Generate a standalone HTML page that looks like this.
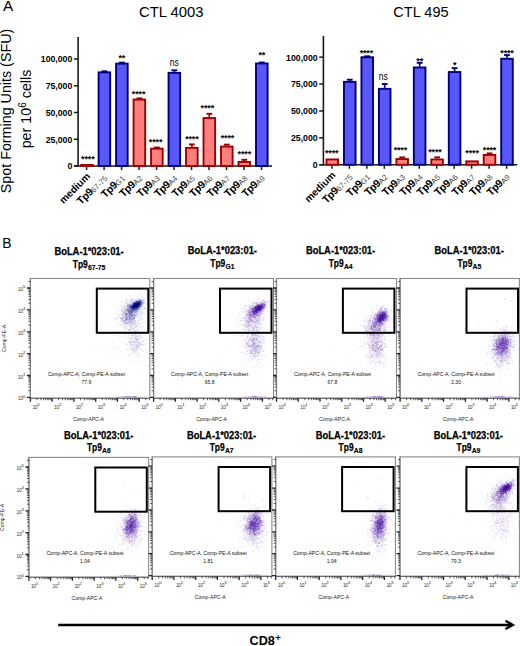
<!DOCTYPE html>
<html><head><meta charset="utf-8"><style>
html,body{margin:0;padding:0;background:#fff;overflow:hidden;}
svg{display:block;font-family:"Liberation Sans", sans-serif;}
</style></head><body>
<svg width="520" height="646" viewBox="0 0 520 646">
<rect width="520" height="646" fill="#fff"/>
<text x="3.0" y="10.8" font-size="15.3" fill="#000">A</text>
<text x="171.3" y="17.2" font-size="14.8" text-anchor="middle">CTL 4003</text>
<text x="421" y="16.6" font-size="14.6" text-anchor="middle">CTL 495</text>
<text transform="translate(11.4,111) rotate(-90)" font-size="14.3" text-anchor="middle">Spot Forming Units (SFU)</text>
<text transform="translate(30.7,109) rotate(-90)" font-size="14.3" text-anchor="middle">per 10<tspan font-size="10" dy="-5.2">6</tspan><tspan dy="5.2"> cells</tspan></text>
<line x1="78.1" y1="37" x2="78.1" y2="166.75" stroke="#1a1a1a" stroke-width="1.6"/>
<line x1="74.1" y1="166" x2="272" y2="166" stroke="#1a1a1a" stroke-width="1.6"/>
<line x1="73.89999999999999" y1="166.00" x2="78.1" y2="166.00" stroke="#1a1a1a" stroke-width="1.5"/>
<text x="72.3" y="169.40" font-size="9.6" font-weight="bold" text-anchor="end" textLength="4.85" lengthAdjust="spacingAndGlyphs">0</text>
<line x1="73.89999999999999" y1="139.25" x2="78.1" y2="139.25" stroke="#1a1a1a" stroke-width="1.5"/>
<text x="72.3" y="142.65" font-size="9.6" font-weight="bold" text-anchor="end" textLength="26.66" lengthAdjust="spacingAndGlyphs">25,000</text>
<line x1="73.89999999999999" y1="112.50" x2="78.1" y2="112.50" stroke="#1a1a1a" stroke-width="1.5"/>
<text x="72.3" y="115.90" font-size="9.6" font-weight="bold" text-anchor="end" textLength="26.66" lengthAdjust="spacingAndGlyphs">50,000</text>
<line x1="73.89999999999999" y1="85.75" x2="78.1" y2="85.75" stroke="#1a1a1a" stroke-width="1.5"/>
<text x="72.3" y="89.15" font-size="9.6" font-weight="bold" text-anchor="end" textLength="26.66" lengthAdjust="spacingAndGlyphs">75,000</text>
<line x1="73.89999999999999" y1="59.00" x2="78.1" y2="59.00" stroke="#1a1a1a" stroke-width="1.5"/>
<text x="72.3" y="62.40" font-size="9.6" font-weight="bold" text-anchor="end" textLength="31.50" lengthAdjust="spacingAndGlyphs">100,000</text>
<line x1="86.60" y1="166" x2="86.60" y2="170" stroke="#1a1a1a" stroke-width="1.5"/>
<text transform="translate(90.80,177.00) rotate(-45)" font-size="10.1" font-weight="bold" text-anchor="end">medium</text>
<line x1="104.09" y1="166" x2="104.09" y2="170" stroke="#1a1a1a" stroke-width="1.5"/>
<text transform="translate(107.69,178.60) rotate(-45)" font-size="10.6" font-weight="bold" text-anchor="end" letter-spacing="-0.4">Tp9<tspan font-weight="normal" font-size="7.8" fill="#4a4a4a" dy="0.6" letter-spacing="0">67-75</tspan></text>
<line x1="121.58" y1="166" x2="121.58" y2="170" stroke="#1a1a1a" stroke-width="1.5"/>
<text transform="translate(125.18,178.60) rotate(-45)" font-size="10.6" font-weight="bold" text-anchor="end" letter-spacing="-0.4">Tp9<tspan font-weight="normal" font-size="7.8" fill="#4a4a4a" dy="0.6" letter-spacing="0">G1</tspan></text>
<line x1="139.07" y1="166" x2="139.07" y2="170" stroke="#1a1a1a" stroke-width="1.5"/>
<text transform="translate(142.67,178.60) rotate(-45)" font-size="10.6" font-weight="bold" text-anchor="end" letter-spacing="-0.4">Tp9<tspan font-weight="normal" font-size="7.8" fill="#4a4a4a" dy="0.6" letter-spacing="0">A2</tspan></text>
<line x1="156.56" y1="166" x2="156.56" y2="170" stroke="#1a1a1a" stroke-width="1.5"/>
<text transform="translate(160.16,178.60) rotate(-45)" font-size="10.6" font-weight="bold" text-anchor="end" letter-spacing="-0.4">Tp9<tspan font-weight="normal" font-size="7.8" fill="#4a4a4a" dy="0.6" letter-spacing="0">A3</tspan></text>
<line x1="174.05" y1="166" x2="174.05" y2="170" stroke="#1a1a1a" stroke-width="1.5"/>
<text transform="translate(177.65,178.60) rotate(-45)" font-size="10.6" font-weight="bold" text-anchor="end" letter-spacing="-0.4">Tp9<tspan font-weight="normal" font-size="7.8" fill="#4a4a4a" dy="0.6" letter-spacing="0">A4</tspan></text>
<line x1="191.54" y1="166" x2="191.54" y2="170" stroke="#1a1a1a" stroke-width="1.5"/>
<text transform="translate(195.14,178.60) rotate(-45)" font-size="10.6" font-weight="bold" text-anchor="end" letter-spacing="-0.4">Tp9<tspan font-weight="normal" font-size="7.8" fill="#4a4a4a" dy="0.6" letter-spacing="0">A5</tspan></text>
<line x1="209.03" y1="166" x2="209.03" y2="170" stroke="#1a1a1a" stroke-width="1.5"/>
<text transform="translate(212.63,178.60) rotate(-45)" font-size="10.6" font-weight="bold" text-anchor="end" letter-spacing="-0.4">Tp9<tspan font-weight="normal" font-size="7.8" fill="#4a4a4a" dy="0.6" letter-spacing="0">A6</tspan></text>
<line x1="226.52" y1="166" x2="226.52" y2="170" stroke="#1a1a1a" stroke-width="1.5"/>
<text transform="translate(230.12,178.60) rotate(-45)" font-size="10.6" font-weight="bold" text-anchor="end" letter-spacing="-0.4">Tp9<tspan font-weight="normal" font-size="7.8" fill="#4a4a4a" dy="0.6" letter-spacing="0">A7</tspan></text>
<line x1="244.01" y1="166" x2="244.01" y2="170" stroke="#1a1a1a" stroke-width="1.5"/>
<text transform="translate(247.61,178.60) rotate(-45)" font-size="10.6" font-weight="bold" text-anchor="end" letter-spacing="-0.4">Tp9<tspan font-weight="normal" font-size="7.8" fill="#4a4a4a" dy="0.6" letter-spacing="0">A8</tspan></text>
<line x1="261.50" y1="166" x2="261.50" y2="170" stroke="#1a1a1a" stroke-width="1.5"/>
<text transform="translate(265.10,178.60) rotate(-45)" font-size="10.6" font-weight="bold" text-anchor="end" letter-spacing="-0.4">Tp9<tspan font-weight="normal" font-size="7.8" fill="#4a4a4a" dy="0.6" letter-spacing="0">A9</tspan></text>
<rect x="81.10" y="164.95" width="11.60" height="1.05" fill="#ff7f7f" stroke="#9c0000" stroke-width="1.9"/>
<text x="87.80" y="161.50" font-size="9" font-weight="bold" text-anchor="middle" letter-spacing="-0.15">****</text>
<line x1="104.39" y1="71.40" x2="104.39" y2="71.00" stroke="#000078" stroke-width="1.7"/>
<line x1="101.49" y1="71.30" x2="107.29" y2="71.30" stroke="#000078" stroke-width="1.9"/>
<rect x="98.59" y="72.35" width="11.60" height="93.65" fill="#5757fa" stroke="#000078" stroke-width="1.9"/>
<line x1="121.88" y1="62.70" x2="121.88" y2="62.30" stroke="#000078" stroke-width="1.7"/>
<line x1="118.98" y1="62.60" x2="124.78" y2="62.60" stroke="#000078" stroke-width="1.9"/>
<rect x="116.08" y="63.65" width="11.60" height="102.35" fill="#5757fa" stroke="#000078" stroke-width="1.9"/>
<text x="121.88" y="60.80" font-size="9" font-weight="bold" text-anchor="middle" letter-spacing="-0.15">**</text>
<line x1="139.37" y1="98.60" x2="139.37" y2="98.10" stroke="#9c0000" stroke-width="1.7"/>
<line x1="136.47" y1="98.40" x2="142.27" y2="98.40" stroke="#9c0000" stroke-width="1.9"/>
<rect x="133.57" y="99.55" width="11.60" height="66.45" fill="#ff7f7f" stroke="#9c0000" stroke-width="1.9"/>
<text x="138.57" y="96.50" font-size="9" font-weight="bold" text-anchor="middle" letter-spacing="-0.15">****</text>
<line x1="156.86" y1="147.70" x2="156.86" y2="147.20" stroke="#9c0000" stroke-width="1.7"/>
<line x1="153.96" y1="147.50" x2="159.76" y2="147.50" stroke="#9c0000" stroke-width="1.9"/>
<rect x="151.06" y="148.65" width="11.60" height="17.35" fill="#ff7f7f" stroke="#9c0000" stroke-width="1.9"/>
<text x="155.56" y="145.10" font-size="9" font-weight="bold" text-anchor="middle" letter-spacing="-0.15">****</text>
<line x1="174.35" y1="71.90" x2="174.35" y2="70.00" stroke="#000078" stroke-width="1.7"/>
<line x1="171.45" y1="70.30" x2="177.25" y2="70.30" stroke="#000078" stroke-width="1.9"/>
<rect x="168.55" y="72.85" width="11.60" height="93.15" fill="#5757fa" stroke="#000078" stroke-width="1.9"/>
<text x="169.85" y="66.20" font-size="10.4" textLength="9" lengthAdjust="spacingAndGlyphs">ns</text>
<line x1="191.84" y1="146.90" x2="191.84" y2="144.10" stroke="#9c0000" stroke-width="1.7"/>
<line x1="188.94" y1="144.40" x2="194.74" y2="144.40" stroke="#9c0000" stroke-width="1.9"/>
<rect x="186.04" y="147.85" width="11.60" height="18.15" fill="#ff7f7f" stroke="#9c0000" stroke-width="1.9"/>
<text x="191.84" y="141.75" font-size="9" font-weight="bold" text-anchor="middle" letter-spacing="-0.15">****</text>
<line x1="209.33" y1="117.10" x2="209.33" y2="113.50" stroke="#9c0000" stroke-width="1.7"/>
<line x1="206.43" y1="113.80" x2="212.23" y2="113.80" stroke="#9c0000" stroke-width="1.9"/>
<rect x="203.53" y="118.05" width="11.60" height="47.95" fill="#ff7f7f" stroke="#9c0000" stroke-width="1.9"/>
<text x="207.33" y="111.40" font-size="9" font-weight="bold" text-anchor="middle" letter-spacing="-0.15">****</text>
<line x1="226.82" y1="145.60" x2="226.82" y2="144.30" stroke="#9c0000" stroke-width="1.7"/>
<line x1="223.92" y1="144.60" x2="229.72" y2="144.60" stroke="#9c0000" stroke-width="1.9"/>
<rect x="221.02" y="146.55" width="11.60" height="19.45" fill="#ff7f7f" stroke="#9c0000" stroke-width="1.9"/>
<text x="227.42" y="141.00" font-size="9" font-weight="bold" text-anchor="middle" letter-spacing="-0.15">****</text>
<line x1="244.31" y1="161.00" x2="244.31" y2="159.50" stroke="#9c0000" stroke-width="1.7"/>
<line x1="241.41" y1="159.80" x2="247.21" y2="159.80" stroke="#9c0000" stroke-width="1.9"/>
<rect x="238.51" y="161.95" width="11.60" height="4.05" fill="#ff7f7f" stroke="#9c0000" stroke-width="1.9"/>
<text x="244.31" y="156.50" font-size="9" font-weight="bold" text-anchor="middle" letter-spacing="-0.15">****</text>
<line x1="261.80" y1="62.50" x2="261.80" y2="62.20" stroke="#000078" stroke-width="1.7"/>
<line x1="258.90" y1="62.50" x2="264.70" y2="62.50" stroke="#000078" stroke-width="1.9"/>
<rect x="256.00" y="63.45" width="11.60" height="102.55" fill="#5757fa" stroke="#000078" stroke-width="1.9"/>
<text x="261.80" y="57.50" font-size="9" font-weight="bold" text-anchor="middle" letter-spacing="-0.15">**</text>
<line x1="323.4" y1="35.9" x2="323.4" y2="165.5" stroke="#1a1a1a" stroke-width="1.6"/>
<line x1="319.4" y1="164.75" x2="517.3" y2="164.75" stroke="#1a1a1a" stroke-width="1.6"/>
<line x1="319.2" y1="164.75" x2="323.4" y2="164.75" stroke="#1a1a1a" stroke-width="1.5"/>
<text x="317.59999999999997" y="168.15" font-size="9.6" font-weight="bold" text-anchor="end" textLength="4.85" lengthAdjust="spacingAndGlyphs">0</text>
<line x1="319.2" y1="137.85" x2="323.4" y2="137.85" stroke="#1a1a1a" stroke-width="1.5"/>
<text x="317.59999999999997" y="141.25" font-size="9.6" font-weight="bold" text-anchor="end" textLength="26.66" lengthAdjust="spacingAndGlyphs">25,000</text>
<line x1="319.2" y1="110.95" x2="323.4" y2="110.95" stroke="#1a1a1a" stroke-width="1.5"/>
<text x="317.59999999999997" y="114.35" font-size="9.6" font-weight="bold" text-anchor="end" textLength="26.66" lengthAdjust="spacingAndGlyphs">50,000</text>
<line x1="319.2" y1="84.05" x2="323.4" y2="84.05" stroke="#1a1a1a" stroke-width="1.5"/>
<text x="317.59999999999997" y="87.45" font-size="9.6" font-weight="bold" text-anchor="end" textLength="26.66" lengthAdjust="spacingAndGlyphs">75,000</text>
<line x1="319.2" y1="57.15" x2="323.4" y2="57.15" stroke="#1a1a1a" stroke-width="1.5"/>
<text x="317.59999999999997" y="60.55" font-size="9.6" font-weight="bold" text-anchor="end" textLength="31.50" lengthAdjust="spacingAndGlyphs">100,000</text>
<line x1="331.90" y1="164.75" x2="331.90" y2="168.75" stroke="#1a1a1a" stroke-width="1.5"/>
<text transform="translate(336.10,175.75) rotate(-45)" font-size="10.1" font-weight="bold" text-anchor="end">medium</text>
<line x1="349.37" y1="164.75" x2="349.37" y2="168.75" stroke="#1a1a1a" stroke-width="1.5"/>
<text transform="translate(352.97,177.35) rotate(-45)" font-size="10.6" font-weight="bold" text-anchor="end" letter-spacing="-0.4">Tp9<tspan font-weight="normal" font-size="7.8" fill="#4a4a4a" dy="0.6" letter-spacing="0">67-75</tspan></text>
<line x1="366.84" y1="164.75" x2="366.84" y2="168.75" stroke="#1a1a1a" stroke-width="1.5"/>
<text transform="translate(370.44,177.35) rotate(-45)" font-size="10.6" font-weight="bold" text-anchor="end" letter-spacing="-0.4">Tp9<tspan font-weight="normal" font-size="7.8" fill="#4a4a4a" dy="0.6" letter-spacing="0">G1</tspan></text>
<line x1="384.31" y1="164.75" x2="384.31" y2="168.75" stroke="#1a1a1a" stroke-width="1.5"/>
<text transform="translate(387.91,177.35) rotate(-45)" font-size="10.6" font-weight="bold" text-anchor="end" letter-spacing="-0.4">Tp9<tspan font-weight="normal" font-size="7.8" fill="#4a4a4a" dy="0.6" letter-spacing="0">A2</tspan></text>
<line x1="401.78" y1="164.75" x2="401.78" y2="168.75" stroke="#1a1a1a" stroke-width="1.5"/>
<text transform="translate(405.38,177.35) rotate(-45)" font-size="10.6" font-weight="bold" text-anchor="end" letter-spacing="-0.4">Tp9<tspan font-weight="normal" font-size="7.8" fill="#4a4a4a" dy="0.6" letter-spacing="0">A3</tspan></text>
<line x1="419.25" y1="164.75" x2="419.25" y2="168.75" stroke="#1a1a1a" stroke-width="1.5"/>
<text transform="translate(422.85,177.35) rotate(-45)" font-size="10.6" font-weight="bold" text-anchor="end" letter-spacing="-0.4">Tp9<tspan font-weight="normal" font-size="7.8" fill="#4a4a4a" dy="0.6" letter-spacing="0">A4</tspan></text>
<line x1="436.72" y1="164.75" x2="436.72" y2="168.75" stroke="#1a1a1a" stroke-width="1.5"/>
<text transform="translate(440.32,177.35) rotate(-45)" font-size="10.6" font-weight="bold" text-anchor="end" letter-spacing="-0.4">Tp9<tspan font-weight="normal" font-size="7.8" fill="#4a4a4a" dy="0.6" letter-spacing="0">A5</tspan></text>
<line x1="454.19" y1="164.75" x2="454.19" y2="168.75" stroke="#1a1a1a" stroke-width="1.5"/>
<text transform="translate(457.79,177.35) rotate(-45)" font-size="10.6" font-weight="bold" text-anchor="end" letter-spacing="-0.4">Tp9<tspan font-weight="normal" font-size="7.8" fill="#4a4a4a" dy="0.6" letter-spacing="0">A6</tspan></text>
<line x1="471.66" y1="164.75" x2="471.66" y2="168.75" stroke="#1a1a1a" stroke-width="1.5"/>
<text transform="translate(475.26,177.35) rotate(-45)" font-size="10.6" font-weight="bold" text-anchor="end" letter-spacing="-0.4">Tp9<tspan font-weight="normal" font-size="7.8" fill="#4a4a4a" dy="0.6" letter-spacing="0">A7</tspan></text>
<line x1="489.13" y1="164.75" x2="489.13" y2="168.75" stroke="#1a1a1a" stroke-width="1.5"/>
<text transform="translate(492.73,177.35) rotate(-45)" font-size="10.6" font-weight="bold" text-anchor="end" letter-spacing="-0.4">Tp9<tspan font-weight="normal" font-size="7.8" fill="#4a4a4a" dy="0.6" letter-spacing="0">A8</tspan></text>
<line x1="506.60" y1="164.75" x2="506.60" y2="168.75" stroke="#1a1a1a" stroke-width="1.5"/>
<text transform="translate(510.20,177.35) rotate(-45)" font-size="10.6" font-weight="bold" text-anchor="end" letter-spacing="-0.4">Tp9<tspan font-weight="normal" font-size="7.8" fill="#4a4a4a" dy="0.6" letter-spacing="0">A9</tspan></text>
<rect x="326.50" y="159.45" width="11.60" height="5.30" fill="#ff7f7f" stroke="#9c0000" stroke-width="1.9"/>
<text x="331.70" y="155.75" font-size="9" font-weight="bold" text-anchor="middle" letter-spacing="-0.15">****</text>
<line x1="349.77" y1="80.90" x2="349.77" y2="79.40" stroke="#000078" stroke-width="1.7"/>
<line x1="346.87" y1="79.70" x2="352.67" y2="79.70" stroke="#000078" stroke-width="1.9"/>
<rect x="343.97" y="81.85" width="11.60" height="82.90" fill="#5757fa" stroke="#000078" stroke-width="1.9"/>
<line x1="367.24" y1="56.30" x2="367.24" y2="56.00" stroke="#000078" stroke-width="1.7"/>
<line x1="364.34" y1="56.30" x2="370.14" y2="56.30" stroke="#000078" stroke-width="1.9"/>
<rect x="361.44" y="57.25" width="11.60" height="107.50" fill="#5757fa" stroke="#000078" stroke-width="1.9"/>
<text x="366.34" y="56.40" font-size="9" font-weight="bold" text-anchor="middle" letter-spacing="-0.15">****</text>
<line x1="384.71" y1="87.90" x2="384.71" y2="83.75" stroke="#000078" stroke-width="1.7"/>
<line x1="381.81" y1="84.05" x2="387.61" y2="84.05" stroke="#000078" stroke-width="1.9"/>
<rect x="378.91" y="88.85" width="11.60" height="75.90" fill="#5757fa" stroke="#000078" stroke-width="1.9"/>
<text x="378.81" y="80.00" font-size="10.4" textLength="9" lengthAdjust="spacingAndGlyphs">ns</text>
<line x1="402.18" y1="158.10" x2="402.18" y2="157.10" stroke="#9c0000" stroke-width="1.7"/>
<line x1="399.28" y1="157.40" x2="405.08" y2="157.40" stroke="#9c0000" stroke-width="1.9"/>
<rect x="396.38" y="159.05" width="11.60" height="5.70" fill="#ff7f7f" stroke="#9c0000" stroke-width="1.9"/>
<text x="400.38" y="153.00" font-size="9" font-weight="bold" text-anchor="middle" letter-spacing="-0.15">****</text>
<line x1="419.65" y1="66.50" x2="419.65" y2="62.50" stroke="#000078" stroke-width="1.7"/>
<line x1="416.75" y1="62.80" x2="422.55" y2="62.80" stroke="#000078" stroke-width="1.9"/>
<rect x="413.85" y="67.45" width="11.60" height="97.30" fill="#5757fa" stroke="#000078" stroke-width="1.9"/>
<text x="419.65" y="63.50" font-size="9" font-weight="bold" text-anchor="middle" letter-spacing="-0.15">**</text>
<line x1="437.12" y1="158.50" x2="437.12" y2="157.00" stroke="#9c0000" stroke-width="1.7"/>
<line x1="434.22" y1="157.30" x2="440.02" y2="157.30" stroke="#9c0000" stroke-width="1.9"/>
<rect x="431.32" y="159.45" width="11.60" height="5.30" fill="#ff7f7f" stroke="#9c0000" stroke-width="1.9"/>
<text x="434.92" y="154.90" font-size="9" font-weight="bold" text-anchor="middle" letter-spacing="-0.15">****</text>
<line x1="454.59" y1="71.10" x2="454.59" y2="67.80" stroke="#000078" stroke-width="1.7"/>
<line x1="451.69" y1="68.10" x2="457.49" y2="68.10" stroke="#000078" stroke-width="1.9"/>
<rect x="448.79" y="72.05" width="11.60" height="92.70" fill="#5757fa" stroke="#000078" stroke-width="1.9"/>
<text x="454.59" y="68.00" font-size="9" font-weight="bold" text-anchor="middle" letter-spacing="-0.15">*</text>
<rect x="466.26" y="161.35" width="11.60" height="3.40" fill="#ff7f7f" stroke="#9c0000" stroke-width="1.9"/>
<text x="472.06" y="156.10" font-size="9" font-weight="bold" text-anchor="middle" letter-spacing="-0.15">****</text>
<line x1="489.53" y1="154.00" x2="489.53" y2="153.10" stroke="#9c0000" stroke-width="1.7"/>
<line x1="486.63" y1="153.40" x2="492.43" y2="153.40" stroke="#9c0000" stroke-width="1.9"/>
<rect x="483.73" y="154.95" width="11.60" height="9.80" fill="#ff7f7f" stroke="#9c0000" stroke-width="1.9"/>
<text x="489.53" y="153.00" font-size="9" font-weight="bold" text-anchor="middle" letter-spacing="-0.15">****</text>
<line x1="507.00" y1="57.80" x2="507.00" y2="54.80" stroke="#000078" stroke-width="1.7"/>
<line x1="504.10" y1="55.10" x2="509.90" y2="55.10" stroke="#000078" stroke-width="1.9"/>
<rect x="501.20" y="58.75" width="11.60" height="106.00" fill="#5757fa" stroke="#000078" stroke-width="1.9"/>
<text x="507.00" y="56.10" font-size="9" font-weight="bold" text-anchor="middle" letter-spacing="-0.15">****</text>
<text x="2.3" y="247.8" font-size="14" fill="#000">B</text>
<text x="54.4" y="255.0" font-size="10.2" font-weight="bold" stroke="#000" stroke-width="0.25" textLength="69.3" lengthAdjust="spacingAndGlyphs">BoLA-1*023:01-</text>
<text x="72.8" y="267.6" font-size="10.2" font-weight="bold" stroke="#000" stroke-width="0.25" textLength="15" lengthAdjust="spacingAndGlyphs">Tp9</text>
<text x="88.0" y="269.9" font-size="6.8" font-weight="bold" stroke="#000" stroke-width="0.15">67-75</text>
<rect x="30.4" y="278.5" width="119.4" height="119.69999999999999" fill="#fff" stroke="#8a8a8a" stroke-width="1.1"/>
<g transform="translate(30.4,278.6) scale(0.1)" stroke="#14168a" stroke-width="7.0" stroke-linecap="round" fill="none"><path d="M991 200h3m-202 4h3m-53 20h3m240 3h3m98 11h3m-265 29h3m244 25h3m-207 26h3m2 1h3m-191 50h3m275 5h3m-207 8h3m153 18h3m-53 1h3m45 15h3m-46 13h3m41 3h3m249 1h3m-264 6h3m-42 6h3m23 6h3m22 6h3m-245 6h3m-30 4h3m363 10h3m35 5h3m-94 4h3m-164 2h3m217 17h3m-262 5h3m338 9h3m-108 6h3m-305 7h3m409 7h3m-167 9h3m64 5h3m37 10h3m44 0h3m-87 3h3m-176 2h3m50 13h3m234 22h3m59 9h3m-370 22h3m146 3h3m33 3h3m-71 8h3m168 14h3m-276 20h3m31 1h3m-57 5h3m-73 1h3m44 3h3m333 6h3m-304 11h3m-194 7h3m263 12h3m-178 3h3m129 20h3m-68 5h3m187 7h3m129 29h3m-176 8h3m-157 19h3m267 16h3m-294 20h3m327 47h3m-163 1h3m18 3h3" stroke-opacity="0.15"/><path d="M958 213h3m-48 8h3m15 12h3m36 18h3m62 9h3m-94 1h3m27 0h3m-72 5h3m140 5h3m-136 2h3m60 1h3m-77 4h3m59 2h3m50 1h3m-157 4h3m160 3h3m-103 2h3m58 0h3m36 1h3m-93 3h3m115 3h3m-37 7h3m-115 1h3m47 2h3m-33 3h3m33 0h3m-33 3h3m33 1h3m63 0h3m-52 2h3m34 0h3m-123 2h3m5 0h3m32 2h3m47 1h3m-14 2h3m-99 2h3m40 1h3m30 0h3m40 1h3m-81 1h3m46 0h3m21 0h3m16 0h3m-66 1h3m11 1h3m9 0h3m-81 1h3m51 0h3m61 0h3m-97 2h3m-2 0h3m86 0h3m-23 1h3m14 1h3m-1 0h3m-38 1h3m61 0h3m-135 1h3m118 4h3m-106 2h3m28 0h3m8 0h3m-21 1h3m182 1h3m-138 1h3m-93 1h3m79 0h3m-73 1h3m17 0h3m20 0h3m23 1h3m7 0h3m37 0h3m-55 1h3m79 0h3m-148 1h3m16 0h3m50 0h3m-53 2h3m3 0h3m-112 1h3m34 1h3m13 0h3m81 1h3m-110 1h3m23 1h3m1 0h3m0 1h3m-48 1h3m164 0h3m-4 1h3m18 0h3m19 1h3m-90 1h3m-34 1h3m39 1h3m-44 1h3m28 0h3m59 0h3m-67 3h3m7 0h3m-82 1h3m103 0h3m-25 1h3m-77 1h3m-19 1h3m47 0h3m26 0h3m13 0h3m8 0h3m-69 1h3m33 0h3m15 0h3m30 1h3m-145 1h3m37 3h3m30 0h3m70 1h3m-23 1h3m-86 1h3m83 0h3m-83 1h3m31 1h3m80 0h3m-210 1h3m19 0h3m-9 1h3m83 0h3m-1 0h3m19 0h3m45 0h3m-124 1h3m67 0h3m45 0h3m-112 1h3m12 0h3m83 0h3m-109 1h3m63 0h3m43 1h3m-2 0h3m-80 1h3m-25 1h3m99 0h3m-88 1h3m12 0h3m65 0h3m-95 1h3m-93 1h3m86 0h3m-42 1h3m37 0h3m-41 1h3m96 0h3m-31 1h3m10 1h3m26 0h3m9 0h3m1 0h3m-137 1h3m55 0h3m11 0h3m58 1h3m7 0h3m-87 1h3m23 0h3m4 0h3m-137 1h3m84 0h3m12 0h3m26 0h3m16 0h3m-2 0h3m-152 1h3m123 0h3m131 0h3m-123 1h3m-85 1h3m39 0h3m22 0h3m2 0h3m123 0h3m-116 1h3m2 0h3m-22 1h3m89 0h3m-114 1h3m-47 2h3m0 0h3m35 0h3m-126 1h3m100 0h3m-47 1h3m63 1h3m-20 1h3m0 0h3m96 0h3m-96 1h3m-59 1h3m76 0h3m89 0h3m-82 1h3m74 0h3m-137 1h3m-1 0h3m82 0h3m19 0h3m-42 2h3m-90 1h3m14 0h3m41 0h3m39 0h3m-97 1h3m30 0h3m30 0h3m-48 1h3m74 0h3m-85 1h3m57 0h3m-79 1h3m0 0h3m106 0h3m-138 3h3m93 0h3m-26 2h3m16 1h3m7 0h3m26 0h3m31 0h3m-87 1h3m0 0h3m-64 1h3m57 0h3m15 0h3m-101 1h3m46 0h3m81 0h3m20 0h3m-136 1h3m60 0h3m-13 1h3m21 0h3m14 2h3m-111 1h3m61 0h3m53 0h3m-98 1h3m17 1h3m-1 0h3m42 1h3m-139 1h3m74 0h3m17 0h3m2 0h3m52 0h3m40 0h3m-83 1h3m46 0h3m-110 1h3m50 0h3m9 0h3m10 0h3m18 0h3m66 0h3m-158 1h3m133 0h3m-126 1h3m28 1h3m37 0h3m-55 1h3m53 2h3m-91 1h3m37 0h3m-81 1h3m37 0h3m120 1h3m5 1h3m-160 1h3m64 0h3m-39 1h3m94 0h3m-163 1h3m83 0h3m98 0h3m-63 1h3m-6 1h3m0 1h3m7 0h3m-22 2h3m-37 1h3m-30 2h3m133 0h3m-110 1h3m-24 1h3m50 0h3m35 3h3m-142 1h3m82 0h3m53 0h3m14 0h3m-105 1h3m53 0h3m-97 1h3m-87 1h3m161 0h3m41 0h3m67 0h3m-69 1h3m35 1h3m-190 1h3m144 0h3m-63 1h3m-1 0h3m-39 2h3m30 0h3m11 1h3m-74 1h3m68 1h3m41 0h3m62 3h3m-83 2h3m-99 1h3m65 0h3m66 0h3m25 0h3m-62 1h3m-103 1h3m88 0h3m37 1h3m-91 1h3m35 0h3m-105 1h3m66 0h3m-37 3h3m54 0h3m-3 2h3m2 1h3m114 3h3m-149 1h3m10 0h3m-20 1h3m-38 1h3m20 0h3m-2 0h3m54 0h3m-45 2h3m-16 1h3m78 1h3m-29 1h3m26 0h3m-114 1h3m120 0h3m-93 1h3m52 1h3m-39 5h3m-25 2h3m132 0h3m-60 1h3m-67 1h3m46 0h3m-121 1h3m53 0h3m56 0h3m-8 1h3m-17 2h3m28 0h3m36 0h3m-112 2h3m37 1h3m36 1h3m-27 1h3m24 0h3m-143 2h3m93 1h3m16 0h3m88 3h3m-107 1h3m15 0h3m-68 1h3m-76 1h3m159 2h3m-63 2h3m-10 1h3m40 0h3m-1 0h3m-24 1h3m17 0h3m-29 2h3m47 1h3m-46 2h3m19 3h3m28 0h3m-172 1h3m89 0h3m-32 1h3m57 0h3m15 1h3m40 1h3m-219 3h3m140 0h3m-5 1h3m-72 2h3m176 0h3m-59 1h3m23 0h3m-84 2h3m64 0h3m-93 1h3m24 1h3m2 0h3m-55 1h3m13 0h3m22 0h3m43 0h3m-24 1h3m8 0h3m10 3h3m4 0h3m-150 2h3m122 0h3m25 3h3m15 0h3m-52 1h3m40 0h3m-111 1h3m23 2h3m37 0h3m-32 1h3m81 0h3m-36 1h3m-98 1h3m68 0h3m-28 2h3m8 0h3m-31 2h3m36 0h3m-88 1h3m82 0h3m-48 2h3m87 0h3m-27 1h3m-9 3h3m-96 1h3m20 1h3m7 0h3m85 0h3m-90 1h3m48 0h3m6 0h3m1 1h3m71 1h3m-143 1h3m30 0h3m-1 0h3m25 0h3m70 0h3m-101 2h3m22 0h3m6 0h3m-30 1h3m15 0h3m4 0h3m28 0h3m-126 3h3m76 0h3m-7 2h3m-48 1h3m33 0h3m70 0h3m-59 1h3m0 0h3m-51 4h3m8 2h3m25 1h3m9 1h3m44 0h3m-134 2h3m102 0h3m11 0h3m-95 1h3m32 0h3m70 0h3m-121 1h3m23 0h3m15 1h3m77 0h3m-97 2h3m-48 1h3m28 0h3m2 0h3m-32 1h3m57 0h3m-64 1h3m76 0h3m-39 1h3m37 0h3m-59 1h3m63 1h3m20 0h3m-109 1h3m34 0h3m-46 1h3m-1 0h3m65 0h3m-30 1h3m15 0h3m-18 1h3m40 1h3m50 0h3m-159 1h3m21 0h3m50 0h3m-77 1h3m101 0h3m14 0h3m-35 3h3m32 0h3m-29 1h3m-1 1h3m-78 1h3m64 0h3m-127 1h3m80 0h3m5 0h3m-26 3h3m7 2h3m27 0h3m-102 1h3m46 0h3m97 0h3m-152 1h3m37 0h3m141 0h3m-58 2h3m-3 0h3m-40 1h3m32 0h3m11 0h3m18 0h3m-123 1h3m33 0h3m7 0h3m68 0h3m-98 1h3m-33 1h3m59 0h3m20 0h3m-110 1h3m26 0h3m67 1h3m14 1h3m-75 1h3m30 0h3m17 0h3m1 0h3m37 0h3m-85 1h3m21 0h3m22 0h3m-19 2h3m-10 3h3m11 0h3m-75 1h3m5 2h3m51 2h3m-26 1h3m32 0h3m-33 1h3m-64 1h3m36 1h3m16 0h3m16 0h3m-20 2h3m-38 1h3m56 2h3m-17 2h3m10 0h3m0 1h3m-7 1h3m-58 2h3m-35 1h3m41 0h3m54 1h3m-119 1h3m66 0h3m-13 1h3m9 0h3m25 0h3m-14 1h3m98 0h3m-150 1h3m81 0h3m-1 0h3m-130 4h3m83 0h3m-54 1h3m24 0h3m73 0h3m-42 3h3m-52 1h3m78 0h3m-110 1h3m43 0h3m-26 2h3m32 0h3m-50 2h3m14 0h3m41 0h3m-11 2h3m46 1h3m-66 1h3m-82 1h3m89 0h3m21 0h3m-51 2h3m73 1h3m-162 1h3m33 0h3m54 0h3m89 1h3m-111 1h3m6 0h3m0 5h3m20 1h3m63 0h3m-116 6h3m31 1h3m34 3h3m-49 1h3m28 2h3m-52 3h3m11 4h3m-51 1h3m83 3h3m-7 2h3m9 5h3m-91 3h3m142 0h3m-47 5h3m-61 3h3m70 3h3m-34 6h3m7 2h3m-28 2h3m-43 14h3m-9 22h3m-22 5h3m76 0h3m25 0h3" stroke-opacity="0.16"/><path d="M1112 120h3m-66 26h3m30 13h3m22 7h3m-119 1h3m115 21h3m-42 5h3m-52 5h3m53 3h3m8 0h3m-41 1h3m17 0h3m23 1h3m-206 1h3m103 1h3m15 0h3m118 2h3m-105 3h3m-74 1h3m98 1h3m-100 1h3m37 0h3m-3 0h3m0 0h3m19 0h3m92 1h3m-54 1h3m-37 1h3m78 1h3m-103 2h3m15 0h3m-47 2h3m14 1h3m40 0h3m-45 1h3m-20 1h3m10 0h3m-29 1h3m13 3h3m91 1h3m-145 1h3m3 0h3m177 0h3m-129 3h3m-108 1h3m113 0h3m40 0h3m36 3h3m-151 1h3m109 0h3m-50 1h3m-21 1h3m42 0h3m-1 0h3m9 0h3m-82 1h3m-17 2h3m106 0h3m49 0h3m3 0h3m-83 1h3m-40 1h3m51 1h3m-59 1h3m7 0h3m-37 1h3m22 0h3m3 0h3m7 0h3m45 0h3m2 0h3m33 0h3m-183 1h3m84 0h3m-2 0h3m8 0h3m52 0h3m-76 1h3m-75 1h3m132 0h3m-130 1h3m-32 1h3m39 0h3m52 0h3m-40 1h3m28 0h3m11 0h3m25 0h3m22 0h3m-111 1h3m8 0h3m8 0h3m11 0h3m0 1h3m73 1h3m-103 2h3m19 0h3m8 0h3m-43 1h3m74 0h3m-56 1h3m-2 0h3m29 0h3m25 0h3m-112 2h3m8 0h3m16 0h3m52 1h3m-79 1h3m36 0h3m1 0h3m22 0h3m-77 1h3m35 0h3m59 0h3m-111 1h3m12 0h3m39 0h3m-35 1h3m17 0h3m0 0h3m28 0h3m4 0h3m18 0h3m13 0h3m-37 1h3m7 0h3m-120 1h3m22 0h3m29 0h3m41 0h3m21 0h3m-154 1h3m51 0h3m27 0h3m22 0h3m-43 1h3m33 0h3m11 0h3m12 0h3m19 0h3m10 0h3m-120 1h3m53 0h3m21 0h3m-86 1h3m91 0h3m-128 1h3m66 0h3m97 0h3m-139 1h3m3 0h3m11 0h3m6 0h3m-1 0h3m29 0h3m-26 1h3m5 0h3m6 0h3m55 0h3m-158 1h3m43 0h3m22 0h3m0 0h3m18 0h3m93 0h3m-84 1h3m9 0h3m46 0h3m-138 1h3m16 0h3m3 0h3m17 0h3m23 0h3m18 0h3m-62 1h3m-100 1h3m135 0h3m-105 1h3m20 0h3m90 0h3m40 0h3m19 0h3m-173 1h3m33 0h3m24 0h3m17 0h3m10 0h3m23 0h3m4 0h3m-135 1h3m38 0h3m9 0h3m-3 0h3m43 0h3m16 0h3m73 0h3m-48 1h3m-124 1h3m25 0h3m6 0h3m35 0h3m-88 1h3m16 0h3m-2 0h3m13 0h3m42 1h3m74 0h3m-95 1h3m10 0h3m14 0h3m29 0h3m-138 1h3m27 0h3m4 0h3m32 0h3m57 0h3m-130 1h3m65 0h3m-151 1h3m101 0h3m97 0h3m18 0h3m-171 1h3m88 0h3m103 0h3m-121 1h3m9 0h3m28 0h3m20 0h3m50 0h3m-123 1h3m57 0h3m-51 1h3m4 0h3m28 0h3m-124 1h3m46 0h3m60 0h3m-133 1h3m118 0h3m-95 1h3m28 0h3m-25 1h3m108 0h3m74 0h3m-78 1h3m64 0h3m-198 1h3m24 0h3m29 0h3m2 0h3m55 0h3m17 0h3m-81 1h3m108 0h3m-162 1h3m51 0h3m51 0h3m-102 1h3m2 0h3m52 0h3m17 0h3m15 0h3m-78 1h3m79 0h3m38 0h3m15 0h3m-183 1h3m79 0h3m23 0h3m39 0h3m-103 1h3m8 0h3m39 0h3m-3 0h3m-125 1h3m19 0h3m21 0h3m38 0h3m-1 0h3m18 0h3m49 0h3m-160 1h3m8 0h3m3 0h3m2 0h3m14 0h3m3 0h3m22 0h3m11 0h3m51 0h3m-175 1h3m66 0h3m5 0h3m34 0h3m12 0h3m-119 1h3m22 0h3m10 0h3m4 0h3m10 0h3m56 0h3m4 0h3m-67 1h3m26 0h3m5 0h3m-24 1h3m3 0h3m-1 0h3m53 0h3m-70 1h3m35 0h3m0 0h3m-26 1h3m5 1h3m20 0h3m-99 1h3m33 0h3m-3 0h3m9 0h3m16 0h3m16 0h3m-32 1h3m21 0h3m3 0h3m0 0h3m14 0h3m1 0h3m4 0h3m38 0h3m-186 1h3m38 0h3m20 0h3m-2 0h3m41 0h3m-84 1h3m1 0h3m6 0h3m82 0h3m-133 1h3m115 0h3m-73 1h3m31 0h3m-3 0h3m62 0h3m26 0h3m-142 1h3m13 0h3m26 0h3m7 0h3m70 0h3m-86 1h3m31 0h3m-129 1h3m61 0h3m-1 0h3m21 0h3m49 0h3m13 0h3m-127 1h3m31 0h3m16 0h3m10 0h3m36 0h3m42 0h3m-121 1h3m8 0h3m4 0h3m6 0h3m16 0h3m-86 1h3m7 0h3m120 0h3m-66 1h3m38 0h3m12 0h3m-91 1h3m51 0h3m2 0h3m-46 1h3m-1 0h3m10 0h3m49 0h3m0 0h3m16 0h3m26 0h3m-128 1h3m17 0h3m-2 0h3m-69 1h3m-5 1h3m54 0h3m15 0h3m22 0h3m2 0h3m-98 1h3m38 1h3m11 0h3m29 0h3m17 0h3m-133 1h3m6 0h3m37 0h3m10 0h3m1 0h3m56 0h3m-65 1h3m5 0h3m11 0h3m8 0h3m41 0h3m23 0h3m16 0h3m-173 1h3m16 0h3m78 0h3m-109 1h3m75 0h3m4 0h3m-44 1h3m8 0h3m13 0h3m1 0h3m10 0h3m24 0h3m-32 1h3m55 0h3m-125 1h3m3 0h3m14 0h3m15 0h3m8 0h3m109 0h3m-176 1h3m35 0h3m79 0h3m-89 1h3m65 0h3m54 0h3m-170 1h3m8 0h3m23 0h3m33 0h3m5 0h3m-60 1h3m35 0h3m95 0h3m-130 1h3m22 0h3m-2 0h3m9 0h3m2 0h3m104 0h3m-185 1h3m25 0h3m66 0h3m-86 1h3m27 0h3m42 0h3m44 1h3m-116 1h3m6 0h3m9 0h3m1 0h3m34 0h3m-3 0h3m12 0h3m14 0h3m-139 1h3m71 0h3m54 0h3m50 0h3m29 0h3m-171 1h3m6 0h3m-66 1h3m28 0h3m1 0h3m0 0h3m37 0h3m-64 1h3m16 0h3m6 0h3m26 0h3m0 0h3m17 0h3m-69 1h3m36 0h3m10 0h3m18 0h3m-72 1h3m17 0h3m9 0h3m16 0h3m21 0h3m71 0h3m14 0h3m-168 1h3m55 0h3m42 0h3m-110 1h3m33 0h3m18 0h3m55 1h3m-115 1h3m49 0h3m-81 1h3m27 0h3m-2 0h3m54 0h3m4 0h3m11 0h3m11 0h3m-121 1h3m25 0h3m50 0h3m6 0h3m10 0h3m8 0h3m-92 1h3m31 0h3m25 1h3m20 0h3m6 0h3m-112 1h3m29 0h3m66 0h3m1 0h3m-56 1h3m17 0h3m9 0h3m13 0h3m17 0h3m-115 1h3m41 0h3m10 0h3m-10 1h3m8 0h3m2 0h3m-1 1h3m73 0h3m-140 1h3m20 0h3m5 0h3m-3 1h3m4 0h3m10 0h3m90 0h3m-226 1h3m95 0h3m55 0h3m55 0h3m-172 1h3m21 0h3m28 0h3m4 0h3m6 0h3m14 0h3m22 0h3m-18 1h3m-65 1h3m18 0h3m48 0h3m-72 1h3m2 0h3m2 0h3m4 0h3m-67 1h3m165 0h3m-167 2h3m42 1h3m34 0h3m11 0h3m-65 1h3m40 0h3m7 0h3m5 0h3m80 0h3m-170 1h3m61 0h3m-59 1h3m6 0h3m10 1h3m17 0h3m4 0h3m23 0h3m48 0h3m-29 1h3m-136 1h3m59 0h3m85 0h3m-42 1h3m23 0h3m-3 0h3m35 0h3m-113 1h3m32 0h3m16 0h3m-32 1h3m-42 1h3m39 0h3m-96 1h3m87 0h3m-80 1h3m66 0h3m3 1h3m0 0h3m-2 0h3m31 0h3m-132 1h3m85 1h3m18 0h3m84 0h3m13 0h3m-165 1h3m10 1h3m60 0h3m31 0h3m-152 1h3m31 0h3m-1 0h3m66 0h3m-197 1h3m136 0h3m2 0h3m49 0h3m-21 1h3m19 0h3m-25 1h3m-102 1h3m19 0h3m46 0h3m2 0h3m37 0h3m0 0h3m-70 1h3m13 0h3m44 0h3m-75 1h3m37 0h3m38 0h3m3 0h3m-79 1h3m-37 2h3m31 0h3m13 1h3m35 0h3m84 1h3m-175 1h3m105 0h3m-99 1h3m13 0h3m60 0h3m2 0h3m67 0h3m-145 1h3m-46 1h3m73 0h3m13 1h3m-21 1h3m-49 2h3m106 0h3m-20 1h3m-18 1h3m-49 2h3m11 1h3m-53 1h3m67 0h3m-40 3h3m37 0h3m-88 1h3m119 0h3m-72 4h3m-35 1h3m19 0h3m15 0h3m-33 1h3m22 4h3m48 0h3m26 0h3m-111 2h3m125 0h3m-68 1h3m4 0h3m90 2h3m-164 1h3m23 2h3m-41 1h3m-1 1h3m20 0h3m76 1h3m-78 3h3m36 3h3m22 3h3m20 0h3m-64 11h3m-57 3h3m11 25h3m-11 23h3" stroke-opacity="0.19"/><path d="M939 1179h3m42 0h3m41 0h3m-177 1h3m60 0h3m48 0h3m4 0h3m33 0h3m16 0h3m8 0h3m0 0h3m7 0h3m-181 1h3m54 0h3m23 0h3m0 0h3m-3 0h3m-2 0h3m34 0h3m39 0h3m3 0h3m7 0h3m39 0h3m6 0h3m-207 1h3m9 0h3m13 0h3m12 0h3m21 0h3m5 0h3m12 0h3m1 0h3m-1 0h3m-2 0h3m18 0h3m12 0h3m-2 0h3m15 0h3m11 0h3m62 0h3m-260 1h3m49 0h3m16 0h3m17 0h3m14 0h3m31 0h3m4 0h3m0 0h3m6 0h3m0 0h3m27 0h3m-201 1h3m9 0h3m11 0h3m78 0h3m60 0h3m-96 1h3m24 0h3m15 0h3" stroke-opacity="0.22"/><path d="M1149 199h3m-45 4h3m-23 6h3m-1 0h3m10 4h3m12 1h3m7 0h3m-28 1h3m-20 2h3m21 0h3m-60 1h3m38 0h3m0 0h3m37 0h3m-38 1h3m2 0h3m-53 2h3m18 0h3m3 0h3m14 0h3m18 1h3m-64 1h3m3 0h3m34 0h3m-30 1h3m22 0h3m-46 1h3m22 0h3m9 0h3m0 0h3m1 0h3m-11 1h3m-31 1h3m8 0h3m-1 0h3m3 0h3m-27 1h3m15 0h3m34 0h3m-64 1h3m2 0h3m17 0h3m23 0h3m-55 1h3m2 0h3m8 0h3m11 0h3m2 0h3m-39 1h3m23 0h3m10 0h3m15 0h3m-74 1h3m27 0h3m4 0h3m8 0h3m1 0h3m1 0h3m6 0h3m-2 0h3m-1 0h3m-40 1h3m17 0h3m13 0h3m-31 1h3m3 0h3m12 0h3m9 0h3m-70 1h3m-2 0h3m0 0h3m4 0h3m34 0h3m35 0h3m-70 1h3m19 0h3m2 0h3m4 0h3m3 0h3m-77 1h3m36 0h3m3 0h3m30 0h3m-56 1h3m21 0h3m-2 0h3m-1 0h3m-1 0h3m7 0h3m0 0h3m3 0h3m-67 1h3m9 0h3m39 0h3m4 0h3m-59 1h3m17 0h3m-1 0h3m11 0h3m-2 0h3m6 0h3m11 0h3m17 0h3m2 0h3m-108 1h3m49 0h3m-2 0h3m-54 1h3m7 0h3m5 0h3m9 0h3m0 0h3m10 0h3m-2 0h3m6 0h3m2 0h3m22 0h3m23 0h3m-93 1h3m2 0h3m11 0h3m2 0h3m5 0h3m10 0h3m-2 0h3m-2 0h3m14 0h3m-77 1h3m20 0h3m5 0h3m4 0h3m8 0h3m3 0h3m4 0h3m-59 1h3m4 0h3m7 0h3m14 0h3m4 0h3m-3 0h3m1 0h3m20 0h3m-104 1h3m33 0h3m4 0h3m-2 0h3m11 0h3m7 0h3m11 0h3m5 0h3m9 0h3m2 0h3m-58 1h3m15 0h3m7 0h3m2 0h3m18 0h3m4 0h3m-93 1h3m9 0h3m5 0h3m2 0h3m3 0h3m2 0h3m0 0h3m9 0h3m-42 1h3m8 0h3m0 0h3m-2 0h3m1 0h3m-2 0h3m7 0h3m7 0h3m0 0h3m7 0h3m-63 1h3m8 0h3m1 0h3m17 0h3m2 0h3m-2 0h3m2 0h3m0 0h3m9 0h3m-62 1h3m3 0h3m5 0h3m5 0h3m3 0h3m0 0h3m0 0h3m-3 0h3m-1 0h3m-2 0h3m34 0h3m-78 1h3m9 0h3m4 0h3m-2 0h3m-1 0h3m3 0h3m5 0h3m12 0h3m5 0h3m-74 1h3m7 0h3m-2 0h3m13 0h3m-3 0h3m0 0h3m3 0h3m7 0h3m1 0h3m2 0h3m3 0h3m4 0h3m-3 0h3m14 0h3m-85 1h3m14 0h3m-1 0h3m-2 0h3m-3 0h3m0 0h3m6 0h3m1 0h3m0 0h3m-1 0h3m1 0h3m-1 0h3m0 0h3m6 0h3m0 0h3m-3 0h3m9 0h3m-86 1h3m13 0h3m-3 0h3m4 0h3m-3 0h3m7 0h3m-1 0h3m5 0h3m-2 0h3m2 0h3m0 0h3m39 0h3m-93 1h3m6 0h3m6 0h3m-2 0h3m0 0h3m-1 0h3m0 0h3m8 0h3m-3 0h3m7 0h3m1 0h3m5 0h3m-1 0h3m-2 0h3m7 0h3m-3 0h3m6 0h3m-84 1h3m4 0h3m5 0h3m2 0h3m2 0h3m4 0h3m0 0h3m4 0h3m2 0h3m-2 0h3m1 0h3m0 0h3m4 0h3m2 0h3m30 0h3m-138 1h3m52 0h3m-1 0h3m1 0h3m-1 0h3m2 0h3m-3 0h3m-2 0h3m-1 0h3m-1 0h3m-1 0h3m-2 0h3m-1 0h3m1 0h3m0 0h3m3 0h3m18 0h3m-75 1h3m9 0h3m-1 0h3m-2 0h3m-2 0h3m16 0h3m-2 0h3m-2 0h3m2 0h3m-3 0h3m-1 0h3m1 0h3m0 0h3m6 0h3m13 0h3m-80 1h3m18 0h3m6 0h3m-2 0h3m6 0h3m-2 0h3m-2 0h3m-25 1h3m1 0h3m1 0h3m-2 0h3m-1 0h3m9 0h3m1 0h3m25 0h3m-103 1h3m19 0h3m8 0h3m1 0h3m-3 0h3m9 0h3m-2 0h3m6 0h3m-3 0h3m2 0h3m8 0h3m-3 0h3m-1 0h3m-1 0h3m6 0h3m20 0h3m-81 1h3m-1 0h3m-1 0h3m-1 0h3m-2 0h3m1 0h3m-2 0h3m-1 0h3m4 0h3m2 0h3m0 0h3m5 0h3m-2 0h3m1 0h3m3 0h3m4 0h3m1 0h3m-74 1h3m-2 0h3m10 0h3m3 0h3m2 0h3m0 0h3m4 0h3m2 0h3m17 0h3m1 0h3m14 0h3m-117 1h3m37 0h3m0 0h3m0 0h3m15 0h3m-1 0h3m-2 0h3m-1 0h3m18 0h3m19 0h3m-70 1h3m-3 0h3m9 0h3m9 0h3m1 0h3m-2 0h3m-3 0h3m0 0h3m1 0h3m6 0h3m-1 0h3m-2 0h3m2 0h3m8 0h3m3 0h3m2 0h3m-81 1h3m-1 0h3m-3 0h3m0 0h3m5 0h3m2 0h3m-1 0h3m-1 0h3m-2 0h3m-1 0h3m-2 0h3m-1 0h3m-2 0h3m-2 0h3m-2 0h3m2 0h3m7 0h3m2 0h3m-64 1h3m-1 0h3m-1 0h3m-3 0h3m27 0h3m4 0h3m-1 0h3m-58 1h3m4 0h3m1 0h3m27 0h3m-2 0h3m2 0h3m-2 0h3m0 0h3m6 0h3m10 0h3m15 0h3m2 0h3m-121 1h3m17 0h3m6 0h3m1 0h3m-1 0h3m13 0h3m7 0h3m-3 0h3m1 0h3m2 0h3m-3 0h3m0 0h3m4 0h3m12 0h3m10 0h3m-2 0h3m-113 1h3m41 0h3m-2 0h3m7 0h3m-2 0h3m0 0h3m7 0h3m-2 0h3m-3 0h3m5 0h3m7 0h3m-2 0h3m-3 0h3m-86 1h3m26 0h3m3 0h3m14 0h3m-2 0h3m5 0h3m-1 0h3m6 0h3m6 0h3m-1 0h3m-3 0h3m6 0h3m-1 0h3m6 0h3m-77 1h3m11 0h3m1 0h3m2 0h3m0 0h3m1 0h3m4 0h3m-1 0h3m3 0h3m3 0h3m2 0h3m-74 1h3m21 0h3m-2 0h3m6 0h3m-2 0h3m0 0h3m-1 0h3m-2 0h3m-3 0h3m0 0h3m-3 0h3m0 0h3m-3 0h3m-2 0h3m0 0h3m0 0h3m-65 1h3m-1 0h3m10 0h3m1 0h3m0 0h3m7 0h3m10 0h3m-1 0h3m15 0h3m-2 0h3m0 0h3m-2 0h3m-2 0h3m-1 0h3m6 0h3m-98 1h3m29 0h3m6 0h3m1 0h3m9 0h3m0 0h3m-1 0h3m2 0h3m4 0h3m0 0h3m-3 0h3m1 0h3m4 0h3m-2 0h3m11 0h3m15 0h3m-110 1h3m7 0h3m-2 0h3m20 0h3m11 0h3m-2 0h3m10 0h3m3 0h3m1 0h3m1 0h3m-1 0h3m7 0h3m-99 1h3m16 0h3m4 0h3m7 0h3m1 0h3m-1 0h3m-1 0h3m0 0h3m3 0h3m-3 0h3m0 0h3m0 0h3m1 0h3m-2 0h3m-1 0h3m-2 0h3m-1 0h3m-1 0h3m2 0h3m4 0h3m1 0h3m-68 1h3m-1 0h3m0 0h3m-1 0h3m-2 0h3m0 0h3m-2 0h3m0 0h3m-2 0h3m11 0h3m6 0h3m-3 0h3m2 0h3m1 0h3m-3 0h3m-2 0h3m4 0h3m-71 1h3m17 0h3m2 0h3m0 0h3m3 0h3m10 0h3m12 0h3m7 0h3m11 0h3m3 0h3m-69 1h3m3 0h3m3 0h3m-2 0h3m4 0h3m-1 0h3m-1 0h3m-1 0h3m6 0h3m-1 0h3m-3 0h3m2 0h3m-64 1h3m14 0h3m-3 0h3m4 0h3m-2 0h3m1 0h3m2 0h3m-2 0h3m1 0h3m-3 0h3m10 0h3m0 0h3m-3 0h3m-3 0h3m0 0h3m2 0h3m7 0h3m-60 1h3m2 0h3m0 0h3m0 0h3m-2 0h3m6 0h3m-2 0h3m2 0h3m10 0h3m-1 0h3m-56 1h3m1 0h3m-2 0h3m-2 0h3m-2 0h3m17 0h3m0 0h3m2 0h3m5 0h3m6 0h3m10 0h3m-84 1h3m35 0h3m-2 0h3m17 0h3m32 0h3m-1 0h3m-98 1h3m7 0h3m-1 0h3m1 0h3m-1 0h3m1 0h3m4 0h3m-1 0h3m1 0h3m0 0h3m10 0h3m1 0h3m10 0h3m-1 0h3m4 0h3m12 0h3m-79 1h3m-2 0h3m4 0h3m-1 0h3m-2 0h3m24 0h3m1 0h3m8 0h3m-89 1h3m15 0h3m1 0h3m17 0h3m-2 0h3m3 0h3m0 0h3m3 0h3m2 0h3m-3 0h3m0 0h3m-1 0h3m2 0h3m0 0h3m-61 1h3m3 0h3m2 0h3m13 0h3m-3 0h3m5 0h3m5 0h3m2 0h3m-1 0h3m5 0h3m8 0h3m-89 1h3m28 0h3m18 0h3m20 0h3m5 0h3m0 0h3m14 0h3m1 0h3m-90 1h3m6 0h3m9 0h3m0 0h3m9 0h3m-1 0h3m1 0h3m-2 0h3m18 0h3m-1 0h3m-70 1h3m12 0h3m1 0h3m4 0h3m18 0h3m-63 1h3m1 0h3m4 0h3m24 0h3m2 0h3m2 0h3m12 0h3m7 0h3m-91 1h3m43 0h3m0 0h3m17 0h3m18 0h3m-1 0h3m-3 0h3m-62 1h3m3 0h3m28 0h3m8 0h3m9 0h3m-45 1h3m8 0h3m3 0h3m3 0h3m-35 1h3m-3 0h3m-1 0h3m8 0h3m3 0h3m12 0h3m-51 1h3m4 0h3m11 0h3m34 0h3m4 0h3m19 0h3m-71 1h3m15 0h3m5 0h3m-43 1h3m-1 0h3m7 0h3m1 0h3m-2 0h3m20 0h3m13 0h3m-52 1h3m-20 1h3m15 0h3m5 0h3m-2 0h3m-2 0h3m-1 0h3m-3 0h3m5 0h3m22 0h3m20 0h3m-105 1h3m34 0h3m17 0h3m-2 0h3m-2 0h3m-65 1h3m18 0h3m10 0h3m9 0h3m-63 1h3m1 0h3m25 0h3m22 0h3m33 0h3m-2 0h3m10 0h3m-104 1h3m6 0h3m12 0h3m24 0h3m-1 0h3m6 0h3m3 0h3m4 0h3m5 0h3m1 0h3m14 0h3m-72 1h3m1 0h3m4 0h3m32 0h3m6 0h3m21 1h3m-90 1h3m31 0h3m-4 1h3m-15 1h3m48 0h3m-35 1h3m-2 0h3m-54 1h3m7 0h3m53 0h3m-24 1h3m22 0h3m-47 1h3m30 0h3m0 1h3m-73 1h3m32 0h3m19 0h3m-12 4h3m-33 1h3m-10 1h3m37 0h3m-15 1h3m22 0h3m1 1h3m-44 1h3m1 0h3m47 0h3m-50 1h3m0 3h3m-5 1h3m-35 2h3m0 0h3m31 0h3m-44 2h3m27 6h3m-19 3h3" stroke-opacity="0.25"/></g>
<line x1="30.4" y1="278.0" x2="30.4" y2="398.8" stroke="#858585" stroke-width="1.2"/>
<line x1="29.9" y1="398.2" x2="149.8" y2="398.2" stroke="#6a6a6a" stroke-width="1.1"/>
<path d="M26.9 397.4H30.4M26.9 375.5H30.4M26.9 353.6H30.4M26.9 331.8H30.4M26.9 309.9H30.4M26.9 288.0H30.4M30.4 398.2V401.7M52.1 398.2V401.7M73.9 398.2V401.7M95.7 398.2V401.7M117.4 398.2V401.7M139.2 398.2V401.7" stroke="#222" stroke-width="1.3" fill="none"/>
<path d="M28.4 390.8H30.4M28.4 387.0H30.4M28.4 384.2H30.4M28.4 382.1H30.4M28.4 380.4H30.4M28.4 378.9H30.4M28.4 377.6H30.4M28.4 376.5H30.4M28.4 368.9H30.4M28.4 365.1H30.4M28.4 362.4H30.4M28.4 360.2H30.4M28.4 358.5H30.4M28.4 357.0H30.4M28.4 355.8H30.4M28.4 354.7H30.4M28.4 347.1H30.4M28.4 343.2H30.4M28.4 340.5H30.4M28.4 338.4H30.4M28.4 336.6H30.4M28.4 335.2H30.4M28.4 333.9H30.4M28.4 332.8H30.4M28.4 325.2H30.4M28.4 321.3H30.4M28.4 318.6H30.4M28.4 316.5H30.4M28.4 314.8H30.4M28.4 313.3H30.4M28.4 312.0H30.4M28.4 310.9H30.4M28.4 303.3H30.4M28.4 299.5H30.4M28.4 296.7H30.4M28.4 294.6H30.4M28.4 292.9H30.4M28.4 291.4H30.4M28.4 290.1H30.4M28.4 289.0H30.4M28.4 281.4H30.4M36.9 398.2V400.2M40.8 398.2V400.2M43.5 398.2V400.2M45.6 398.2V400.2M47.3 398.2V400.2M48.8 398.2V400.2M50.0 398.2V400.2M51.2 398.2V400.2M58.7 398.2V400.2M62.5 398.2V400.2M65.2 398.2V400.2M67.4 398.2V400.2M69.1 398.2V400.2M70.5 398.2V400.2M71.8 398.2V400.2M72.9 398.2V400.2M80.4 398.2V400.2M84.3 398.2V400.2M87.0 398.2V400.2M89.1 398.2V400.2M90.8 398.2V400.2M92.3 398.2V400.2M93.5 398.2V400.2M94.7 398.2V400.2M102.2 398.2V400.2M106.0 398.2V400.2M108.7 398.2V400.2M110.9 398.2V400.2M112.6 398.2V400.2M114.0 398.2V400.2M115.3 398.2V400.2M116.4 398.2V400.2M123.9 398.2V400.2M127.8 398.2V400.2M130.5 398.2V400.2M132.6 398.2V400.2M134.3 398.2V400.2M135.8 398.2V400.2M137.0 398.2V400.2M138.2 398.2V400.2M145.7 398.2V400.2M149.5 398.2V400.2" stroke="#3a3a3a" stroke-width="0.85" fill="none"/>
<text x="18.0" y="400.4" font-size="4.8" fill="#333" letter-spacing="-0.2">10<tspan font-size="4.2" dy="-2.9" fill="#222">0</tspan></text>
<text x="32.4" y="409.1" font-size="4.8" fill="#333" letter-spacing="-0.2">10<tspan font-size="4.2" dy="-2.9" fill="#222">0</tspan></text>
<text x="18.0" y="378.5" font-size="4.8" fill="#333" letter-spacing="-0.2">10<tspan font-size="4.2" dy="-2.9" fill="#222">1</tspan></text>
<text x="54.1" y="409.1" font-size="4.8" fill="#333" letter-spacing="-0.2">10<tspan font-size="4.2" dy="-2.9" fill="#222">1</tspan></text>
<text x="18.0" y="356.6" font-size="4.8" fill="#333" letter-spacing="-0.2">10<tspan font-size="4.2" dy="-2.9" fill="#222">2</tspan></text>
<text x="75.9" y="409.1" font-size="4.8" fill="#333" letter-spacing="-0.2">10<tspan font-size="4.2" dy="-2.9" fill="#222">2</tspan></text>
<text x="18.0" y="334.8" font-size="4.8" fill="#333" letter-spacing="-0.2">10<tspan font-size="4.2" dy="-2.9" fill="#222">3</tspan></text>
<text x="97.7" y="409.1" font-size="4.8" fill="#333" letter-spacing="-0.2">10<tspan font-size="4.2" dy="-2.9" fill="#222">3</tspan></text>
<text x="18.0" y="312.9" font-size="4.8" fill="#333" letter-spacing="-0.2">10<tspan font-size="4.2" dy="-2.9" fill="#222">4</tspan></text>
<text x="119.4" y="409.1" font-size="4.8" fill="#333" letter-spacing="-0.2">10<tspan font-size="4.2" dy="-2.9" fill="#222">4</tspan></text>
<text x="18.0" y="291.0" font-size="4.8" fill="#333" letter-spacing="-0.2">10<tspan font-size="4.2" dy="-2.9" fill="#222">5</tspan></text>
<text x="141.2" y="409.1" font-size="4.8" fill="#333" letter-spacing="-0.2">10<tspan font-size="4.2" dy="-2.9" fill="#222">5</tspan></text>
<text x="88.4" y="420.7" font-size="5.1" fill="#222" text-anchor="middle">Comp-APC-A</text>
<text transform="translate(5.9,338.5) rotate(-90)" font-size="5.1" fill="#222" text-anchor="middle">Comp-PE-A</text>
<text x="86.4" y="376.1" font-size="5.1" fill="#111" text-anchor="middle">Comp-APC-A, Comp-PE-A subset</text>
<text x="86.4" y="384.1" font-size="5.1" fill="#111" text-anchor="middle">77.9</text>
<rect x="96.8" y="288.6" width="51.5" height="44.2" fill="none" stroke="#000" stroke-width="2"/>
<text x="187.7" y="254.4" font-size="10.2" font-weight="bold" stroke="#000" stroke-width="0.25" textLength="69.3" lengthAdjust="spacingAndGlyphs">BoLA-1*023:01-</text>
<text x="210.3" y="267.0" font-size="10.2" font-weight="bold" stroke="#000" stroke-width="0.25" textLength="15" lengthAdjust="spacingAndGlyphs">Tp9</text>
<text x="225.5" y="269.3" font-size="6.8" font-weight="bold" stroke="#000" stroke-width="0.15">G1</text>
<rect x="153.6" y="278.5" width="119.9" height="119.69999999999999" fill="#fff" stroke="#8a8a8a" stroke-width="1.1"/>
<g transform="translate(153.6,278.6) scale(0.1)" stroke="#5216aa" stroke-width="7.0" stroke-linecap="round" fill="none"><path d="M1060 134h3m-192 134h3m-1 34h3m77 32h3m-175 9h3m214 7h3m33 14h3m-192 32h3m276 9h3m-293 7h3m94 9h3m-106 10h3m237 14h3m-54 1h3m-152 5h3m-60 14h3m92 1h3m146 2h3m52 0h3m-186 4h3m-23 2h3m92 15h3m-120 8h3m112 3h3m-91 6h3m35 0h3m-206 5h3m190 1h3m115 9h3m-214 14h3m65 12h3m-70 18h3m-63 1h3m191 9h3m132 2h3m-220 1h3m194 0h3m-176 28h3m76 4h3m65 20h3m-172 1h3m169 1h3m-234 12h3m53 19h3m159 4h3m-116 7h3m0 0h3m-22 4h3m-22 8h3m27 30h3m27 8h3m-209 5h3m105 11h3m-193 22h3m328 15h3m-60 56h3m-91 12h3m18 69h3m74 104h3m91 6h3m-144 112h3" stroke-opacity="0.15"/><path d="M914 225h3m77 26h3m-80 15h3m77 3h3m-28 2h3m-60 2h3m-10 13h3m35 3h3m64 1h3m-56 2h3m86 1h3m-152 2h3m81 3h3m44 1h3m-158 5h3m33 3h3m70 3h3m39 0h3m-70 4h3m28 4h3m6 8h3m-86 1h3m-48 2h3m107 0h3m15 0h3m21 3h3m-38 2h3m-38 2h3m46 1h3m21 2h3m-129 3h3m88 7h3m-12 1h3m23 1h3m-155 1h3m79 0h3m-35 1h3m41 0h3m-25 1h3m25 1h3m54 0h3m46 0h3m-6 2h3m-118 1h3m5 0h3m27 0h3m11 0h3m-35 2h3m148 1h3m-103 1h3m-46 1h3m-50 1h3m29 0h3m70 0h3m-2 0h3m-93 1h3m90 0h3m8 0h3m-79 1h3m-3 1h3m23 2h3m1 0h3m29 1h3m-73 1h3m25 0h3m-64 2h3m29 0h3m1 0h3m-16 1h3m23 0h3m-35 1h3m59 2h3m-25 6h3m10 1h3m61 1h3m-52 2h3m88 0h3m-101 1h3m7 1h3m-101 2h3m32 1h3m-38 1h3m29 0h3m44 0h3m3 0h3m-60 1h3m3 0h3m6 0h3m47 1h3m-48 2h3m-86 2h3m86 0h3m-15 1h3m-71 1h3m-1 0h3m29 0h3m40 0h3m48 0h3m18 0h3m-53 1h3m-32 3h3m-23 1h3m149 0h3m-157 1h3m25 0h3m-9 1h3m-88 1h3m72 2h3m18 0h3m34 0h3m-95 1h3m56 0h3m61 0h3m-97 2h3m14 3h3m128 0h3m-214 1h3m35 0h3m-51 1h3m-2 0h3m85 0h3m0 0h3m9 0h3m-58 1h3m90 0h3m70 0h3m-177 2h3m32 0h3m80 0h3m-91 1h3m-22 1h3m49 0h3m5 2h3m-18 1h3m-25 1h3m36 0h3m-50 1h3m0 0h3m1 1h3m7 0h3m-25 1h3m12 0h3m28 0h3m55 0h3m-2 0h3m-106 2h3m26 0h3m-40 1h3m22 0h3m57 1h3m12 0h3m-126 1h3m69 0h3m62 0h3m-43 1h3m-147 2h3m91 0h3m48 0h3m-66 1h3m79 0h3m9 0h3m-103 1h3m8 2h3m15 0h3m81 1h3m-215 1h3m174 0h3m32 0h3m-129 1h3m63 1h3m80 0h3m-160 1h3m9 0h3m45 0h3m-48 1h3m135 0h3m-10 1h3m-152 1h3m22 1h3m11 1h3m-10 1h3m7 0h3m33 1h3m40 0h3m7 0h3m10 0h3m-143 1h3m60 0h3m-33 1h3m63 0h3m-38 1h3m78 0h3m-160 1h3m-24 1h3m63 0h3m-2 0h3m93 2h3m-172 2h3m55 0h3m22 0h3m-13 1h3m-2 0h3m36 0h3m-34 1h3m3 0h3m-1 0h3m-10 2h3m4 0h3m11 0h3m24 0h3m-70 1h3m45 0h3m-77 1h3m40 1h3m62 0h3m-128 2h3m117 1h3m29 0h3m-130 1h3m28 0h3m-34 1h3m16 1h3m68 0h3m4 0h3m53 0h3m-166 2h3m40 0h3m9 0h3m64 0h3m-93 2h3m46 0h3m-57 1h3m39 0h3m0 0h3m39 0h3m-72 1h3m71 0h3m-136 2h3m98 0h3m3 1h3m-91 1h3m58 1h3m29 0h3m-78 1h3m15 0h3m74 0h3m-10 1h3m15 0h3m-101 1h3m93 0h3m-14 2h3m24 0h3m-131 1h3m104 0h3m18 0h3m-148 2h3m73 0h3m-34 1h3m38 1h3m0 1h3m-53 1h3m113 1h3m-92 2h3m97 0h3m-162 2h3m71 0h3m-32 1h3m88 3h3m-160 1h3m2 1h3m12 0h3m18 0h3m79 0h3m5 2h3m-88 1h3m9 1h3m-19 1h3m1 0h3m81 3h3m7 0h3m-38 2h3m-11 1h3m6 3h3m-53 1h3m88 1h3m-128 1h3m41 1h3m-11 3h3m101 1h3m-60 4h3m66 0h3m-145 1h3m29 1h3m11 0h3m29 0h3m-13 1h3m4 4h3m-86 3h3m89 10h3m-59 1h3m15 0h3m-49 1h3m112 0h3m-48 5h3m-19 1h3m-3 2h3m8 0h3m1 1h3m-113 1h3m169 2h3m-122 3h3m27 1h3m112 4h3m-127 6h3m55 31h3" stroke-opacity="0.16"/><path d="M934 382h3m72 5h3m9 42h3m16 2h3m-44 5h3m-8 19h3m33 4h3m58 3h3m-48 2h3m-30 5h3m-89 2h3m83 4h3m8 4h3m-41 10h3m85 0h3m-11 1h3m-74 1h3m76 0h3m19 5h3m-77 2h3m-25 3h3m38 1h3m-56 4h3m9 0h3m14 0h3m-32 2h3m35 0h3m-13 1h3m41 0h3m-98 1h3m-23 1h3m21 6h3m-27 1h3m19 2h3m9 0h3m4 1h3m-71 1h3m117 0h3m-35 2h3m27 0h3m-6 6h3m-17 2h3m-9 1h3m-28 1h3m32 2h3m12 0h3m-46 1h3m-77 1h3m69 1h3m61 0h3m-75 2h3m0 2h3m7 0h3m-3 1h3m-68 1h3m-7 1h3m39 0h3m35 0h3m-13 1h3m107 0h3m-149 1h3m68 0h3m-19 1h3m-6 2h3m5 0h3m-20 1h3m1 1h3m0 0h3m-76 1h3m46 0h3m-3 1h3m16 0h3m-33 1h3m5 0h3m46 0h3m120 1h3m-178 3h3m49 0h3m-27 1h3m16 0h3m-59 1h3m8 0h3m55 0h3m-110 1h3m133 0h3m-91 1h3m57 0h3m-41 1h3m7 0h3m-28 2h3m-15 2h3m32 1h3m2 0h3m2 0h3m56 0h3m-73 1h3m-8 1h3m18 0h3m-155 1h3m51 0h3m100 0h3m6 0h3m-24 2h3m-36 1h3m72 0h3m-92 2h3m-10 1h3m83 0h3m-45 1h3m22 0h3m-101 1h3m106 0h3m4 0h3m-128 1h3m1 1h3m108 1h3m-120 1h3m49 0h3m112 0h3m-75 1h3m-27 1h3m25 1h3m-93 1h3m25 0h3m18 0h3m10 0h3m94 0h3m-94 1h3m61 0h3m-33 2h3m-83 1h3m27 0h3m18 0h3m38 0h3m-103 1h3m40 0h3m16 0h3m11 0h3m5 1h3m-64 1h3m17 0h3m39 0h3m-41 1h3m63 0h3m-31 1h3m30 0h3m-73 1h3m18 0h3m-40 1h3m29 0h3m-51 1h3m26 0h3m-98 1h3m47 0h3m39 0h3m-57 1h3m15 0h3m63 0h3m-49 1h3m16 0h3m41 0h3m-87 1h3m26 0h3m110 0h3m-116 1h3m10 0h3m17 0h3m2 0h3m62 0h3m-81 1h3m4 0h3m1 0h3m72 0h3m-194 1h3m62 0h3m61 0h3m-130 1h3m54 0h3m31 0h3m33 1h3m43 0h3m-153 1h3m7 0h3m46 0h3m27 0h3m-46 2h3m42 0h3m47 0h3m-44 1h3m-66 1h3m3 0h3m-31 1h3m7 0h3m-3 0h3m29 0h3m5 0h3m11 0h3m-45 1h3m17 0h3m2 0h3m-2 0h3m-4 1h3m-53 1h3m84 0h3m-48 1h3m94 0h3m-100 1h3m34 0h3m-57 1h3m0 0h3m58 0h3m-135 1h3m23 1h3m55 0h3m15 0h3m-37 1h3m16 0h3m-1 0h3m110 0h3m-168 1h3m14 0h3m-1 0h3m91 0h3m4 0h3m5 0h3m28 0h3m-99 2h3m49 0h3m-111 2h3m35 0h3m27 0h3m14 0h3m-1 0h3m8 0h3m-67 1h3m28 0h3m-88 1h3m122 0h3m3 0h3m-83 1h3m14 0h3m54 0h3m1 0h3m-10 1h3m39 0h3m-99 1h3m30 0h3m-31 1h3m-86 1h3m21 0h3m5 0h3m66 0h3m56 0h3m-66 1h3m-46 1h3m67 0h3m-115 1h3m70 1h3m-1 0h3m13 0h3m-58 1h3m28 0h3m87 0h3m16 1h3m-124 1h3m6 0h3m51 0h3m-123 1h3m100 0h3m26 0h3m94 0h3m-214 1h3m47 0h3m3 0h3m-86 1h3m27 0h3m47 0h3m14 0h3m13 0h3m17 0h3m29 0h3m-194 1h3m38 0h3m131 0h3m-143 1h3m4 0h3m64 0h3m1 0h3m0 0h3m76 0h3m-163 1h3m61 0h3m6 0h3m-7 1h3m13 0h3m-168 1h3m175 0h3m27 0h3m-104 1h3m50 0h3m-33 1h3m58 0h3m-44 1h3m-32 1h3m6 0h3m38 0h3m-94 1h3m61 0h3m60 1h3m-70 1h3m14 0h3m-2 0h3m46 0h3m-55 1h3m3 0h3m4 0h3m-80 1h3m37 0h3m-50 1h3m2 0h3m4 1h3m8 1h3m6 0h3m26 0h3m47 0h3m-99 1h3m-1 0h3m43 0h3m11 0h3m-76 1h3m43 0h3m-43 1h3m27 0h3m4 0h3m46 0h3m29 0h3m-46 1h3m12 0h3m-51 1h3m2 0h3m75 0h3m10 0h3m-115 1h3m24 0h3m40 0h3m9 0h3m-160 1h3m18 0h3m44 0h3m24 0h3m5 0h3m-1 0h3m26 0h3m-1 0h3m2 0h3m2 0h3m39 1h3m-107 1h3m63 0h3m-48 1h3m16 0h3m5 0h3m12 0h3m17 0h3m-103 1h3m53 0h3m-101 1h3m15 0h3m9 0h3m10 0h3m35 0h3m35 0h3m-2 0h3m-86 1h3m39 0h3m43 0h3m37 0h3m-133 1h3m31 0h3m60 0h3m17 0h3m37 0h3m-159 1h3m57 0h3m1 0h3m-50 1h3m-3 0h3m9 0h3m50 0h3m4 0h3m-92 1h3m65 0h3m-2 0h3m-49 1h3m6 0h3m82 0h3m-75 1h3m2 0h3m2 0h3m22 0h3m-14 1h3m37 0h3m7 0h3m-176 1h3m5 0h3m79 0h3m57 0h3m8 0h3m2 0h3m-143 1h3m46 0h3m33 0h3m-2 0h3m12 1h3m7 0h3m22 0h3m-102 1h3m9 0h3m53 0h3m4 0h3m62 0h3m-136 1h3m27 0h3m8 0h3m23 1h3m12 0h3m-62 1h3m-41 1h3m117 0h3m-149 2h3m93 0h3m50 1h3m-106 1h3m41 0h3m11 0h3m4 0h3m7 0h3m5 0h3m-72 1h3m17 0h3m48 0h3m-84 1h3m8 0h3m2 0h3m18 0h3m-27 2h3m6 0h3m-69 1h3m7 0h3m-23 1h3m77 0h3m23 0h3m13 0h3m23 0h3m-81 1h3m11 0h3m7 0h3m12 1h3m-40 1h3m8 0h3m4 1h3m36 0h3m18 0h3m-1 0h3m-85 1h3m15 1h3m7 0h3m-19 1h3m17 0h3m1 0h3m-28 1h3m90 0h3m-151 1h3m10 0h3m6 0h3m22 0h3m15 0h3m34 0h3m-3 0h3m-84 1h3m129 0h3m-182 1h3m20 1h3m11 1h3m30 0h3m56 0h3m-13 1h3m-20 1h3m4 0h3m12 0h3m-25 1h3m-63 1h3m8 0h3m26 0h3m-25 1h3m32 0h3m29 0h3m-81 2h3m27 0h3m54 0h3m-73 1h3m13 0h3m8 1h3m-4 1h3m16 0h3m19 0h3m0 0h3m-66 1h3m3 0h3m-77 1h3m32 0h3m20 0h3m29 0h3m36 0h3m-126 1h3m40 0h3m29 0h3m80 0h3m-165 1h3m62 0h3m-32 1h3m4 0h3m50 0h3m-17 1h3m63 0h3m10 0h3m-78 1h3m11 0h3m52 0h3m-61 1h3m-151 1h3m149 0h3m-80 1h3m95 0h3m-83 1h3m51 0h3m-29 1h3m9 0h3m-88 1h3m24 0h3m81 0h3m4 1h3m-75 1h3m2 0h3m11 0h3m-110 1h3m139 0h3m-15 1h3m24 0h3m5 0h3m-76 1h3m-3 1h3m-33 1h3m20 0h3m44 0h3m34 0h3m-94 1h3m8 0h3m60 0h3m4 0h3m-9 1h3m-136 1h3m67 0h3m22 0h3m51 0h3m11 0h3m59 0h3m-169 2h3m37 0h3m-25 1h3m0 0h3m23 0h3m2 0h3m-61 1h3m19 0h3m-5 1h3m22 1h3m8 0h3m31 0h3m-145 1h3m171 2h3m-164 3h3m5 0h3m115 0h3m-8 1h3m-44 1h3m11 0h3m-79 1h3m55 0h3m37 0h3m-45 1h3m1 1h3m21 1h3m-42 1h3m54 0h3m-14 1h3m87 1h3m-96 2h3m48 0h3m-72 1h3m-114 1h3m132 0h3m-26 1h3m52 0h3m16 0h3m-68 1h3m-56 1h3m26 0h3m70 0h3m45 1h3m-151 2h3m46 0h3m13 0h3m-47 2h3m13 5h3m-22 2h3m-14 2h3m73 0h3m-44 4h3m-83 1h3m74 2h3m-5 2h3m-27 1h3m25 1h3m25 0h3m-52 3h3m66 4h3m-167 3h3m65 0h3m86 0h3m20 0h3m-131 2h3m39 3h3m37 2h3m-120 10h3m131 2h3m46 0h3m-50 5h3m15 6h3m-16 13h3m-23 2h3m-106 3h3m157 8h3m-70 4h3m17 4h3m-47 10h3m74 7h3m-118 2h3m100 0h3m-41 44h3" stroke-opacity="0.17"/><path d="M1056 208h3m-113 1h3m100 0h3m-43 4h3m19 4h3m57 2h3m-141 2h3m39 6h3m87 0h3m23 3h3m-125 2h3m16 3h3m67 0h3m-54 2h3m-5 1h3m12 0h3m38 0h3m-125 1h3m64 1h3m22 0h3m0 0h3m7 0h3m-20 1h3m26 1h3m6 0h3m-100 1h3m78 1h3m-74 2h3m13 1h3m-30 1h3m41 1h3m-9 1h3m-2 0h3m-23 1h3m19 1h3m12 2h3m0 0h3m22 1h3m7 1h3m-38 3h3m37 0h3m-100 1h3m-90 1h3m47 3h3m173 0h3m-163 2h3m74 1h3m40 0h3m-59 1h3m64 0h3m-151 1h3m93 0h3m104 0h3m-234 1h3m33 0h3m20 0h3m8 0h3m64 0h3m8 1h3m3 0h3m10 0h3m-67 1h3m-28 1h3m54 0h3m-70 1h3m24 0h3m2 0h3m10 1h3m-109 1h3m117 0h3m-84 1h3m41 2h3m3 0h3m2 0h3m-10 1h3m26 0h3m-84 1h3m38 0h3m76 0h3m72 0h3m-241 1h3m59 0h3m45 0h3m47 0h3m-127 1h3m24 0h3m29 0h3m-1 1h3m47 0h3m-1 0h3m-69 1h3m6 0h3m26 0h3m15 0h3m39 0h3m-139 1h3m21 0h3m7 0h3m-34 1h3m11 0h3m27 0h3m14 0h3m37 0h3m36 0h3m-104 1h3m33 0h3m-93 1h3m41 0h3m13 1h3m24 2h3m8 0h3m-83 1h3m22 0h3m24 0h3m13 0h3m22 0h3m12 0h3m-119 1h3m120 0h3m28 0h3m-142 1h3m14 0h3m76 0h3m-59 1h3m20 0h3m24 0h3m-84 1h3m21 0h3m18 0h3m9 0h3m20 0h3m-146 1h3m44 0h3m14 0h3m21 0h3m121 0h3m-160 1h3m2 0h3m12 0h3m50 0h3m24 0h3m0 0h3m-56 1h3m60 0h3m15 0h3m-121 1h3m14 1h3m11 0h3m26 0h3m21 0h3m-188 1h3m78 0h3m23 0h3m10 0h3m33 0h3m1 0h3m-82 1h3m1 0h3m49 0h3m-80 1h3m6 0h3m106 0h3m-79 1h3m20 0h3m66 0h3m-53 1h3m19 0h3m22 0h3m19 0h3m-143 1h3m55 0h3m10 0h3m28 0h3m-71 1h3m48 0h3m19 0h3m16 0h3m-105 1h3m20 1h3m2 0h3m35 0h3m-149 1h3m79 0h3m-54 1h3m12 0h3m24 0h3m36 0h3m0 0h3m36 0h3m-121 1h3m6 0h3m0 0h3m13 0h3m54 1h3m11 0h3m2 0h3m37 0h3m-53 1h3m31 0h3m-137 1h3m56 0h3m29 0h3m25 0h3m3 0h3m-19 1h3m30 1h3m-116 1h3m55 1h3m1 0h3m-97 1h3m5 0h3m50 0h3m-1 0h3m43 0h3m34 0h3m-180 1h3m71 0h3m25 0h3m17 0h3m-99 1h3m20 0h3m23 0h3m43 0h3m16 0h3m-44 1h3m-2 0h3m15 0h3m15 0h3m-99 1h3m15 0h3m3 0h3m14 0h3m16 0h3m12 0h3m15 0h3m15 0h3m32 0h3m-153 1h3m59 0h3m138 0h3m-185 1h3m22 0h3m38 0h3m-2 0h3m61 0h3m-138 1h3m5 0h3m11 0h3m22 0h3m-1 0h3m-95 1h3m68 0h3m0 0h3m53 0h3m28 0h3m-149 1h3m46 0h3m-1 0h3m10 0h3m60 0h3m7 0h3m-151 1h3m62 0h3m6 0h3m4 0h3m87 0h3m-98 1h3m1 0h3m20 0h3m-1 0h3m-40 1h3m11 0h3m8 0h3m56 1h3m-84 1h3m49 0h3m39 0h3m-189 1h3m42 0h3m22 0h3m6 0h3m46 0h3m0 0h3m10 0h3m-117 1h3m30 0h3m-2 0h3m-10 1h3m2 0h3m31 0h3m41 0h3m21 0h3m-100 1h3m55 0h3m7 0h3m0 0h3m16 0h3m1 0h3m-112 1h3m6 0h3m41 0h3m5 0h3m7 0h3m3 0h3m-72 1h3m4 0h3m36 0h3m23 0h3m-47 1h3m1 0h3m57 0h3m-2 0h3m20 0h3m-112 1h3m64 0h3m49 0h3m-117 1h3m58 0h3m0 0h3m68 0h3m-176 1h3m17 0h3m3 0h3m12 0h3m31 0h3m-70 1h3m81 0h3m31 0h3m11 0h3m-83 1h3m15 0h3m80 0h3m-93 1h3m-1 0h3m6 0h3m-1 0h3m45 0h3m32 0h3m-106 1h3m9 0h3m2 0h3m26 0h3m-23 1h3m-91 1h3m82 0h3m31 0h3m27 0h3m1 0h3m-135 1h3m14 0h3m3 0h3m0 0h3m32 0h3m31 0h3m-1 0h3m-120 1h3m68 0h3m0 0h3m1 0h3m10 0h3m6 0h3m-2 0h3m-116 1h3m23 0h3m20 0h3m26 0h3m-31 1h3m-2 0h3m17 0h3m-35 1h3m7 0h3m12 0h3m79 0h3m0 0h3m-114 1h3m13 0h3m5 0h3m34 0h3m-26 1h3m-66 1h3m53 0h3m42 0h3m9 0h3m29 0h3m-129 1h3m56 0h3m33 0h3m-127 1h3m37 0h3m-12 1h3m16 0h3m45 0h3m12 0h3m-1 0h3m6 0h3m-113 1h3m17 0h3m38 0h3m-2 0h3m-54 1h3m14 0h3m-1 0h3m0 0h3m48 0h3m16 0h3m5 0h3m-3 0h3m-197 1h3m88 0h3m22 0h3m50 0h3m27 0h3m7 0h3m-135 1h3m25 1h3m16 0h3m19 0h3m2 0h3m43 0h3m-119 1h3m29 0h3m-53 1h3m34 0h3m-1 0h3m38 0h3m41 0h3m-61 1h3m51 0h3m-120 1h3m39 0h3m3 0h3m32 0h3m-1 0h3m9 0h3m0 0h3m3 0h3m35 0h3m-107 1h3m92 0h3m-131 1h3m41 0h3m26 0h3m18 0h3m28 0h3m1 0h3m-89 1h3m41 0h3m-3 0h3m15 0h3m-104 1h3m15 0h3m28 0h3m19 0h3m-1 0h3m-108 1h3m88 0h3m0 0h3m26 0h3m-49 1h3m4 0h3m25 0h3m14 0h3m-68 1h3m26 0h3m75 0h3m-73 1h3m22 0h3m-77 1h3m12 0h3m12 1h3m-43 1h3m32 0h3m32 0h3m42 0h3m-119 1h3m18 0h3m31 0h3m12 0h3m15 0h3m27 0h3m-83 1h3m1 0h3m11 0h3m44 0h3m12 0h3m-58 1h3m39 0h3m48 0h3m-152 1h3m3 0h3m56 0h3m-124 1h3m10 0h3m47 0h3m3 0h3m23 0h3m-56 1h3m24 0h3m9 0h3m5 0h3m18 0h3m-29 1h3m55 0h3m-54 1h3m42 0h3m12 0h3m45 0h3m-132 2h3m7 0h3m2 1h3m22 1h3m27 0h3m-120 1h3m93 0h3m4 0h3m40 0h3m-113 1h3m53 0h3m42 0h3m18 0h3m-72 1h3m-99 1h3m35 0h3m-4 1h3m59 0h3m-56 1h3m-22 1h3m100 0h3m17 0h3m-157 1h3m16 0h3m99 0h3m-71 1h3m130 0h3m-107 1h3m33 0h3m16 0h3m-50 2h3m52 0h3m-80 1h3m6 0h3m24 0h3m7 0h3m-68 1h3m8 1h3m62 0h3m33 0h3m-32 2h3m22 0h3m22 0h3m-128 1h3m7 0h3m15 1h3m-66 1h3m47 0h3m65 0h3m-203 2h3m15 0h3m66 0h3m72 0h3m-99 1h3m66 0h3m43 0h3m1 0h3m-59 1h3m17 0h3m30 0h3m13 0h3m10 0h3m2 0h3m-79 1h3m-86 1h3m126 0h3m74 0h3m-136 1h3m100 0h3m-132 2h3m17 0h3m15 0h3m-56 1h3m27 0h3m33 0h3m-69 1h3m87 0h3m-73 1h3m25 0h3m71 0h3m-57 2h3m4 0h3m34 0h3m2 0h3m-108 1h3m45 0h3m5 1h3m-80 1h3m-3 1h3m13 0h3m83 0h3m-52 2h3m33 0h3m-17 1h3m-43 2h3m-9 1h3m60 1h3m29 1h3m-24 1h3m-13 1h3m28 0h3m-98 3h3m23 3h3m42 0h3m-77 1h3m46 0h3m-25 11h3m-81 1h3m113 1h3m-10 1h3m-77 1h3m137 1h3m-160 1h3m-60 2h3m129 11h3m-65 2h3m-14 1h3m16 0h3m-92 1h3m146 19h3m-22 22h3m26 0h3m-125 41h3" stroke-opacity="0.19"/><path d="M913 1179h3m104 0h3m-110 1h3m62 0h3m12 0h3m10 0h3m11 0h3m-3 0h3m48 0h3m5 0h3m45 0h3m-192 1h3m14 0h3m29 0h3m1 0h3m9 0h3m6 0h3m4 0h3m86 0h3m-218 1h3m51 0h3m14 0h3m23 0h3m20 0h3m1 0h3m-2 0h3m5 0h3m1 0h3m-2 0h3m14 0h3m3 0h3m9 0h3m20 0h3m22 0h3m1 0h3m-206 1h3m29 0h3m18 0h3m16 0h3m3 0h3m8 0h3m-1 0h3m16 0h3m19 0h3m18 0h3m-139 1h3m23 0h3m21 0h3m8 0h3m14 0h3m0 0h3m22 0h3m0 0h3m28 0h3m2 0h3m-93 1h3" stroke-opacity="0.22"/><path d="M1104 212h3m-19 7h3m44 1h3m-41 2h3m-8 3h3m40 1h3m-78 2h3m55 3h3m-12 3h3m-6 2h3m39 1h3m-74 1h3m25 0h3m39 0h3m-72 2h3m39 1h3m5 0h3m-34 1h3m-86 2h3m95 1h3m-20 1h3m13 1h3m-38 1h3m13 1h3m0 0h3m-36 1h3m28 1h3m14 0h3m-42 1h3m23 0h3m-10 1h3m-52 1h3m50 1h3m16 0h3m-35 1h3m3 0h3m12 0h3m-62 1h3m-2 0h3m16 0h3m5 0h3m-1 0h3m19 0h3m-15 1h3m5 0h3m-64 1h3m39 0h3m13 0h3m32 0h3m-53 1h3m4 0h3m32 0h3m-86 1h3m22 0h3m-1 0h3m22 0h3m16 0h3m1 0h3m2 0h3m-61 1h3m-3 0h3m7 0h3m11 0h3m2 0h3m18 0h3m-2 0h3m2 0h3m-72 1h3m-2 0h3m8 0h3m19 0h3m5 0h3m-49 1h3m39 0h3m20 0h3m-33 1h3m1 0h3m-2 0h3m15 0h3m7 0h3m20 0h3m-139 1h3m64 0h3m2 0h3m7 0h3m22 0h3m-76 1h3m56 0h3m-39 1h3m12 0h3m13 0h3m9 0h3m5 0h3m3 0h3m4 0h3m-1 0h3m-105 1h3m8 0h3m9 0h3m4 0h3m2 0h3m-2 0h3m0 0h3m-2 0h3m26 0h3m6 0h3m-55 1h3m4 0h3m0 0h3m4 1h3m2 0h3m6 0h3m11 0h3m-52 1h3m15 0h3m-2 0h3m17 0h3m7 0h3m-26 1h3m9 0h3m0 0h3m37 0h3m-90 1h3m0 0h3m9 0h3m2 0h3m5 0h3m5 0h3m7 0h3m9 0h3m26 0h3m-103 1h3m18 0h3m5 0h3m5 0h3m-2 0h3m8 0h3m0 0h3m-2 0h3m22 0h3m8 0h3m-73 1h3m23 0h3m0 0h3m-1 0h3m-3 0h3m23 0h3m16 0h3m-77 1h3m-1 0h3m2 0h3m-3 0h3m3 0h3m1 0h3m11 0h3m10 0h3m1 0h3m3 0h3m-74 1h3m6 0h3m12 0h3m20 0h3m0 0h3m24 0h3m8 0h3m-66 1h3m-1 0h3m20 0h3m-2 0h3m-51 1h3m-2 0h3m29 0h3m10 0h3m13 0h3m-61 1h3m-1 0h3m23 0h3m-1 0h3m5 0h3m8 0h3m-3 0h3m9 0h3m-79 1h3m4 0h3m2 0h3m4 0h3m-2 0h3m1 0h3m0 0h3m2 0h3m2 0h3m-2 0h3m7 0h3m3 0h3m2 0h3m-1 0h3m0 0h3m-2 0h3m-1 0h3m0 0h3m11 0h3m14 0h3m-73 1h3m7 0h3m-1 0h3m0 0h3m-3 0h3m-1 0h3m3 0h3m7 0h3m6 0h3m-50 1h3m13 0h3m-1 0h3m2 0h3m4 0h3m8 0h3m2 0h3m-1 0h3m5 0h3m12 0h3m-94 1h3m36 0h3m20 0h3m8 0h3m-2 0h3m0 0h3m-88 1h3m5 0h3m5 0h3m0 0h3m4 0h3m-3 0h3m-1 0h3m-2 0h3m0 0h3m3 0h3m5 0h3m0 0h3m1 0h3m-2 0h3m0 0h3m0 0h3m6 0h3m19 0h3m-95 1h3m4 0h3m11 0h3m8 0h3m-3 0h3m4 0h3m-2 0h3m-1 0h3m20 0h3m0 0h3m3 0h3m0 0h3m7 0h3m24 0h3m-108 1h3m9 0h3m19 0h3m-1 0h3m-2 0h3m-3 0h3m-2 0h3m0 0h3m2 0h3m11 0h3m0 0h3m6 0h3m13 0h3m-98 1h3m9 0h3m9 0h3m1 0h3m7 0h3m-1 0h3m0 0h3m2 0h3m-2 0h3m5 0h3m2 0h3m-1 0h3m1 0h3m20 0h3m4 0h3m-65 1h3m-3 0h3m4 0h3m0 0h3m-1 0h3m-2 0h3m-2 0h3m5 0h3m-2 0h3m-3 0h3m-3 0h3m3 0h3m3 0h3m4 0h3m-72 1h3m-3 0h3m0 0h3m1 0h3m12 0h3m-2 0h3m0 0h3m-2 0h3m-1 0h3m7 0h3m-1 0h3m-1 0h3m1 0h3m4 0h3m10 0h3m1 0h3m6 0h3m-94 1h3m27 0h3m4 0h3m5 0h3m0 0h3m-1 0h3m10 0h3m-1 0h3m4 0h3m-94 1h3m12 0h3m33 0h3m9 0h3m-1 0h3m3 0h3m3 0h3m3 0h3m-3 0h3m7 0h3m2 0h3m7 0h3m-1 0h3m-87 1h3m38 0h3m-82 1h3m25 0h3m4 0h3m1 0h3m8 0h3m14 0h3m-3 0h3m22 0h3m9 0h3m10 0h3m-78 1h3m4 0h3m5 0h3m-1 0h3m10 0h3m-1 0h3m2 0h3m13 0h3m2 0h3m-108 1h3m32 0h3m6 0h3m-1 0h3m2 0h3m6 0h3m6 0h3m-2 0h3m4 0h3m3 0h3m-1 0h3m3 0h3m-1 0h3m-1 0h3m-3 0h3m-80 1h3m15 0h3m6 0h3m16 0h3m4 0h3m-3 0h3m4 0h3m4 0h3m1 0h3m2 0h3m2 0h3m2 0h3m-66 1h3m-1 0h3m2 0h3m5 0h3m16 0h3m6 0h3m-1 0h3m5 0h3m10 0h3m7 0h3m0 0h3m-95 1h3m22 0h3m6 0h3m1 0h3m7 0h3m11 0h3m1 0h3m-3 0h3m-81 1h3m33 0h3m1 0h3m0 0h3m3 0h3m0 0h3m-3 0h3m4 0h3m-2 0h3m-1 0h3m28 0h3m-94 1h3m22 0h3m-1 0h3m12 0h3m2 0h3m-2 0h3m0 0h3m5 0h3m2 0h3m11 0h3m21 0h3m-114 1h3m11 0h3m14 0h3m2 0h3m2 0h3m-3 0h3m6 0h3m-3 0h3m-3 0h3m-1 0h3m0 0h3m4 0h3m21 0h3m-2 0h3m6 0h3m14 0h3m-86 1h3m-2 0h3m11 0h3m-3 0h3m14 0h3m4 0h3m19 0h3m-56 1h3m0 0h3m7 0h3m-1 0h3m3 0h3m-3 0h3m-2 0h3m-1 0h3m1 0h3m-1 0h3m3 0h3m11 0h3m38 0h3m-106 1h3m17 0h3m12 0h3m3 0h3m-3 0h3m1 0h3m9 0h3m-36 1h3m-1 0h3m-1 0h3m6 0h3m3 0h3m1 0h3m0 0h3m-61 1h3m21 0h3m5 0h3m4 0h3m-1 0h3m-3 0h3m0 0h3m-3 0h3m1 0h3m1 0h3m4 0h3m4 0h3m-2 0h3m2 0h3m-100 1h3m39 0h3m8 0h3m1 0h3m-3 0h3m1 0h3m-2 0h3m3 0h3m3 0h3m-2 0h3m0 0h3m2 0h3m6 0h3m17 0h3m-73 1h3m-2 0h3m1 0h3m10 0h3m18 0h3m0 0h3m6 0h3m4 0h3m-2 0h3m6 0h3m-125 1h3m16 0h3m1 0h3m1 0h3m1 0h3m-2 0h3m-1 0h3m-1 0h3m18 0h3m0 0h3m-2 0h3m6 0h3m7 0h3m-2 0h3m3 0h3m-3 0h3m7 0h3m5 0h3m5 0h3m21 0h3m-103 1h3m13 0h3m0 0h3m8 0h3m7 0h3m9 0h3m0 0h3m13 0h3m5 0h3m-76 1h3m6 0h3m-3 0h3m7 0h3m5 0h3m0 0h3m11 0h3m4 0h3m3 0h3m29 0h3m-113 1h3m28 0h3m-1 0h3m6 0h3m5 0h3m23 0h3m4 0h3m-59 1h3m22 0h3m2 0h3m7 0h3m1 0h3m9 0h3m-71 1h3m4 0h3m3 0h3m-2 0h3m7 0h3m-1 0h3m0 0h3m14 0h3m1 0h3m5 0h3m-3 0h3m-2 0h3m0 0h3m6 0h3m-1 0h3m-80 1h3m17 0h3m9 0h3m5 0h3m6 0h3m1 0h3m7 0h3m-36 1h3m16 0h3m6 0h3m-2 0h3m-3 0h3m-78 1h3m7 0h3m1 0h3m-1 0h3m22 0h3m10 0h3m3 0h3m-3 0h3m11 0h3m-87 1h3m54 0h3m12 0h3m39 0h3m-67 1h3m1 0h3m4 0h3m1 0h3m6 0h3m-64 1h3m20 0h3m-1 0h3m3 0h3m16 0h3m3 0h3m7 0h3m-2 0h3m6 0h3m-70 1h3m11 0h3m3 0h3m-3 0h3m12 0h3m25 0h3m11 0h3m2 0h3m-84 1h3m52 0h3m17 0h3m-55 1h3m2 0h3m0 0h3m11 0h3m1 0h3m2 0h3m4 0h3m8 0h3m0 0h3m11 0h3m-65 1h3m-1 0h3m3 0h3m-1 0h3m11 0h3m-51 1h3m17 0h3m1 0h3m-3 0h3m-3 0h3m7 0h3m-3 0h3m0 0h3m0 0h3m-49 1h3m69 0h3m-75 1h3m5 0h3m-2 0h3m11 0h3m10 0h3m13 0h3m2 0h3m-80 1h3m75 0h3m52 0h3m-142 1h3m21 0h3m3 0h3m6 0h3m7 0h3m4 0h3m-15 1h3m5 0h3m3 0h3m-2 0h3m-24 1h3m9 0h3m3 0h3m1 0h3m-3 0h3m-1 0h3m4 0h3m-1 0h3m24 0h3m-54 1h3m-1 0h3m4 0h3m-3 0h3m3 0h3m18 0h3m-92 1h3m36 0h3m2 0h3m-1 0h3m-1 0h3m2 0h3m17 0h3m31 0h3m-95 1h3m27 0h3m-2 0h3m12 0h3m6 0h3m29 0h3m-36 1h3m4 0h3m31 0h3m-84 1h3m30 0h3m-2 0h3m6 0h3m-37 1h3m1 0h3m0 0h3m21 0h3m20 0h3m-67 1h3m4 0h3m41 0h3m-14 1h3m31 0h3m-64 1h3m0 0h3m21 0h3m13 0h3m36 0h3m-130 1h3m38 0h3m26 0h3m-46 1h3m12 0h3m13 1h3m31 0h3m-49 1h3m14 1h3m16 0h3m-14 2h3m-28 1h3m-2 0h3m-18 1h3m11 0h3m31 0h3m-29 1h3m13 0h3m3 1h3m-50 2h3m35 0h3m-69 1h3m23 1h3m7 0h3m15 0h3m-18 1h3m9 0h3m0 0h3m23 0h3m-26 1h3m-3 1h3m-18 3h3m2 0h3m-13 6h3" stroke-opacity="0.25"/></g>
<line x1="153.6" y1="278.0" x2="153.6" y2="398.8" stroke="#858585" stroke-width="1.2"/>
<line x1="153.1" y1="398.2" x2="273.5" y2="398.2" stroke="#6a6a6a" stroke-width="1.1"/>
<path d="M150.1 397.4H153.6M150.1 375.5H153.6M150.1 353.6H153.6M150.1 331.8H153.6M150.1 309.9H153.6M150.1 288.0H153.6M153.6 398.2V401.7M175.3 398.2V401.7M197.1 398.2V401.7M218.8 398.2V401.7M240.6 398.2V401.7M262.4 398.2V401.7" stroke="#222" stroke-width="1.3" fill="none"/>
<path d="M151.6 390.8H153.6M151.6 387.0H153.6M151.6 384.2H153.6M151.6 382.1H153.6M151.6 380.4H153.6M151.6 378.9H153.6M151.6 377.6H153.6M151.6 376.5H153.6M151.6 368.9H153.6M151.6 365.1H153.6M151.6 362.4H153.6M151.6 360.2H153.6M151.6 358.5H153.6M151.6 357.0H153.6M151.6 355.8H153.6M151.6 354.7H153.6M151.6 347.1H153.6M151.6 343.2H153.6M151.6 340.5H153.6M151.6 338.4H153.6M151.6 336.6H153.6M151.6 335.2H153.6M151.6 333.9H153.6M151.6 332.8H153.6M151.6 325.2H153.6M151.6 321.3H153.6M151.6 318.6H153.6M151.6 316.5H153.6M151.6 314.8H153.6M151.6 313.3H153.6M151.6 312.0H153.6M151.6 310.9H153.6M151.6 303.3H153.6M151.6 299.5H153.6M151.6 296.7H153.6M151.6 294.6H153.6M151.6 292.9H153.6M151.6 291.4H153.6M151.6 290.1H153.6M151.6 289.0H153.6M151.6 281.4H153.6M160.1 398.2V400.2M164.0 398.2V400.2M166.7 398.2V400.2M168.8 398.2V400.2M170.5 398.2V400.2M172.0 398.2V400.2M173.2 398.2V400.2M174.4 398.2V400.2M181.9 398.2V400.2M185.7 398.2V400.2M188.4 398.2V400.2M190.6 398.2V400.2M192.3 398.2V400.2M193.7 398.2V400.2M195.0 398.2V400.2M196.1 398.2V400.2M203.6 398.2V400.2M207.5 398.2V400.2M210.2 398.2V400.2M212.3 398.2V400.2M214.0 398.2V400.2M215.5 398.2V400.2M216.7 398.2V400.2M217.9 398.2V400.2M225.4 398.2V400.2M229.2 398.2V400.2M231.9 398.2V400.2M234.1 398.2V400.2M235.8 398.2V400.2M237.2 398.2V400.2M238.5 398.2V400.2M239.6 398.2V400.2M247.1 398.2V400.2M251.0 398.2V400.2M253.7 398.2V400.2M255.8 398.2V400.2M257.5 398.2V400.2M259.0 398.2V400.2M260.2 398.2V400.2M261.4 398.2V400.2M268.9 398.2V400.2M272.7 398.2V400.2" stroke="#3a3a3a" stroke-width="0.85" fill="none"/>
<text x="155.6" y="409.1" font-size="4.8" fill="#333" letter-spacing="-0.2">10<tspan font-size="4.2" dy="-2.9" fill="#222">0</tspan></text>
<text x="177.3" y="409.1" font-size="4.8" fill="#333" letter-spacing="-0.2">10<tspan font-size="4.2" dy="-2.9" fill="#222">1</tspan></text>
<text x="199.1" y="409.1" font-size="4.8" fill="#333" letter-spacing="-0.2">10<tspan font-size="4.2" dy="-2.9" fill="#222">2</tspan></text>
<text x="220.8" y="409.1" font-size="4.8" fill="#333" letter-spacing="-0.2">10<tspan font-size="4.2" dy="-2.9" fill="#222">3</tspan></text>
<text x="242.6" y="409.1" font-size="4.8" fill="#333" letter-spacing="-0.2">10<tspan font-size="4.2" dy="-2.9" fill="#222">4</tspan></text>
<text x="264.4" y="409.1" font-size="4.8" fill="#333" letter-spacing="-0.2">10<tspan font-size="4.2" dy="-2.9" fill="#222">5</tspan></text>
<text x="211.6" y="420.7" font-size="5.1" fill="#222" text-anchor="middle">Comp-APC-A</text>
<text x="209.6" y="376.1" font-size="5.1" fill="#111" text-anchor="middle">Comp-APC-A, Comp-PE-A subset</text>
<text x="209.6" y="384.1" font-size="5.1" fill="#111" text-anchor="middle">65.8</text>
<rect x="220.0" y="288.6" width="51.5" height="44.2" fill="none" stroke="#000" stroke-width="2"/>
<text x="305.9" y="254.4" font-size="10.2" font-weight="bold" stroke="#000" stroke-width="0.25" textLength="69.3" lengthAdjust="spacingAndGlyphs">BoLA-1*023:01-</text>
<text x="328.7" y="267.0" font-size="10.2" font-weight="bold" stroke="#000" stroke-width="0.25" textLength="15" lengthAdjust="spacingAndGlyphs">Tp9</text>
<text x="343.9" y="269.3" font-size="6.8" font-weight="bold" stroke="#000" stroke-width="0.15">A4</text>
<rect x="276.5" y="278.5" width="120.0" height="119.69999999999999" fill="#fff" stroke="#8a8a8a" stroke-width="1.1"/>
<g transform="translate(276.5,278.6) scale(0.1)" stroke="#5216aa" stroke-width="7.0" stroke-linecap="round" fill="none"><path d="M1005 68h3m-138 180h3m-25 63h3m99 68h3m-165 14h3m139 12h3m-35 10h3m44 6h3m-71 1h3m58 41h3m-144 1h3m55 8h3m25 21h3m-26 4h3m87 1h3m173 33h3m-98 2h3m-134 14h3m161 3h3m-155 8h3m20 0h3m35 5h3m-21 9h3m79 11h3m-75 6h3m-3 13h3m166 2h3m-116 2h3m-176 33h3m140 3h3m-114 5h3m202 8h3m-196 1h3m-16 4h3m-29 13h3m5 8h3m-284 2h3m339 8h3m-113 9h3m198 1h3m46 13h3m-13 1h3m-88 3h3m-194 7h3m164 15h3m-217 6h3m148 15h3m0 17h3m205 3h3m-259 5h3m-66 30h3m318 5h3m-139 3h3m82 7h3m-52 7h3m-271 7h3m428 29h3m-72 1h3m-269 21h3m-55 2h3m161 49h3m-180 15h3m168 9h3m103 190h3" stroke-opacity="0.15"/><path d="M1022 310h3m-127 9h3m40 14h3m43 6h3m4 5h3m-8 16h3m-55 13h3m-15 4h3m-18 5h3m51 8h3m-40 7h3m82 3h3m-48 3h3m-65 1h3m-23 6h3m179 2h3m-59 3h3m23 1h3m-124 1h3m4 1h3m-9 5h3m55 0h3m-43 2h3m-71 2h3m138 1h3m-102 5h3m73 0h3m3 1h3m2 1h3m-60 2h3m15 0h3m47 0h3m-89 4h3m63 0h3m-164 2h3m134 0h3m-2 0h3m11 0h3m15 0h3m-44 1h3m76 0h3m21 0h3m-17 3h3m-65 1h3m57 1h3m33 3h3m-130 1h3m39 0h3m-75 1h3m0 0h3m23 1h3m11 2h3m3 0h3m4 1h3m135 0h3m-140 2h3m34 2h3m7 1h3m18 0h3m-72 1h3m0 0h3m27 0h3m-147 1h3m128 0h3m-78 1h3m38 0h3m-41 1h3m-1 0h3m55 0h3m-153 2h3m73 0h3m107 0h3m-68 1h3m-113 1h3m128 3h3m40 0h3m-57 1h3m60 0h3m-146 1h3m106 0h3m12 0h3m-96 1h3m68 0h3m-87 2h3m39 0h3m17 0h3m26 0h3m58 1h3m-184 1h3m78 0h3m12 0h3m0 0h3m57 0h3m-48 1h3m15 0h3m-1 0h3m-3 1h3m8 0h3m-138 1h3m56 0h3m-43 1h3m80 2h3m-41 1h3m83 1h3m-101 1h3m33 0h3m34 0h3m-15 1h3m40 0h3m-39 1h3m-127 1h3m37 0h3m26 0h3m28 0h3m97 2h3m-148 2h3m-50 1h3m12 0h3m24 0h3m0 0h3m63 0h3m10 0h3m13 0h3m4 0h3m-94 1h3m34 0h3m68 0h3m-76 2h3m-58 1h3m73 1h3m3 0h3m-16 1h3m-9 1h3m-43 1h3m19 1h3m55 0h3m-61 1h3m-1 0h3m2 0h3m-77 1h3m41 0h3m85 0h3m47 1h3m-124 1h3m-41 1h3m58 0h3m7 0h3m-3 0h3m97 0h3m-184 1h3m50 0h3m42 0h3m-6 1h3m-14 1h3m-60 1h3m-76 1h3m9 0h3m89 0h3m32 0h3m5 0h3m16 0h3m-1 0h3m-144 1h3m112 0h3m-116 1h3m-1 0h3m86 0h3m7 0h3m-38 2h3m43 0h3m-10 1h3m32 0h3m-20 1h3m5 0h3m42 0h3m-162 1h3m57 0h3m14 0h3m-49 2h3m24 0h3m-19 1h3m20 0h3m15 0h3m-99 1h3m127 0h3m-144 1h3m64 0h3m7 0h3m110 0h3m-94 1h3m-99 2h3m18 0h3m127 0h3m-139 1h3m69 0h3m-82 1h3m41 0h3m-79 2h3m174 0h3m-104 1h3m-44 2h3m225 0h3m-209 1h3m30 0h3m8 0h3m16 0h3m-64 1h3m80 0h3m-69 2h3m6 0h3m9 0h3m83 0h3m-104 1h3m-52 1h3m118 0h3m-65 1h3m-143 1h3m148 0h3m50 0h3m-89 1h3m20 0h3m16 0h3m62 0h3m4 0h3m-98 1h3m71 1h3m-47 3h3m15 0h3m-34 1h3m54 0h3m-81 2h3m40 0h3m2 1h3m9 0h3m-41 1h3m23 0h3m13 0h3m-141 1h3m63 0h3m-97 1h3m171 0h3m21 0h3m40 0h3m-157 1h3m-1 0h3m95 0h3m-89 1h3m17 0h3m-3 0h3m57 0h3m-2 0h3m-127 1h3m14 0h3m8 1h3m117 0h3m-88 2h3m3 0h3m-91 2h3m83 0h3m28 0h3m117 0h3m-115 1h3m0 0h3m-122 1h3m48 0h3m17 0h3m8 0h3m43 0h3m-117 2h3m61 1h3m30 0h3m-83 1h3m84 0h3m-69 1h3m-87 1h3m54 2h3m11 0h3m46 0h3m-16 1h3m7 0h3m-1 1h3m43 0h3m-108 1h3m103 0h3m-163 1h3m73 1h3m19 0h3m71 0h3m20 1h3m-190 1h3m75 0h3m47 1h3m-50 2h3m34 0h3m19 1h3m-98 3h3m32 2h3m-38 2h3m70 1h3m-36 2h3m38 0h3m-94 2h3m82 3h3m-53 1h3m51 3h3m-27 7h3m-16 2h3m-90 2h3m54 6h3m117 0h3m-127 2h3m103 2h3m-90 1h3m91 0h3m-99 1h3m70 4h3m-98 2h3m75 0h3m32 3h3m-76 2h3m36 0h3m11 1h3m-97 5h3m151 7h3m-86 3h3m3 4h3m29 0h3m-76 1h3m42 1h3m-169 17h3m149 13h3m-8 19h3" stroke-opacity="0.16"/><path d="M1036 376h3m-48 55h3m34 2h3m-31 4h3m15 6h3m3 16h3m-1 5h3m-115 31h3m31 4h3m16 6h3m-29 1h3m79 1h3m-3 0h3m-70 3h3m63 3h3m-16 2h3m-16 1h3m49 1h3m-35 1h3m-131 1h3m76 1h3m65 0h3m-59 4h3m8 1h3m-41 5h3m65 0h3m17 2h3m42 3h3m-20 4h3m-94 6h3m71 2h3m-139 2h3m20 0h3m-4 2h3m7 0h3m96 0h3m-56 3h3m-39 3h3m15 0h3m87 1h3m48 2h3m-157 1h3m5 0h3m28 2h3m13 0h3m25 0h3m-68 2h3m35 1h3m55 0h3m-52 1h3m26 1h3m-119 1h3m45 0h3m-41 1h3m15 0h3m92 0h3m-32 1h3m-103 1h3m74 0h3m49 0h3m-68 2h3m-24 3h3m111 2h3m-77 1h3m-15 1h3m-49 1h3m125 0h3m-71 1h3m-12 2h3m15 0h3m1 0h3m9 1h3m-98 1h3m-40 2h3m48 0h3m90 0h3m-40 1h3m-48 1h3m25 1h3m25 0h3m-47 2h3m0 0h3m5 0h3m-29 1h3m29 0h3m-49 2h3m44 0h3m-72 1h3m119 1h3m-111 1h3m40 0h3m19 0h3m-94 3h3m21 0h3m5 0h3m18 0h3m5 0h3m101 0h3m-8 2h3m-38 1h3m35 2h3m-93 1h3m22 1h3m25 0h3m-202 1h3m78 0h3m44 0h3m-11 1h3m44 0h3m6 0h3m-20 1h3m28 0h3m-31 1h3m-23 1h3m-35 1h3m-4 1h3m6 0h3m105 1h3m-103 1h3m74 0h3m-79 1h3m45 1h3m-2 0h3m-80 1h3m79 0h3m3 0h3m-25 1h3m-56 1h3m38 0h3m-60 1h3m165 0h3m-142 1h3m54 0h3m-138 1h3m17 0h3m37 0h3m45 0h3m16 0h3m-20 1h3m-4 1h3m43 0h3m-58 1h3m0 0h3m-97 1h3m83 0h3m17 0h3m27 1h3m-85 1h3m25 0h3m6 0h3m23 0h3m-100 1h3m20 0h3m115 0h3m40 0h3m-157 1h3m21 0h3m7 0h3m56 1h3m-88 1h3m39 0h3m1 0h3m-79 1h3m41 1h3m38 0h3m22 0h3m-63 1h3m7 0h3m50 0h3m16 1h3m-78 1h3m0 0h3m-27 1h3m80 0h3m-177 1h3m199 0h3m-128 1h3m40 0h3m-9 1h3m21 0h3m18 0h3m19 0h3m14 0h3m-95 1h3m14 0h3m5 0h3m79 2h3m-186 1h3m4 0h3m65 0h3m5 0h3m-2 0h3m1 0h3m71 0h3m-125 2h3m0 0h3m13 0h3m47 0h3m-113 1h3m80 0h3m-63 1h3m62 1h3m17 0h3m-43 1h3m-63 1h3m35 0h3m-71 1h3m109 1h3m3 0h3m48 0h3m-138 1h3m19 0h3m62 0h3m35 0h3m6 0h3m-134 1h3m30 0h3m5 1h3m100 0h3m-104 1h3m-3 0h3m12 0h3m97 0h3m-107 1h3m16 0h3m23 0h3m66 0h3m-130 2h3m70 0h3m-81 1h3m11 0h3m20 0h3m-67 1h3m14 0h3m60 0h3m-144 1h3m53 0h3m4 0h3m102 0h3m8 0h3m-98 1h3m12 0h3m5 0h3m13 0h3m-73 1h3m34 0h3m22 0h3m14 0h3m0 0h3m-1 0h3m5 0h3m9 0h3m11 0h3m-2 0h3m-3 0h3m-61 1h3m-41 1h3m15 0h3m83 0h3m-12 1h3m-103 1h3m38 0h3m11 0h3m2 0h3m39 0h3m54 0h3m-169 1h3m66 0h3m41 0h3m-22 1h3m-141 1h3m56 0h3m125 0h3m-145 1h3m45 0h3m47 0h3m16 0h3m32 0h3m-251 1h3m108 0h3m33 0h3m39 0h3m15 0h3m-86 1h3m48 0h3m31 0h3m35 0h3m-112 3h3m119 0h3m-138 1h3m51 0h3m-89 1h3m65 0h3m-39 1h3m5 0h3m6 0h3m-1 0h3m6 0h3m16 0h3m9 0h3m-30 1h3m14 0h3m19 0h3m-2 0h3m3 0h3m55 0h3m-184 1h3m89 0h3m69 0h3m-100 1h3m10 0h3m-43 1h3m69 0h3m-102 1h3m10 0h3m11 0h3m54 0h3m15 0h3m-165 1h3m51 0h3m24 0h3m4 0h3m0 0h3m17 0h3m16 0h3m27 0h3m-101 1h3m90 0h3m-74 1h3m1 0h3m33 0h3m16 1h3m4 0h3m42 0h3m-129 1h3m21 0h3m6 0h3m18 0h3m62 0h3m-99 1h3m23 1h3m21 0h3m6 0h3m16 0h3m27 0h3m-14 2h3m-104 1h3m-1 0h3m36 0h3m5 0h3m5 0h3m27 0h3m-155 1h3m46 0h3m70 0h3m19 0h3m15 0h3m-40 1h3m-56 1h3m48 0h3m33 0h3m40 0h3m-234 1h3m181 0h3m-137 1h3m64 0h3m6 0h3m3 0h3m32 0h3m-96 1h3m9 0h3m17 0h3m42 0h3m18 0h3m-65 2h3m-6 1h3m15 0h3m62 0h3m-125 1h3m39 0h3m38 0h3m16 0h3m-60 1h3m28 0h3m0 0h3m34 0h3m-103 1h3m15 0h3m71 0h3m-1 0h3m12 0h3m-103 1h3m32 0h3m36 0h3m-25 1h3m39 0h3m-101 1h3m17 0h3m69 0h3m-71 1h3m50 0h3m95 0h3m-204 1h3m71 0h3m-21 1h3m42 0h3m22 0h3m-94 1h3m13 0h3m3 0h3m68 0h3m-76 1h3m9 0h3m9 0h3m-87 1h3m80 0h3m-22 1h3m-3 0h3m-54 1h3m27 0h3m16 2h3m-4 1h3m24 0h3m-7 1h3m-70 1h3m47 0h3m-88 1h3m44 0h3m72 0h3m-1 0h3m-24 1h3m-75 1h3m35 0h3m27 0h3m-75 1h3m56 0h3m2 0h3m37 0h3m29 0h3m-109 1h3m64 0h3m-22 2h3m4 0h3m-41 1h3m69 0h3m-26 2h3m-119 2h3m102 0h3m1 0h3m-75 1h3m-22 1h3m39 1h3m19 0h3m43 0h3m-50 1h3m35 0h3m-45 2h3m23 0h3m-91 1h3m85 0h3m-2 0h3m22 0h3m-52 2h3m50 0h3m-50 1h3m26 0h3m46 0h3m-107 1h3m31 0h3m60 0h3m-131 1h3m82 0h3m-37 2h3m-3 0h3m-96 1h3m59 0h3m41 0h3m-51 1h3m79 0h3m3 1h3m-125 2h3m23 0h3m89 0h3m6 0h3m-96 1h3m-12 1h3m63 1h3m76 0h3m-141 1h3m65 0h3m-116 1h3m77 0h3m39 0h3m34 0h3m-93 1h3m-9 1h3m26 0h3m9 0h3m4 1h3m-73 1h3m58 0h3m48 0h3m-131 1h3m126 0h3m-142 1h3m94 0h3m-83 1h3m40 0h3m24 0h3m3 0h3m-123 1h3m94 0h3m-26 1h3m21 0h3m-44 1h3m41 0h3m-47 1h3m-47 1h3m27 0h3m103 0h3m-53 1h3m62 0h3m-113 1h3m78 1h3m-57 2h3m17 0h3m84 0h3m-150 1h3m15 0h3m-14 1h3m104 0h3m-18 1h3m-49 1h3m-47 1h3m58 2h3m-87 1h3m49 0h3m27 0h3m-72 1h3m97 0h3m-131 1h3m6 2h3m93 0h3m9 1h3m-55 1h3m75 1h3m-117 1h3m53 1h3m20 0h3m-71 2h3m26 3h3m106 2h3m1 6h3m0 0h3m-131 1h3m100 1h3m-73 1h3m-98 2h3m81 0h3m35 0h3m-81 3h3m14 6h3m3 0h3m54 1h3m-21 3h3m-104 1h3m123 0h3m-32 1h3m9 1h3m-78 1h3m83 0h3m-22 2h3m30 3h3m-21 3h3m41 0h3m-140 1h3m47 0h3m38 0h3m-93 1h3m145 3h3m-149 1h3m51 0h3m62 1h3m55 0h3m-181 1h3m46 0h3m81 1h3m-8 2h3m-220 9h3m168 0h3m16 0h3m-43 2h3m72 2h3m-176 6h3m89 8h3m76 12h3m-97 10h3m3 9h3m48 6h3m-23 8h3" stroke-opacity="0.17"/><path d="M997 264h3m70 5h3m-66 1h3m-1 7h3m-57 4h3m81 4h3m-8 2h3m20 0h3m-10 3h3m21 3h3m-26 2h3m-18 3h3m-62 2h3m65 2h3m-82 5h3m66 3h3m59 0h3m-67 5h3m57 0h3m-88 1h3m51 2h3m32 1h3m45 5h3m-124 1h3m-2 2h3m16 0h3m15 0h3m-113 1h3m18 3h3m42 1h3m17 0h3m1 0h3m-14 1h3m30 2h3m-39 2h3m17 0h3m-2 3h3m8 0h3m-5 1h3m24 0h3m-78 1h3m33 0h3m-50 2h3m12 0h3m7 0h3m28 0h3m-84 1h3m56 0h3m-14 1h3m-61 1h3m53 0h3m7 0h3m-1 0h3m13 0h3m32 0h3m-91 1h3m87 0h3m-76 2h3m85 0h3m-150 1h3m195 0h3m-79 1h3m-105 1h3m15 1h3m72 1h3m-41 1h3m-15 1h3m-25 1h3m61 1h3m-79 1h3m67 0h3m31 0h3m-162 2h3m33 0h3m25 0h3m30 0h3m46 0h3m18 0h3m-20 1h3m-1 1h3m-73 1h3m53 0h3m-70 1h3m37 0h3m19 0h3m26 0h3m-105 1h3m16 0h3m15 0h3m23 0h3m6 0h3m3 0h3m53 0h3m-103 1h3m12 0h3m0 0h3m-94 1h3m61 0h3m49 0h3m-87 1h3m47 0h3m97 0h3m-190 1h3m80 0h3m98 0h3m-147 1h3m21 0h3m0 0h3m3 0h3m20 0h3m-65 1h3m98 0h3m-31 1h3m-104 1h3m41 0h3m83 0h3m103 0h3m-139 1h3m-74 1h3m27 0h3m48 0h3m-51 1h3m56 0h3m-108 1h3m42 0h3m31 0h3m-78 1h3m46 1h3m0 0h3m27 0h3m8 0h3m-92 1h3m15 0h3m116 0h3m-166 1h3m80 0h3m3 0h3m13 0h3m2 1h3m65 0h3m-120 1h3m30 0h3m112 0h3m-189 1h3m28 0h3m91 0h3m-127 1h3m57 0h3m61 0h3m-124 1h3m42 0h3m71 0h3m39 0h3m-114 1h3m-39 1h3m50 0h3m66 0h3m-150 2h3m5 0h3m51 0h3m54 0h3m-99 1h3m-3 0h3m39 0h3m77 0h3m-166 1h3m94 0h3m21 0h3m-74 1h3m32 0h3m5 0h3m8 0h3m-57 1h3m8 0h3m14 1h3m11 1h3m1 0h3m44 0h3m3 0h3m35 0h3m-141 1h3m8 0h3m40 0h3m-28 1h3m-93 1h3m-8 1h3m27 0h3m8 0h3m17 0h3m11 0h3m26 0h3m0 0h3m5 0h3m59 0h3m-135 1h3m36 0h3m26 0h3m-76 1h3m72 0h3m19 0h3m17 0h3m3 0h3m-134 1h3m53 0h3m12 0h3m6 0h3m29 0h3m-94 1h3m31 0h3m39 0h3m113 0h3m-183 1h3m12 0h3m29 0h3m36 0h3m4 0h3m-98 1h3m18 0h3m3 0h3m11 0h3m59 0h3m-85 1h3m19 0h3m83 0h3m-90 1h3m-42 1h3m7 0h3m44 0h3m2 0h3m41 0h3m-99 1h3m15 0h3m0 0h3m22 0h3m6 0h3m-126 1h3m20 0h3m70 0h3m-172 1h3m76 0h3m29 0h3m13 0h3m22 0h3m14 0h3m-124 1h3m44 0h3m82 0h3m8 0h3m11 0h3m-126 1h3m61 0h3m11 0h3m15 0h3m2 0h3m-113 1h3m100 0h3m27 0h3m-145 1h3m47 0h3m44 0h3m11 0h3m-84 1h3m32 0h3m11 0h3m84 0h3m-77 1h3m16 0h3m-105 1h3m2 0h3m111 0h3m25 0h3m27 0h3m-22 1h3m-137 1h3m43 0h3m12 0h3m56 0h3m-167 1h3m124 0h3m0 0h3m69 0h3m-244 1h3m58 0h3m54 0h3m19 0h3m-2 0h3m1 0h3m5 0h3m19 0h3m-102 1h3m5 0h3m1 1h3m22 0h3m35 0h3m3 0h3m5 0h3m-5 1h3m12 0h3m-134 1h3m56 0h3m7 0h3m3 0h3m1 0h3m10 0h3m16 0h3m7 0h3m42 0h3m34 0h3m-162 1h3m41 0h3m-40 1h3m97 0h3m5 0h3m0 0h3m4 0h3m-205 1h3m110 0h3m43 0h3m-91 1h3m14 0h3m20 0h3m1 0h3m12 0h3m8 0h3m9 0h3m-124 1h3m32 0h3m18 0h3m3 0h3m12 0h3m29 0h3m-46 1h3m23 0h3m-61 1h3m61 0h3m19 0h3m21 0h3m-72 1h3m-103 1h3m69 0h3m7 0h3m34 0h3m18 0h3m-56 1h3m37 0h3m24 0h3m61 0h3m-135 1h3m14 0h3m-71 1h3m10 0h3m78 0h3m12 0h3m1 0h3m-128 1h3m60 0h3m4 0h3m41 0h3m16 0h3m-80 1h3m34 0h3m58 0h3m-28 1h3m32 0h3m-144 1h3m29 0h3m11 0h3m32 0h3m-63 1h3m0 0h3m44 0h3m0 0h3m-57 1h3m7 0h3m19 0h3m59 0h3m-150 1h3m62 0h3m-84 1h3m38 0h3m5 0h3m54 0h3m54 0h3m-78 1h3m3 0h3m5 0h3m3 0h3m27 0h3m19 0h3m-5 1h3m-77 1h3m8 0h3m-40 1h3m101 0h3m-141 1h3m35 0h3m62 0h3m12 0h3m-19 1h3m0 0h3m-45 1h3m29 0h3m26 0h3m21 0h3m-69 1h3m-2 0h3m10 0h3m-48 1h3m62 0h3m2 0h3m15 0h3m-91 1h3m-2 0h3m40 0h3m51 0h3m19 0h3m-108 1h3m12 0h3m4 0h3m46 0h3m-111 1h3m24 0h3m14 0h3m14 0h3m17 0h3m23 0h3m-96 1h3m43 0h3m-31 1h3m-1 0h3m24 0h3m7 0h3m23 0h3m-97 1h3m43 0h3m46 0h3m-94 1h3m6 0h3m51 0h3m10 0h3m1 0h3m-63 1h3m10 0h3m-2 0h3m97 0h3m-139 1h3m95 0h3m29 0h3m-96 1h3m4 0h3m46 0h3m-75 1h3m52 0h3m-2 0h3m13 0h3m-85 1h3m18 0h3m4 0h3m22 0h3m20 0h3m-123 1h3m17 0h3m22 0h3m-74 1h3m77 0h3m53 0h3m16 0h3m-120 1h3m43 0h3m26 0h3m15 0h3m50 0h3m-188 1h3m95 0h3m-2 0h3m-21 1h3m1 0h3m-3 0h3m32 0h3m-52 1h3m11 0h3m-1 1h3m62 0h3m1 0h3m31 0h3m-154 1h3m14 0h3m15 0h3m7 0h3m53 0h3m29 0h3m-128 1h3m8 0h3m12 0h3m102 0h3m-146 1h3m0 0h3m57 0h3m68 0h3m46 0h3m-249 1h3m79 0h3m15 0h3m73 0h3m-166 1h3m111 0h3m40 0h3m-53 1h3m-1 0h3m-41 1h3m0 0h3m17 0h3m6 0h3m27 0h3m19 0h3m-127 1h3m79 0h3m-48 1h3m1 0h3m21 0h3m-2 0h3m37 0h3m57 0h3m-164 1h3m37 0h3m19 0h3m56 0h3m80 0h3m-143 2h3m27 0h3m22 0h3m-87 1h3m35 0h3m39 0h3m-98 1h3m23 0h3m7 0h3m21 1h3m-1 0h3m98 0h3m-76 1h3m-31 1h3m37 0h3m55 0h3m-131 1h3m17 0h3m-30 1h3m22 0h3m36 0h3m-68 1h3m89 0h3m16 0h3m6 0h3m-125 1h3m53 0h3m21 0h3m-143 1h3m29 0h3m29 1h3m60 0h3m3 0h3m-39 2h3m30 0h3m3 0h3m-141 1h3m54 0h3m63 0h3m-85 1h3m-3 0h3m14 0h3m66 0h3m-91 1h3m2 0h3m8 0h3m79 0h3m-138 1h3m168 0h3m-112 1h3m-1 0h3m48 0h3m-7 1h3m-67 1h3m99 0h3m-90 1h3m11 1h3m-1 0h3m10 0h3m29 0h3m62 0h3m-96 1h3m88 0h3m-134 1h3m13 0h3m60 0h3m-118 1h3m70 0h3m-62 1h3m44 0h3m-85 1h3m109 0h3m26 0h3m32 0h3m-159 1h3m173 0h3m-132 1h3m69 0h3m42 0h3m-56 1h3m41 0h3m26 0h3m-143 1h3m7 0h3m38 0h3m24 0h3m26 0h3m-127 2h3m-20 1h3m44 3h3m2 0h3m38 0h3m-19 1h3m1 1h3m-34 1h3m10 1h3m-59 1h3m121 0h3m-146 1h3m71 0h3m56 3h3m-26 1h3m-65 1h3m-76 2h3m35 0h3m25 3h3m48 2h3m-3 1h3m-100 1h3m15 0h3m175 0h3m-187 3h3m8 1h3m-43 3h3m47 0h3m73 0h3m-108 1h3m39 3h3m79 0h3m-86 2h3m7 1h3m5 0h3m-41 2h3m78 0h3m-11 1h3m-77 1h3m10 2h3m25 1h3m26 1h3m-29 1h3m-69 4h3m65 14h3m-48 5h3m-29 8h3m69 3h3m14 4h3m-26 20h3" stroke-opacity="0.19"/><path d="M929 1179h3m43 0h3m67 0h3m2 0h3m-99 1h3m58 0h3m-1 0h3m1 0h3m33 0h3m-188 1h3m25 0h3m0 0h3m26 0h3m18 0h3m18 0h3m7 0h3m1 0h3m2 0h3m5 0h3m26 0h3m0 0h3m1 0h3m28 0h3m45 0h3m-238 1h3m26 0h3m2 0h3m44 0h3m2 0h3m2 0h3m2 0h3m-2 0h3m1 0h3m10 0h3m11 0h3m-1 0h3m3 0h3m2 0h3m4 0h3m0 0h3m19 0h3m9 0h3m-136 1h3m7 0h3m7 0h3m22 0h3m1 0h3m34 0h3m4 0h3m4 0h3m-2 0h3m9 0h3m-116 1h3m101 0h3m10 0h3m-1 0h3m28 0h3m-93 1h3" stroke-opacity="0.22"/><path d="M1073 272h3m-16 6h3m-12 5h3m41 10h3m-48 4h3m27 0h3m-42 2h3m36 3h3m-38 2h3m47 0h3m-3 0h3m42 1h3m-97 1h3m59 1h3m-34 1h3m5 1h3m-13 1h3m-64 1h3m103 1h3m-81 1h3m10 0h3m-23 6h3m9 0h3m37 0h3m-44 2h3m0 0h3m-15 1h3m18 1h3m-30 1h3m39 2h3m9 0h3m5 0h3m-3 0h3m3 0h3m10 0h3m-34 2h3m-2 0h3m58 0h3m-124 1h3m45 0h3m-37 1h3m26 0h3m23 1h3m-34 1h3m-49 1h3m39 0h3m11 0h3m9 0h3m-37 1h3m5 0h3m-1 0h3m23 0h3m5 0h3m-69 1h3m25 0h3m17 0h3m26 0h3m-77 1h3m1 0h3m12 0h3m8 0h3m-2 0h3m22 0h3m14 0h3m-34 1h3m0 0h3m25 0h3m-36 1h3m45 0h3m-89 1h3m3 0h3m32 0h3m-39 1h3m57 0h3m-53 1h3m4 0h3m4 0h3m0 0h3m7 0h3m-25 1h3m2 0h3m17 0h3m0 0h3m8 0h3m-37 1h3m4 0h3m6 0h3m19 0h3m27 0h3m-70 1h3m30 0h3m-1 0h3m-1 0h3m-39 1h3m-3 1h3m-2 0h3m7 0h3m0 0h3m1 0h3m11 0h3m-40 1h3m-1 0h3m14 0h3m-64 1h3m56 0h3m6 0h3m-48 1h3m28 0h3m0 0h3m-1 0h3m3 0h3m0 0h3m-2 0h3m-66 1h3m-1 0h3m13 0h3m37 0h3m16 0h3m-68 1h3m5 0h3m26 0h3m7 0h3m1 0h3m-2 0h3m0 0h3m3 0h3m-69 1h3m27 0h3m10 0h3m5 0h3m1 0h3m38 0h3m-79 1h3m42 0h3m-78 1h3m24 0h3m7 0h3m18 0h3m2 0h3m6 0h3m-2 0h3m-66 1h3m-2 0h3m8 0h3m43 0h3m-3 0h3m14 0h3m-2 0h3m-60 1h3m36 0h3m-98 1h3m14 0h3m5 0h3m40 0h3m-1 0h3m1 0h3m17 0h3m1 0h3m-81 1h3m28 0h3m-1 0h3m1 0h3m2 0h3m2 0h3m-1 0h3m9 0h3m1 0h3m-2 0h3m1 0h3m-2 0h3m-43 1h3m-1 0h3m14 0h3m-1 0h3m-2 0h3m13 0h3m14 0h3m-91 1h3m25 0h3m3 0h3m9 0h3m12 0h3m16 0h3m19 0h3m-80 1h3m-2 0h3m2 0h3m5 0h3m14 0h3m-3 0h3m-3 0h3m-55 1h3m6 0h3m13 0h3m0 0h3m1 0h3m9 0h3m0 0h3m36 0h3m-81 1h3m18 0h3m5 0h3m-2 0h3m-2 0h3m4 0h3m4 0h3m0 0h3m3 0h3m17 0h3m-1 0h3m-89 1h3m23 0h3m-2 0h3m6 0h3m18 0h3m13 0h3m26 0h3m-86 1h3m-2 0h3m4 0h3m0 0h3m9 0h3m17 0h3m3 0h3m-3 0h3m-1 0h3m5 0h3m1 0h3m3 0h3m-53 1h3m1 0h3m3 0h3m-2 0h3m18 0h3m-2 0h3m14 0h3m0 0h3m-103 1h3m3 0h3m40 0h3m4 0h3m-2 0h3m-3 0h3m-2 0h3m-2 0h3m9 0h3m11 0h3m23 0h3m-88 1h3m9 0h3m1 0h3m7 0h3m2 0h3m7 0h3m-1 0h3m7 0h3m0 0h3m5 0h3m27 0h3m-72 1h3m4 0h3m3 0h3m29 0h3m0 0h3m-73 1h3m19 0h3m9 0h3m2 0h3m2 0h3m-1 0h3m-2 0h3m16 0h3m-87 1h3m2 0h3m29 0h3m1 0h3m7 0h3m-2 0h3m0 0h3m31 0h3m-77 1h3m9 0h3m13 0h3m10 0h3m7 0h3m-81 1h3m9 0h3m4 0h3m6 0h3m-2 0h3m15 0h3m4 0h3m2 0h3m-3 0h3m-1 0h3m-2 0h3m-1 0h3m12 0h3m-61 1h3m7 0h3m4 0h3m9 0h3m3 0h3m-1 0h3m2 0h3m10 0h3m32 0h3m2 0h3m-116 1h3m4 0h3m32 0h3m-2 0h3m3 0h3m1 0h3m8 0h3m2 0h3m2 0h3m5 0h3m4 0h3m-2 0h3m-62 1h3m9 0h3m3 0h3m7 0h3m0 0h3m14 0h3m5 0h3m8 0h3m2 0h3m-94 1h3m27 0h3m6 0h3m10 0h3m0 0h3m-1 0h3m1 0h3m1 0h3m-2 0h3m9 0h3m7 0h3m-63 1h3m-1 0h3m1 0h3m1 0h3m1 0h3m-3 0h3m0 0h3m7 0h3m0 0h3m3 0h3m-3 0h3m25 0h3m4 0h3m-108 1h3m-2 0h3m15 0h3m11 0h3m-2 0h3m2 0h3m48 0h3m-74 1h3m7 0h3m15 0h3m7 0h3m7 0h3m2 0h3m-3 0h3m31 0h3m-112 1h3m8 0h3m26 0h3m0 0h3m1 0h3m4 0h3m14 0h3m-1 0h3m-2 0h3m7 0h3m15 0h3m-84 1h3m-2 0h3m15 0h3m27 0h3m6 0h3m5 0h3m-64 1h3m-2 0h3m5 0h3m0 0h3m3 0h3m4 0h3m5 0h3m2 0h3m1 0h3m-2 0h3m11 0h3m0 0h3m-89 1h3m4 0h3m16 0h3m-2 0h3m7 0h3m12 0h3m4 0h3m22 0h3m27 0h3m-107 1h3m3 0h3m8 0h3m-1 0h3m19 0h3m1 0h3m1 0h3m-56 1h3m16 0h3m9 0h3m5 0h3m11 0h3m2 0h3m15 0h3m-3 0h3m6 0h3m8 0h3m-99 1h3m18 0h3m4 0h3m-1 0h3m2 0h3m0 0h3m1 0h3m0 0h3m1 0h3m-62 1h3m22 0h3m-2 0h3m2 0h3m6 0h3m1 0h3m1 0h3m-2 0h3m9 0h3m8 0h3m0 0h3m4 0h3m0 0h3m-2 0h3m-75 1h3m6 0h3m16 0h3m18 0h3m-1 0h3m0 0h3m6 0h3m12 0h3m6 0h3m-68 1h3m1 0h3m12 0h3m-3 0h3m15 0h3m1 0h3m5 0h3m-55 1h3m6 0h3m-1 0h3m8 0h3m9 0h3m1 0h3m21 0h3m2 0h3m10 0h3m-108 1h3m11 0h3m26 0h3m-2 0h3m0 0h3m16 0h3m-47 1h3m8 0h3m0 0h3m10 0h3m1 0h3m-2 0h3m2 0h3m0 0h3m6 0h3m6 0h3m7 0h3m5 0h3m1 0h3m-76 1h3m-3 0h3m-1 0h3m13 0h3m10 0h3m-68 1h3m4 0h3m25 0h3m0 0h3m2 0h3m7 0h3m11 0h3m3 0h3m22 0h3m-113 1h3m14 0h3m11 0h3m3 0h3m-2 0h3m0 0h3m1 0h3m19 0h3m0 0h3m23 0h3m-79 1h3m4 0h3m1 0h3m2 0h3m3 0h3m-3 0h3m-3 0h3m1 0h3m-3 0h3m0 0h3m8 0h3m25 0h3m1 0h3m17 0h3m-121 1h3m23 0h3m15 0h3m-1 0h3m-1 0h3m45 0h3m-67 1h3m8 0h3m2 0h3m11 0h3m23 0h3m-2 0h3m-99 1h3m17 0h3m38 0h3m18 0h3m-2 0h3m4 0h3m-1 0h3m24 0h3m-80 1h3m7 0h3m15 0h3m1 0h3m0 0h3m-3 0h3m-2 0h3m0 0h3m13 0h3m11 0h3m-74 1h3m1 0h3m10 0h3m12 0h3m7 0h3m-1 0h3m5 0h3m4 0h3m-90 1h3m-3 0h3m2 0h3m6 0h3m10 0h3m6 0h3m-2 0h3m-1 0h3m0 0h3m3 0h3m6 0h3m11 0h3m6 0h3m-1 0h3m19 0h3m-110 1h3m34 0h3m2 0h3m0 0h3m19 0h3m7 0h3m2 0h3m0 0h3m-87 1h3m28 0h3m40 0h3m-2 0h3m2 0h3m0 0h3m-2 0h3m-3 0h3m-90 1h3m45 0h3m12 0h3m0 0h3m7 0h3m2 0h3m3 0h3m-72 1h3m6 0h3m13 0h3m7 0h3m-2 0h3m-2 0h3m-2 0h3m8 0h3m2 0h3m0 0h3m78 0h3m-125 1h3m6 0h3m-1 0h3m-1 0h3m3 0h3m3 0h3m13 0h3m5 0h3m3 0h3m11 0h3m10 0h3m-110 1h3m7 0h3m8 0h3m31 0h3m0 0h3m0 0h3m37 0h3m-77 1h3m-2 0h3m31 0h3m18 0h3m-41 1h3m5 0h3m7 0h3m0 0h3m8 0h3m35 0h3m-100 1h3m23 0h3m8 0h3m4 0h3m-1 0h3m-50 1h3m0 0h3m-3 0h3m13 0h3m9 0h3m22 0h3m15 0h3m-1 0h3m0 0h3m-86 1h3m6 0h3m12 0h3m-1 0h3m7 0h3m2 0h3m0 0h3m7 0h3m8 0h3m19 0h3m-69 1h3m-3 0h3m3 0h3m0 0h3m4 0h3m1 0h3m-37 1h3m14 0h3m8 0h3m24 0h3m-3 0h3m3 0h3m24 0h3m-87 1h3m8 0h3m2 0h3m68 0h3m-100 1h3m23 0h3m-2 0h3m54 0h3m46 0h3m-160 1h3m-3 0h3m35 0h3m6 0h3m1 0h3m-2 0h3m9 0h3m11 0h3m32 0h3m-92 1h3m-1 0h3m0 0h3m6 0h3m5 0h3m-2 0h3m8 0h3m5 0h3m0 0h3m12 0h3m1 0h3m5 0h3m-95 1h3m8 0h3m30 0h3m34 0h3m-68 1h3m24 0h3m-2 0h3m18 0h3m-3 0h3m19 0h3m-44 1h3m-35 1h3m6 0h3m7 0h3m2 0h3m7 0h3m3 0h3m-2 0h3m0 0h3m5 0h3m18 0h3m-52 1h3m3 0h3m-2 0h3m25 0h3m5 0h3m-84 1h3m30 0h3m2 0h3m28 0h3m-51 1h3m20 0h3m-1 0h3m35 0h3m-54 1h3m8 0h3m-13 1h3m19 0h3m11 0h3m-24 1h3m-32 1h3m36 0h3m27 1h3m-49 1h3m4 0h3m11 1h3m-60 1h3m0 0h3m26 0h3m12 0h3m25 0h3m-58 1h3m10 0h3m13 0h3m-40 1h3m0 0h3m20 0h3m15 0h3m-56 1h3m35 0h3m-20 1h3m-3 0h3m10 0h3m4 0h3m-72 3h3m56 0h3m43 0h3m-74 1h3m10 0h3m31 0h3m-23 1h3m-25 1h3m24 0h3m10 0h3m21 2h3m11 0h3m-60 2h3m5 0h3m15 0h3m-18 1h3m-10 1h3m-39 1h3m68 0h3m-101 1h3m30 1h3m9 0h3m22 0h3m6 0h3m2 2h3m10 2h3m-75 1h3m1 1h3m31 7h3m-40 2h3m29 2h3m-11 2h3m-44 18h3" stroke-opacity="0.25"/></g>
<line x1="276.5" y1="278.0" x2="276.5" y2="398.8" stroke="#858585" stroke-width="1.2"/>
<line x1="276.0" y1="398.2" x2="396.5" y2="398.2" stroke="#6a6a6a" stroke-width="1.1"/>
<path d="M273.0 397.4H276.5M273.0 375.5H276.5M273.0 353.6H276.5M273.0 331.8H276.5M273.0 309.9H276.5M273.0 288.0H276.5M276.5 398.2V401.7M298.2 398.2V401.7M320.0 398.2V401.7M341.8 398.2V401.7M363.5 398.2V401.7M385.2 398.2V401.7" stroke="#222" stroke-width="1.3" fill="none"/>
<path d="M274.5 390.8H276.5M274.5 387.0H276.5M274.5 384.2H276.5M274.5 382.1H276.5M274.5 380.4H276.5M274.5 378.9H276.5M274.5 377.6H276.5M274.5 376.5H276.5M274.5 368.9H276.5M274.5 365.1H276.5M274.5 362.4H276.5M274.5 360.2H276.5M274.5 358.5H276.5M274.5 357.0H276.5M274.5 355.8H276.5M274.5 354.7H276.5M274.5 347.1H276.5M274.5 343.2H276.5M274.5 340.5H276.5M274.5 338.4H276.5M274.5 336.6H276.5M274.5 335.2H276.5M274.5 333.9H276.5M274.5 332.8H276.5M274.5 325.2H276.5M274.5 321.3H276.5M274.5 318.6H276.5M274.5 316.5H276.5M274.5 314.8H276.5M274.5 313.3H276.5M274.5 312.0H276.5M274.5 310.9H276.5M274.5 303.3H276.5M274.5 299.5H276.5M274.5 296.7H276.5M274.5 294.6H276.5M274.5 292.9H276.5M274.5 291.4H276.5M274.5 290.1H276.5M274.5 289.0H276.5M274.5 281.4H276.5M283.0 398.2V400.2M286.9 398.2V400.2M289.6 398.2V400.2M291.7 398.2V400.2M293.4 398.2V400.2M294.9 398.2V400.2M296.1 398.2V400.2M297.3 398.2V400.2M304.8 398.2V400.2M308.6 398.2V400.2M311.3 398.2V400.2M313.5 398.2V400.2M315.2 398.2V400.2M316.6 398.2V400.2M317.9 398.2V400.2M319.0 398.2V400.2M326.5 398.2V400.2M330.4 398.2V400.2M333.1 398.2V400.2M335.2 398.2V400.2M336.9 398.2V400.2M338.4 398.2V400.2M339.6 398.2V400.2M340.8 398.2V400.2M348.3 398.2V400.2M352.1 398.2V400.2M354.8 398.2V400.2M357.0 398.2V400.2M358.7 398.2V400.2M360.1 398.2V400.2M361.4 398.2V400.2M362.5 398.2V400.2M370.0 398.2V400.2M373.9 398.2V400.2M376.6 398.2V400.2M378.7 398.2V400.2M380.4 398.2V400.2M381.9 398.2V400.2M383.1 398.2V400.2M384.3 398.2V400.2M391.8 398.2V400.2M395.6 398.2V400.2" stroke="#3a3a3a" stroke-width="0.85" fill="none"/>
<text x="278.5" y="409.1" font-size="4.8" fill="#333" letter-spacing="-0.2">10<tspan font-size="4.2" dy="-2.9" fill="#222">0</tspan></text>
<text x="300.2" y="409.1" font-size="4.8" fill="#333" letter-spacing="-0.2">10<tspan font-size="4.2" dy="-2.9" fill="#222">1</tspan></text>
<text x="322.0" y="409.1" font-size="4.8" fill="#333" letter-spacing="-0.2">10<tspan font-size="4.2" dy="-2.9" fill="#222">2</tspan></text>
<text x="343.8" y="409.1" font-size="4.8" fill="#333" letter-spacing="-0.2">10<tspan font-size="4.2" dy="-2.9" fill="#222">3</tspan></text>
<text x="365.5" y="409.1" font-size="4.8" fill="#333" letter-spacing="-0.2">10<tspan font-size="4.2" dy="-2.9" fill="#222">4</tspan></text>
<text x="387.2" y="409.1" font-size="4.8" fill="#333" letter-spacing="-0.2">10<tspan font-size="4.2" dy="-2.9" fill="#222">5</tspan></text>
<text x="334.5" y="420.7" font-size="5.1" fill="#222" text-anchor="middle">Comp-APC-A</text>
<text x="332.5" y="376.1" font-size="5.1" fill="#111" text-anchor="middle">Comp-APC-A, Comp-PE-A subset</text>
<text x="332.5" y="384.1" font-size="5.1" fill="#111" text-anchor="middle">67.8</text>
<rect x="342.9" y="288.6" width="51.5" height="44.2" fill="none" stroke="#000" stroke-width="2"/>
<text x="434.6" y="254.4" font-size="10.2" font-weight="bold" stroke="#000" stroke-width="0.25" textLength="69.3" lengthAdjust="spacingAndGlyphs">BoLA-1*023:01-</text>
<text x="457.4" y="267.0" font-size="10.2" font-weight="bold" stroke="#000" stroke-width="0.25" textLength="15" lengthAdjust="spacingAndGlyphs">Tp9</text>
<text x="472.6" y="269.3" font-size="6.8" font-weight="bold" stroke="#000" stroke-width="0.15">A5</text>
<rect x="400.1" y="278.5" width="119.29999999999995" height="119.69999999999999" fill="#fff" stroke="#8a8a8a" stroke-width="1.1"/>
<g transform="translate(400.1,278.6) scale(0.1)" stroke="#5216aa" stroke-width="7.0" stroke-linecap="round" fill="none"><path d="M962 492h3m87 30h3m-31 9h3m14 6h3m-56 19h3m52 9h3m-53 5h3m-145 39h3m253 1h3m-65 13h3m-66 2h3m-125 6h3m244 4h3m-392 18h3m205 16h3m60 13h3m-26 13h3m91 6h3m-24 3h3m-38 1h3m-31 3h3m59 2h3m7 2h3m-40 1h3m-178 15h3m89 13h3m57 6h3m134 20h3m-171 7h3m116 0h3m-68 1h3m-45 5h3m-130 6h3m195 14h3m-71 15h3m153 17h3m-136 28h3m29 2h3m-155 3h3m108 19h3m-45 6h3m42 1h3m9 14h3m132 26h3m-40 41h3m-102 16h3m-118 3h3m96 1h3m-67 7h3m61 14h3" stroke-opacity="0.14"/><path d="M985 424h3m-20 1h3m100 8h3m-83 35h3m80 2h3m-73 13h3m17 1h3m87 1h3m-63 2h3m-26 12h3m-18 1h3m41 7h3m-32 2h3m-34 2h3m58 5h3m-13 1h3m71 1h3m-84 5h3m-98 3h3m59 3h3m-99 1h3m5 0h3m176 0h3m-52 1h3m-46 3h3m62 0h3m38 1h3m-177 6h3m88 1h3m7 1h3m23 2h3m31 2h3m-249 1h3m93 0h3m130 3h3m-138 1h3m-26 1h3m40 2h3m19 1h3m97 0h3m-57 1h3m-94 2h3m29 0h3m40 0h3m55 3h3m-130 1h3m62 0h3m-26 3h3m106 1h3m-140 2h3m15 0h3m137 0h3m-125 1h3m76 0h3m-54 1h3m9 0h3m-115 1h3m121 0h3m-160 5h3m18 0h3m95 0h3m7 0h3m80 1h3m-138 1h3m-81 1h3m30 1h3m15 1h3m42 0h3m-2 1h3m5 0h3m-75 1h3m62 0h3m108 0h3m16 0h3m-209 1h3m106 1h3m-92 2h3m1 0h3m53 1h3m48 2h3m-26 1h3m-64 1h3m-23 1h3m46 2h3m0 0h3m1 0h3m16 0h3m-63 1h3m-28 1h3m57 2h3m21 1h3m16 0h3m-56 1h3m58 0h3m48 0h3m-86 1h3m99 0h3m-148 1h3m8 0h3m77 0h3m35 0h3m-125 2h3m41 0h3m37 1h3m-110 1h3m54 0h3m59 0h3m-113 1h3m87 0h3m3 0h3m-160 2h3m43 1h3m69 0h3m-83 1h3m73 0h3m-105 1h3m51 0h3m39 0h3m-69 1h3m17 0h3m11 0h3m3 0h3m4 0h3m52 0h3m23 0h3m-110 1h3m57 0h3m34 0h3m8 0h3m-170 1h3m173 0h3m-165 1h3m67 0h3m30 0h3m30 0h3m-69 1h3m61 0h3m12 0h3m-129 2h3m40 0h3m45 0h3m-104 1h3m67 0h3m115 0h3m-108 1h3m-110 1h3m134 0h3m-65 1h3m23 0h3m5 0h3m2 0h3m16 0h3m27 0h3m-66 1h3m8 0h3m25 0h3m8 0h3m-30 1h3m-2 2h3m-142 1h3m121 0h3m43 0h3m13 0h3m-118 2h3m-4 1h3m47 1h3m31 0h3m-19 1h3m-59 1h3m50 0h3m-10 1h3m74 0h3m-110 1h3m1 0h3m35 0h3m-78 1h3m1 0h3m-40 1h3m19 1h3m83 0h3m2 0h3m65 0h3m-154 1h3m65 0h3m51 0h3m22 0h3m-169 1h3m20 1h3m12 0h3m81 0h3m-146 1h3m45 0h3m0 0h3m67 0h3m38 0h3m-142 1h3m12 0h3m103 1h3m18 0h3m-143 1h3m7 0h3m87 0h3m-20 2h3m48 0h3m-113 1h3m2 0h3m101 0h3m29 0h3m-155 1h3m-3 0h3m22 0h3m41 0h3m19 0h3m24 0h3m-111 1h3m61 0h3m11 0h3m-3 0h3m22 0h3m-124 1h3m33 0h3m1 0h3m8 0h3m64 0h3m-107 1h3m38 0h3m2 0h3m25 0h3m-45 1h3m61 0h3m-168 1h3m71 0h3m31 0h3m16 0h3m50 0h3m3 0h3m11 0h3m-135 1h3m11 0h3m33 0h3m34 0h3m35 1h3m-163 1h3m45 0h3m3 0h3m24 0h3m46 0h3m8 0h3m-1 0h3m11 0h3m15 0h3m-111 2h3m20 0h3m22 0h3m12 0h3m-35 1h3m-2 0h3m14 0h3m18 0h3m-147 1h3m36 0h3m7 0h3m36 0h3m13 0h3m2 0h3m-90 1h3m64 0h3m9 0h3m1 0h3m39 0h3m68 0h3m-77 1h3m-177 1h3m69 0h3m20 0h3m11 0h3m17 0h3m40 0h3m-79 1h3m6 0h3m28 0h3m11 0h3m7 0h3m-92 1h3m43 0h3m4 0h3m3 0h3m77 1h3m-99 1h3m36 0h3m-62 1h3m-3 0h3m3 0h3m21 0h3m28 0h3m27 0h3m5 0h3m-168 1h3m45 0h3m9 0h3m7 0h3m27 0h3m-36 1h3m-54 1h3m1 0h3m94 0h3m-136 1h3m56 0h3m29 0h3m10 0h3m58 0h3m-125 1h3m-1 0h3m36 0h3m38 0h3m-93 1h3m7 0h3m13 0h3m53 0h3m5 0h3m59 0h3m-178 1h3m56 0h3m19 0h3m106 0h3m9 0h3m-107 1h3m41 0h3m74 0h3m-179 1h3m-2 0h3m2 0h3m76 0h3m7 0h3m-122 1h3m23 0h3m5 0h3m6 0h3m11 0h3m3 0h3m46 0h3m-69 1h3m-2 0h3m14 0h3m37 0h3m5 0h3m7 0h3m-57 1h3m0 0h3m47 0h3m6 0h3m-44 1h3m19 0h3m48 0h3m44 0h3m-181 1h3m8 0h3m106 0h3m82 0h3m-197 1h3m109 0h3m-163 1h3m66 0h3m0 0h3m46 0h3m13 0h3m-93 1h3m10 0h3m4 0h3m10 0h3m93 0h3m-174 1h3m37 0h3m80 0h3m-67 1h3m7 0h3m51 0h3m-168 1h3m94 0h3m4 0h3m14 0h3m-1 0h3m16 0h3m95 0h3m-169 1h3m36 0h3m-65 1h3m45 0h3m39 0h3m-1 0h3m42 0h3m-76 1h3m38 0h3m33 0h3m31 0h3m-125 1h3m26 0h3m18 0h3m15 0h3m-65 1h3m-22 1h3m11 0h3m54 0h3m-201 1h3m89 0h3m17 0h3m18 0h3m27 0h3m29 0h3m9 0h3m-98 1h3m48 0h3m2 0h3m5 0h3m27 0h3m8 0h3m-124 1h3m87 0h3m-111 1h3m72 0h3m17 0h3m27 0h3m16 0h3m110 0h3m-271 1h3m99 0h3m38 0h3m-146 1h3m78 0h3m41 0h3m-44 1h3m-90 1h3m15 0h3m17 0h3m1 0h3m114 0h3m71 0h3m-236 1h3m28 0h3m2 0h3m69 0h3m22 0h3m7 0h3m7 0h3m-144 1h3m12 0h3m95 0h3m50 0h3m-111 1h3m-2 0h3m-67 1h3m4 0h3m47 0h3m152 0h3m-220 1h3m189 0h3m-159 1h3m32 0h3m26 0h3m10 0h3m-1 0h3m-97 1h3m32 0h3m7 0h3m42 0h3m45 0h3m0 0h3m12 0h3m-153 1h3m36 0h3m38 0h3m16 0h3m36 0h3m-62 1h3m25 0h3m-131 1h3m54 0h3m47 0h3m-106 1h3m29 0h3m32 0h3m41 0h3m50 0h3m-126 1h3m39 0h3m69 0h3m-123 1h3m3 0h3m39 0h3m36 0h3m-55 1h3m46 0h3m7 0h3m-58 1h3m36 0h3m-78 1h3m66 0h3m17 0h3m-179 1h3m61 0h3m76 0h3m-16 1h3m-65 1h3m27 0h3m20 0h3m5 0h3m82 0h3m-116 1h3m30 0h3m-3 0h3m4 0h3m12 0h3m-13 1h3m10 0h3m5 0h3m46 0h3m-92 1h3m14 0h3m-2 0h3m40 0h3m-78 1h3m24 0h3m46 0h3m-19 2h3m39 0h3m-210 1h3m80 0h3m42 0h3m38 0h3m42 0h3m-127 1h3m19 0h3m-56 1h3m59 0h3m28 0h3m1 0h3m-46 1h3m9 0h3m-14 1h3m86 0h3m-114 1h3m63 0h3m-2 0h3m23 0h3m-49 1h3m50 0h3m-104 1h3m7 0h3m60 0h3m-73 1h3m14 0h3m10 0h3m11 0h3m81 0h3m-151 1h3m19 0h3m7 0h3m15 0h3m25 0h3m-104 1h3m16 0h3m5 0h3m90 0h3m-102 2h3m59 0h3m26 0h3m7 0h3m-90 1h3m0 0h3m-2 0h3m89 0h3m11 0h3m-181 1h3m26 0h3m83 0h3m3 0h3m68 0h3m5 0h3m-133 1h3m13 0h3m62 0h3m-3 0h3m34 0h3m0 0h3m-146 1h3m14 0h3m74 0h3m2 0h3m8 0h3m-44 1h3m41 0h3m-80 1h3m13 0h3m2 0h3m5 0h3m13 0h3m47 0h3m2 0h3m-154 1h3m61 0h3m57 0h3m-96 1h3m23 0h3m52 0h3m-83 1h3m19 0h3m21 0h3m62 0h3m-128 1h3m-92 1h3m23 0h3m125 0h3m23 0h3m-82 1h3m-1 0h3m14 0h3m66 0h3m2 0h3m-141 1h3m40 0h3m1 0h3m7 0h3m0 0h3m16 0h3m9 0h3m25 0h3m-37 1h3m-68 1h3m54 1h3m12 0h3m21 0h3m-47 1h3m15 0h3m93 0h3m-161 1h3m36 0h3m68 0h3m-111 1h3m15 0h3m22 0h3m19 1h3m-75 1h3m94 0h3m29 0h3m15 0h3m-86 1h3m-150 1h3m190 0h3m32 0h3m-93 1h3m21 0h3m9 0h3m27 0h3m-156 1h3m108 0h3m-52 1h3m44 0h3m132 0h3m-194 1h3m6 0h3m8 1h3m0 0h3m17 0h3m0 0h3m41 0h3m-37 1h3m-18 1h3m66 0h3m-101 1h3m33 0h3m22 0h3m19 0h3m-92 2h3m7 1h3m40 0h3m57 0h3m-46 1h3m24 0h3m-101 1h3m34 0h3m51 0h3m49 0h3m-188 1h3m93 0h3m-109 1h3m175 0h3m-201 1h3m158 0h3m4 0h3m21 0h3m4 0h3m-29 1h3m18 0h3m-221 1h3m101 0h3m68 0h3m3 0h3m-82 1h3m10 0h3m22 0h3m20 0h3m17 1h3m-47 1h3m-102 1h3m57 0h3m32 0h3m8 0h3m32 1h3m-131 1h3m11 0h3m47 0h3m20 1h3m72 0h3m-174 1h3m178 0h3m26 0h3m-166 1h3m61 0h3m24 0h3m-94 1h3m106 0h3m-88 1h3m3 0h3m30 0h3m31 0h3m-82 1h3m25 0h3m-42 1h3m35 0h3m162 0h3m-135 1h3m63 0h3m-112 1h3m41 0h3m-53 1h3m34 0h3m57 1h3m-174 1h3m122 0h3m34 0h3m-131 1h3m22 1h3m34 0h3m34 0h3m2 0h3m19 0h3m-123 2h3m50 0h3m-78 1h3m78 0h3m22 0h3m-28 1h3m40 3h3m6 0h3m43 0h3m-150 1h3m82 0h3m-94 1h3m41 0h3m-12 1h3m34 0h3m0 0h3m51 0h3m-145 1h3m69 0h3m-15 1h3m8 0h3m20 0h3m-109 1h3m55 0h3m6 0h3m-2 0h3m4 0h3m56 0h3m-1 0h3m-129 1h3m56 1h3m-64 1h3m23 0h3m55 0h3m10 0h3m1 1h3m-57 1h3m121 0h3m-168 1h3m40 0h3m59 0h3m-104 1h3m17 0h3m26 1h3m46 0h3m-132 1h3m72 0h3m111 0h3m-214 1h3m100 0h3m-63 1h3m70 0h3m14 0h3m-49 1h3m33 0h3m-23 1h3m-14 1h3m-1 1h3m40 0h3m-44 1h3m-150 1h3m175 0h3m52 2h3m-164 1h3m94 0h3m-14 2h3m0 0h3m55 0h3m2 0h3m-64 2h3m4 1h3m29 0h3m-190 1h3m124 1h3m-56 1h3m45 0h3m72 0h3m-2 0h3m13 0h3m-197 2h3m65 1h3m104 0h3m7 0h3m17 0h3m-132 1h3m126 0h3m-136 2h3m22 2h3m-24 2h3m-20 1h3m72 1h3m44 0h3m-110 2h3m4 0h3m6 0h3m-14 2h3m51 0h3m-55 1h3m36 0h3m-10 4h3m52 0h3m-87 1h3m32 0h3m20 1h3m-76 3h3m101 0h3m-170 2h3m191 1h3m-94 1h3m-8 1h3m3 2h3m-40 3h3m11 1h3m-25 1h3m31 0h3m42 1h3m-34 1h3m-4 6h3m95 0h3m-96 8h3m62 1h3m15 0h3m-139 8h3m75 7h3m-49 4h3m70 12h3m-154 1h3m144 1h3m-51 2h3m71 13h3m-98 2h3m-42 4h3m91 2h3m-7 5h3" stroke-opacity="0.15"/><path d="M982 448h3m78 31h3m-15 1h3m6 2h3m-29 5h3m-44 14h3m18 7h3m43 3h3m-26 1h3m-1 3h3m-19 4h3m22 4h3m-15 1h3m79 2h3m-19 3h3m-43 1h3m-45 1h3m47 0h3m43 3h3m-65 2h3m-12 1h3m49 0h3m-50 1h3m77 0h3m-128 1h3m29 1h3m24 0h3m-67 2h3m23 0h3m8 0h3m84 0h3m-126 1h3m84 0h3m-95 1h3m53 0h3m-35 1h3m27 0h3m-62 1h3m6 0h3m53 2h3m-10 2h3m12 1h3m18 0h3m-115 1h3m95 0h3m-36 1h3m-17 1h3m-13 1h3m79 0h3m-99 1h3m65 0h3m19 0h3m-25 1h3m57 1h3m-121 1h3m10 0h3m18 0h3m18 0h3m-111 1h3m92 0h3m-10 1h3m20 0h3m8 1h3m-60 1h3m-86 1h3m144 0h3m35 0h3m-109 1h3m36 2h3m-85 1h3m32 1h3m11 0h3m2 0h3m9 0h3m1 0h3m0 0h3m-73 1h3m7 0h3m34 0h3m-29 2h3m-3 0h3m-64 1h3m111 0h3m-1 0h3m13 0h3m-117 1h3m161 0h3m-104 1h3m6 0h3m-3 0h3m68 0h3m35 0h3m-89 1h3m13 0h3m-2 0h3m10 0h3m61 0h3m-202 1h3m120 0h3m88 0h3m-125 1h3m60 0h3m-114 1h3m22 0h3m86 0h3m-66 1h3m-30 1h3m14 0h3m8 0h3m13 0h3m26 0h3m5 0h3m-113 1h3m39 0h3m37 0h3m9 1h3m-99 1h3m7 0h3m56 0h3m1 0h3m-91 1h3m62 0h3m21 0h3m0 0h3m-83 1h3m-2 0h3m30 0h3m23 0h3m32 0h3m-90 1h3m29 0h3m1 0h3m10 0h3m5 0h3m-2 0h3m10 0h3m43 0h3m-150 1h3m92 0h3m65 0h3m-136 2h3m35 0h3m-5 1h3m2 0h3m1 0h3m2 2h3m10 0h3m1 0h3m7 0h3m2 0h3m-87 1h3m29 0h3m2 0h3m-34 1h3m18 0h3m0 0h3m26 0h3m6 0h3m34 0h3m-98 1h3m10 0h3m28 0h3m25 0h3m21 0h3m-122 1h3m33 0h3m41 0h3m-24 1h3m-3 0h3m-1 0h3m20 0h3m18 0h3m-61 1h3m1 0h3m4 0h3m7 0h3m2 0h3m25 0h3m-55 1h3m5 0h3m13 0h3m31 0h3m-74 1h3m5 0h3m14 0h3m3 0h3m19 0h3m-131 1h3m49 0h3m48 0h3m17 0h3m-76 1h3m2 0h3m8 0h3m25 0h3m20 0h3m21 0h3m0 0h3m-63 1h3m24 0h3m56 0h3m-170 1h3m34 0h3m-11 1h3m50 0h3m7 0h3m6 0h3m4 0h3m8 0h3m-82 1h3m30 0h3m3 0h3m2 0h3m15 0h3m28 0h3m-96 1h3m37 0h3m12 0h3m30 0h3m-64 1h3m10 0h3m4 0h3m16 0h3m-3 0h3m62 0h3m-142 1h3m29 0h3m17 0h3m4 0h3m0 0h3m2 0h3m19 0h3m35 0h3m-102 1h3m15 0h3m2 0h3m46 0h3m-1 0h3m7 0h3m24 0h3m-86 1h3m3 0h3m-1 0h3m0 0h3m7 0h3m20 0h3m19 0h3m10 0h3m-112 1h3m-1 0h3m25 0h3m30 0h3m8 0h3m6 0h3m-90 1h3m28 0h3m21 0h3m54 0h3m8 0h3m-184 1h3m37 0h3m59 0h3m1 0h3m4 0h3m38 0h3m-106 1h3m7 0h3m1 0h3m20 0h3m9 0h3m18 0h3m-41 1h3m-2 0h3m30 0h3m3 0h3m-91 1h3m1 0h3m4 0h3m10 0h3m8 0h3m56 0h3m-35 1h3m-3 0h3m18 0h3m1 0h3m17 0h3m63 0h3m-177 1h3m13 0h3m2 0h3m8 0h3m0 0h3m51 0h3m18 0h3m-135 1h3m12 0h3m46 0h3m14 0h3m4 0h3m9 0h3m30 0h3m-3 0h3m3 0h3m-138 1h3m42 0h3m25 0h3m2 0h3m2 0h3m31 0h3m2 0h3m5 0h3m20 0h3m-149 1h3m0 0h3m26 0h3m-2 0h3m26 0h3m9 0h3m14 0h3m8 0h3m10 0h3m-101 1h3m27 0h3m8 0h3m0 0h3m7 0h3m-3 0h3m6 0h3m8 0h3m13 0h3m21 0h3m0 0h3m46 0h3m-147 1h3m5 0h3m3 0h3m5 0h3m57 0h3m4 0h3m2 0h3m-85 1h3m42 0h3m3 0h3m15 0h3m-114 1h3m35 0h3m12 0h3m44 0h3m2 0h3m-119 1h3m49 0h3m31 0h3m42 0h3m9 0h3m-138 1h3m18 0h3m4 0h3m29 0h3m-2 0h3m20 0h3m-3 0h3m0 0h3m0 0h3m5 0h3m5 0h3m65 0h3m-168 1h3m28 0h3m-1 0h3m5 0h3m44 0h3m-107 1h3m4 0h3m32 0h3m19 0h3m31 0h3m8 0h3m-117 1h3m63 0h3m4 0h3m17 0h3m-83 1h3m42 0h3m3 0h3m8 0h3m-3 0h3m26 0h3m5 0h3m9 0h3m1 0h3m12 0h3m13 0h3m17 0h3m-160 1h3m46 0h3m10 0h3m23 0h3m4 0h3m52 0h3m-112 1h3m12 0h3m-3 0h3m17 0h3m4 0h3m-29 1h3m7 0h3m39 0h3m0 0h3m10 0h3m4 0h3m-1 0h3m-135 1h3m22 0h3m-1 0h3m2 0h3m2 0h3m7 0h3m0 0h3m34 0h3m40 0h3m-117 1h3m-1 0h3m-2 0h3m-2 0h3m25 0h3m12 0h3m1 0h3m6 0h3m4 0h3m6 0h3m12 0h3m-116 1h3m23 0h3m7 0h3m45 0h3m8 0h3m12 0h3m-73 1h3m12 0h3m7 0h3m5 0h3m19 0h3m21 0h3m-116 1h3m0 0h3m18 0h3m8 0h3m4 0h3m12 0h3m6 0h3m0 0h3m10 0h3m0 0h3m-129 1h3m49 0h3m-2 0h3m0 0h3m13 0h3m-2 0h3m19 0h3m2 0h3m17 0h3m-133 1h3m70 0h3m9 0h3m16 0h3m20 0h3m4 0h3m1 0h3m-42 1h3m3 0h3m-1 0h3m13 0h3m34 0h3m6 0h3m-144 1h3m66 0h3m16 0h3m24 0h3m12 0h3m-132 1h3m56 0h3m4 0h3m27 0h3m29 0h3m1 0h3m-84 1h3m4 0h3m4 0h3m16 0h3m8 0h3m0 0h3m5 0h3m-90 1h3m4 0h3m11 0h3m7 0h3m-1 0h3m0 0h3m2 0h3m-1 0h3m4 0h3m4 0h3m-2 0h3m2 0h3m-60 1h3m15 0h3m5 0h3m1 0h3m-1 0h3m21 0h3m-1 0h3m12 0h3m11 0h3m62 0h3m-165 1h3m69 0h3m2 0h3m1 0h3m0 0h3m5 0h3m3 0h3m28 0h3m-144 1h3m29 0h3m19 0h3m0 0h3m11 0h3m6 0h3m-3 0h3m-1 0h3m73 0h3m-125 1h3m32 0h3m20 0h3m-2 0h3m19 0h3m4 0h3m15 0h3m-118 1h3m30 0h3m-2 0h3m10 0h3m10 0h3m-61 1h3m-2 0h3m2 0h3m1 0h3m19 0h3m-3 0h3m43 0h3m30 0h3m-98 1h3m9 0h3m0 0h3m28 0h3m5 0h3m2 0h3m4 0h3m36 0h3m64 0h3m-196 1h3m10 0h3m6 0h3m7 0h3m7 0h3m-2 0h3m10 0h3m-43 1h3m14 0h3m22 0h3m23 0h3m-1 0h3m2 0h3m13 0h3m0 0h3m-125 1h3m0 0h3m16 0h3m5 0h3m63 0h3m24 0h3m43 0h3m-180 1h3m4 0h3m40 0h3m-1 0h3m17 0h3m4 0h3m5 0h3m7 0h3m19 0h3m-75 1h3m17 0h3m2 0h3m3 0h3m4 0h3m81 0h3m-195 1h3m138 0h3m-89 1h3m8 0h3m54 0h3m12 0h3m67 0h3m-216 1h3m11 0h3m29 0h3m18 0h3m1 0h3m2 0h3m12 0h3m7 0h3m5 0h3m25 0h3m98 0h3m-210 1h3m22 0h3m15 0h3m1 0h3m1 0h3m30 0h3m0 0h3m-67 1h3m25 0h3m-1 0h3m19 0h3m1 0h3m39 0h3m-120 1h3m142 0h3m-151 1h3m6 0h3m24 0h3m-1 0h3m1 0h3m42 0h3m14 0h3m1 0h3m-132 1h3m16 0h3m26 0h3m24 0h3m0 0h3m10 0h3m5 0h3m57 0h3m-171 1h3m116 0h3m44 0h3m-113 1h3m25 0h3m-2 0h3m19 0h3m0 0h3m27 0h3m26 0h3m-102 1h3m7 0h3m-1 0h3m7 0h3m-3 0h3m5 0h3m24 0h3m3 0h3m-102 1h3m29 0h3m17 0h3m11 0h3m3 0h3m-3 0h3m13 0h3m12 0h3m42 0h3m-181 1h3m119 0h3m2 0h3m-93 1h3m16 0h3m19 0h3m2 0h3m3 0h3m17 0h3m13 0h3m-100 1h3m24 0h3m4 0h3m52 0h3m-86 1h3m5 0h3m18 1h3m32 0h3m-2 0h3m0 0h3m58 0h3m5 0h3m-132 1h3m4 0h3m34 0h3m-52 1h3m10 0h3m39 0h3m13 0h3m42 0h3m-129 1h3m20 0h3m31 0h3m15 0h3m23 0h3m4 0h3m-124 1h3m18 0h3m7 0h3m30 0h3m0 0h3m26 0h3m27 0h3m-108 1h3m8 0h3m54 0h3m11 0h3m1 0h3m18 0h3m45 0h3m-179 1h3m15 0h3m4 0h3m51 0h3m4 0h3m2 0h3m14 0h3m2 0h3m6 0h3m10 0h3m35 0h3m3 0h3m-142 1h3m5 0h3m16 0h3m25 0h3m6 0h3m-2 0h3m45 0h3m-134 1h3m-1 0h3m3 0h3m38 0h3m1 0h3m1 0h3m8 0h3m-33 1h3m2 0h3m-3 0h3m27 0h3m23 0h3m-119 1h3m32 0h3m20 0h3m55 0h3m-140 1h3m43 0h3m3 0h3m83 0h3m2 0h3m-92 1h3m80 0h3m31 0h3m-129 1h3m37 0h3m15 0h3m5 0h3m12 0h3m-109 1h3m48 0h3m1 0h3m-1 0h3m41 0h3m-1 0h3m-2 0h3m-84 1h3m3 0h3m22 0h3m17 0h3m-3 0h3m1 0h3m53 0h3m-136 1h3m9 0h3m38 0h3m8 0h3m23 0h3m5 0h3m7 0h3m55 0h3m4 0h3m-162 1h3m11 0h3m3 0h3m35 0h3m-1 0h3m15 0h3m-29 1h3m3 0h3m-69 1h3m-2 0h3m22 0h3m0 0h3m23 0h3m-55 1h3m26 0h3m-3 0h3m3 0h3m12 0h3m-1 0h3m-1 0h3m15 0h3m-3 0h3m20 0h3m-107 1h3m24 0h3m19 0h3m14 0h3m-1 0h3m3 0h3m16 0h3m16 0h3m-1 0h3m1 0h3m-88 1h3m3 0h3m9 0h3m4 0h3m1 0h3m14 0h3m15 0h3m17 0h3m3 0h3m-60 1h3m4 0h3m4 0h3m15 0h3m-81 1h3m1 0h3m28 0h3m8 0h3m-1 0h3m21 0h3m10 0h3m-3 0h3m-102 1h3m-1 0h3m61 0h3m-24 1h3m9 0h3m19 0h3m23 0h3m-27 1h3m18 0h3m-1 0h3m0 0h3m-104 1h3m31 0h3m9 0h3m14 0h3m6 0h3m-101 1h3m10 0h3m0 0h3m45 0h3m29 0h3m4 0h3m-145 1h3m50 0h3m20 0h3m21 0h3m-2 0h3m40 0h3m14 0h3m-80 1h3m36 0h3m16 0h3m64 0h3m-145 1h3m6 0h3m-1 0h3m43 0h3m25 0h3m37 0h3m-165 1h3m6 0h3m107 0h3m-84 1h3m7 0h3m7 0h3m37 0h3m49 0h3m-1 0h3m-158 1h3m32 0h3m65 0h3m-109 1h3m28 0h3m73 0h3m113 0h3m-194 1h3m35 0h3m11 0h3m23 0h3m0 0h3m27 0h3m-94 1h3m12 0h3m80 0h3m-103 1h3m-1 0h3m11 0h3m18 0h3m6 0h3m14 0h3m-119 1h3m57 0h3m26 0h3m2 0h3m6 0h3m48 0h3m12 0h3m-89 1h3m13 0h3m47 0h3m-74 1h3m23 0h3m2 0h3m16 0h3m-108 1h3m13 0h3m69 0h3m17 0h3m71 0h3m-152 1h3m22 0h3m17 0h3m-71 1h3m56 0h3m9 0h3m7 0h3m-79 1h3m41 0h3m43 0h3m-34 1h3m14 0h3m26 0h3m0 0h3m-9 1h3m-85 1h3m7 0h3m20 0h3m5 0h3m13 0h3m33 0h3m-163 1h3m38 0h3m45 0h3m5 0h3m25 0h3m8 0h3m-75 1h3m10 0h3m32 0h3m2 0h3m-80 1h3m16 1h3m5 0h3m-2 0h3m59 0h3m16 0h3m-3 0h3m-157 1h3m96 0h3m16 0h3m1 0h3m32 0h3m9 0h3m-82 1h3m-2 0h3m13 0h3m3 0h3m3 0h3m26 0h3m-1 0h3m-138 1h3m83 0h3m-147 1h3m112 0h3m28 0h3m59 0h3m-120 1h3m38 1h3m-2 1h3m22 0h3m61 0h3m-220 1h3m88 0h3m6 0h3m10 0h3m3 0h3m12 0h3m12 0h3m-21 1h3m5 0h3m10 0h3m-1 0h3m3 0h3m-79 1h3m45 1h3m48 0h3m-81 1h3m18 0h3m37 0h3m10 0h3m23 0h3m-160 1h3m84 0h3m67 0h3m-125 1h3m18 0h3m22 0h3m-1 0h3m38 0h3m19 0h3m-82 1h3m26 1h3m1 0h3m38 0h3m-104 1h3m92 0h3m-147 2h3m124 0h3m-49 1h3m-60 1h3m17 0h3m33 0h3m33 0h3m-25 1h3m17 0h3m-27 1h3m-22 1h3m6 0h3m21 1h3m-18 1h3m23 0h3m23 0h3m-81 1h3m47 0h3m11 0h3m-30 1h3m4 0h3m30 0h3m9 0h3m-97 1h3m41 1h3m81 0h3m-161 2h3m14 0h3m23 0h3m-24 1h3m78 1h3m43 0h3m-138 1h3m42 0h3m-1 1h3m22 2h3m4 0h3m-28 1h3m67 0h3m-134 1h3m123 0h3m6 0h3m-36 3h3m-45 2h3m8 0h3m-87 1h3m30 0h3m-29 6h3m95 1h3m-40 2h3m-4 1h3m9 1h3m70 3h3m-116 2h3m56 0h3m-75 5h3m-46 1h3m102 1h3m-48 1h3m63 0h3m-62 1h3m15 15h3m30 5h3m-86 5h3m148 18h3" stroke-opacity="0.2"/><path d="M985 1178h3m6 1h3m-94 1h3m74 0h3m20 0h3m0 0h3m-2 0h3m22 0h3m54 0h3m-152 1h3m9 0h3m8 0h3m23 0h3m17 0h3m7 0h3m0 0h3m15 0h3m32 0h3m16 0h3m-256 1h3m61 0h3m3 0h3m16 0h3m18 0h3m11 0h3m0 0h3m-1 0h3m5 0h3m11 0h3m18 0h3m3 0h3m3 0h3m7 0h3m7 0h3m47 0h3m12 0h3m-186 1h3m19 0h3m0 0h3m28 0h3m11 0h3m6 0h3m9 0h3m4 0h3m17 0h3m12 0h3m57 0h3m-166 1h3m17 0h3m37 0h3m5 0h3m-3 0h3m23 0h3m24 0h3m11 0h3m-256 1h3m106 0h3m42 0h3" stroke-opacity="0.22"/><path d="M1005 101h3m36 106h3m62 15h3m-58 17h3m-98 179h3m-184 55h3" stroke-opacity="0.3"/></g>
<line x1="400.1" y1="278.0" x2="400.1" y2="398.8" stroke="#858585" stroke-width="1.2"/>
<line x1="399.6" y1="398.2" x2="519.4" y2="398.2" stroke="#6a6a6a" stroke-width="1.1"/>
<path d="M396.6 397.4H400.1M396.6 375.5H400.1M396.6 353.6H400.1M396.6 331.8H400.1M396.6 309.9H400.1M396.6 288.0H400.1M400.1 398.2V401.7M421.9 398.2V401.7M443.6 398.2V401.7M465.4 398.2V401.7M487.1 398.2V401.7M508.9 398.2V401.7" stroke="#222" stroke-width="1.3" fill="none"/>
<path d="M398.1 390.8H400.1M398.1 387.0H400.1M398.1 384.2H400.1M398.1 382.1H400.1M398.1 380.4H400.1M398.1 378.9H400.1M398.1 377.6H400.1M398.1 376.5H400.1M398.1 368.9H400.1M398.1 365.1H400.1M398.1 362.4H400.1M398.1 360.2H400.1M398.1 358.5H400.1M398.1 357.0H400.1M398.1 355.8H400.1M398.1 354.7H400.1M398.1 347.1H400.1M398.1 343.2H400.1M398.1 340.5H400.1M398.1 338.4H400.1M398.1 336.6H400.1M398.1 335.2H400.1M398.1 333.9H400.1M398.1 332.8H400.1M398.1 325.2H400.1M398.1 321.3H400.1M398.1 318.6H400.1M398.1 316.5H400.1M398.1 314.8H400.1M398.1 313.3H400.1M398.1 312.0H400.1M398.1 310.9H400.1M398.1 303.3H400.1M398.1 299.5H400.1M398.1 296.7H400.1M398.1 294.6H400.1M398.1 292.9H400.1M398.1 291.4H400.1M398.1 290.1H400.1M398.1 289.0H400.1M398.1 281.4H400.1M406.6 398.2V400.2M410.5 398.2V400.2M413.2 398.2V400.2M415.3 398.2V400.2M417.0 398.2V400.2M418.5 398.2V400.2M419.7 398.2V400.2M420.9 398.2V400.2M428.4 398.2V400.2M432.2 398.2V400.2M434.9 398.2V400.2M437.1 398.2V400.2M438.8 398.2V400.2M440.2 398.2V400.2M441.5 398.2V400.2M442.6 398.2V400.2M450.1 398.2V400.2M454.0 398.2V400.2M456.7 398.2V400.2M458.8 398.2V400.2M460.5 398.2V400.2M462.0 398.2V400.2M463.2 398.2V400.2M464.4 398.2V400.2M471.9 398.2V400.2M475.7 398.2V400.2M478.4 398.2V400.2M480.6 398.2V400.2M482.3 398.2V400.2M483.7 398.2V400.2M485.0 398.2V400.2M486.1 398.2V400.2M493.6 398.2V400.2M497.5 398.2V400.2M500.2 398.2V400.2M502.3 398.2V400.2M504.0 398.2V400.2M505.5 398.2V400.2M506.7 398.2V400.2M507.9 398.2V400.2M515.4 398.2V400.2M519.2 398.2V400.2" stroke="#3a3a3a" stroke-width="0.85" fill="none"/>
<text x="402.1" y="409.1" font-size="4.8" fill="#333" letter-spacing="-0.2">10<tspan font-size="4.2" dy="-2.9" fill="#222">0</tspan></text>
<text x="423.9" y="409.1" font-size="4.8" fill="#333" letter-spacing="-0.2">10<tspan font-size="4.2" dy="-2.9" fill="#222">1</tspan></text>
<text x="445.6" y="409.1" font-size="4.8" fill="#333" letter-spacing="-0.2">10<tspan font-size="4.2" dy="-2.9" fill="#222">2</tspan></text>
<text x="467.4" y="409.1" font-size="4.8" fill="#333" letter-spacing="-0.2">10<tspan font-size="4.2" dy="-2.9" fill="#222">3</tspan></text>
<text x="489.1" y="409.1" font-size="4.8" fill="#333" letter-spacing="-0.2">10<tspan font-size="4.2" dy="-2.9" fill="#222">4</tspan></text>
<text x="510.9" y="409.1" font-size="4.8" fill="#333" letter-spacing="-0.2">10<tspan font-size="4.2" dy="-2.9" fill="#222">5</tspan></text>
<text x="458.1" y="420.7" font-size="5.1" fill="#222" text-anchor="middle">Comp-APC-A</text>
<text x="456.1" y="376.1" font-size="5.1" fill="#111" text-anchor="middle">Comp-APC-A, Comp-PE-A subset</text>
<text x="456.1" y="384.1" font-size="5.1" fill="#111" text-anchor="middle">2.30</text>
<rect x="466.5" y="288.6" width="51.5" height="44.2" fill="none" stroke="#000" stroke-width="2"/>
<text x="64.1" y="439.1" font-size="10.2" font-weight="bold" stroke="#000" stroke-width="0.25" textLength="69.3" lengthAdjust="spacingAndGlyphs">BoLA-1*023:01-</text>
<text x="86.9" y="450.7" font-size="10.2" font-weight="bold" stroke="#000" stroke-width="0.25" textLength="15" lengthAdjust="spacingAndGlyphs">Tp9</text>
<text x="102.1" y="453.0" font-size="6.8" font-weight="bold" stroke="#000" stroke-width="0.15">A6</text>
<rect x="28.9" y="457.4" width="119.75" height="119.80000000000007" fill="#fff" stroke="#8a8a8a" stroke-width="1.1"/>
<g transform="translate(28.9,457.5) scale(0.1)" stroke="#5216aa" stroke-width="7.0" stroke-linecap="round" fill="none"><path d="M745 302h3m208 119h3m11 61h3m93 61h3m-88 16h3m-257 4h3m290 23h3m66 22h3m-233 6h3m38 30h3m-50 2h3m22 18h3m179 15h3m-89 12h3m1 10h3m-62 6h3m111 0h3m-28 10h3m-130 13h3m8 4h3m-106 15h3m232 6h3m-178 4h3m82 17h3m-40 2h3m54 2h3m195 26h3m-208 7h3m44 5h3m-117 7h3m-112 4h3m36 3h3m121 2h3m-11 18h3m139 10h3m-133 1h3m-63 22h3m-34 6h3m140 2h3m-92 6h3m-207 20h3m220 1h3m-74 12h3m81 35h3m-152 16h3m327 28h3m-315 3h3m322 24h3" stroke-opacity="0.14"/><path d="M976 459h3m-2 36h3m19 5h3m6 12h3m-71 3h3m119 6h3m-92 3h3m-10 2h3m75 2h3m-97 10h3m31 0h3m57 0h3m-61 1h3m-14 1h3m-1 4h3m48 2h3m12 3h3m17 1h3m11 1h3m-45 7h3m-98 6h3m153 0h3m-76 1h3m-23 1h3m44 2h3m-139 3h3m19 1h3m83 1h3m21 1h3m-39 1h3m11 0h3m91 0h3m-30 2h3m-103 1h3m58 0h3m34 0h3m-49 1h3m-73 2h3m-81 1h3m100 0h3m-36 3h3m13 0h3m55 0h3m-16 1h3m149 0h3m-167 2h3m105 1h3m-77 2h3m-89 3h3m88 2h3m-17 1h3m-34 2h3m-2 0h3m19 1h3m33 0h3m-163 2h3m44 1h3m64 1h3m42 0h3m68 2h3m-179 1h3m86 0h3m-12 1h3m28 0h3m-142 1h3m87 1h3m8 0h3m-29 4h3m51 0h3m-119 1h3m64 1h3m30 0h3m-26 1h3m-66 3h3m63 0h3m1 0h3m7 0h3m-83 1h3m1 0h3m39 0h3m-163 1h3m106 0h3m135 0h3m-146 1h3m39 0h3m-14 1h3m-106 1h3m64 0h3m57 0h3m-55 1h3m118 0h3m-128 1h3m109 0h3m-40 1h3m31 0h3m-74 1h3m-1 0h3m19 0h3m-77 1h3m20 0h3m15 0h3m23 0h3m6 0h3m33 0h3m12 0h3m-76 1h3m-25 1h3m3 0h3m124 3h3m-44 1h3m-61 2h3m14 0h3m24 1h3m8 0h3m38 0h3m-78 1h3m-2 0h3m-13 1h3m-37 1h3m0 0h3m26 0h3m-86 1h3m53 0h3m14 0h3m23 0h3m48 0h3m-30 1h3m-91 1h3m58 0h3m49 0h3m-86 1h3m-49 1h3m27 0h3m5 0h3m92 0h3m-195 1h3m64 0h3m43 0h3m13 0h3m27 0h3m-73 1h3m19 0h3m17 0h3m8 0h3m-1 0h3m5 0h3m35 0h3m-159 1h3m27 1h3m59 0h3m-39 1h3m48 0h3m9 0h3m-90 1h3m87 0h3m-53 1h3m8 0h3m53 0h3m40 0h3m-125 1h3m76 2h3m-125 1h3m38 0h3m2 0h3m19 0h3m8 0h3m0 0h3m-1 0h3m-69 1h3m39 0h3m50 0h3m2 0h3m-80 1h3m-28 1h3m48 0h3m-5 1h3m14 0h3m27 0h3m19 0h3m-123 1h3m15 0h3m126 0h3m-133 1h3m25 0h3m38 0h3m42 0h3m-165 2h3m87 0h3m-35 1h3m19 1h3m24 0h3m8 0h3m-97 1h3m44 0h3m62 0h3m-2 0h3m13 0h3m-98 1h3m135 0h3m-137 1h3m14 0h3m7 0h3m23 0h3m-65 1h3m15 0h3m15 0h3m13 0h3m-37 1h3m13 0h3m6 0h3m5 0h3m4 1h3m30 0h3m12 0h3m-180 1h3m73 1h3m28 0h3m15 0h3m70 0h3m-166 1h3m39 0h3m50 0h3m-40 1h3m23 0h3m13 0h3m-65 1h3m0 0h3m38 0h3m24 0h3m-17 1h3m-2 0h3m-63 1h3m2 0h3m78 0h3m1 0h3m-103 1h3m7 0h3m27 0h3m100 0h3m-163 1h3m-13 1h3m60 0h3m59 0h3m-99 1h3m57 0h3m4 0h3m-142 1h3m92 0h3m110 0h3m-130 1h3m46 0h3m-3 0h3m6 0h3m-77 1h3m-3 0h3m27 0h3m1 0h3m108 0h3m-111 1h3m8 0h3m51 0h3m6 0h3m73 0h3m-141 1h3m56 0h3m57 0h3m-159 1h3m37 0h3m18 0h3m55 0h3m-79 1h3m7 0h3m-30 1h3m3 0h3m-3 0h3m-2 0h3m-86 1h3m144 0h3m-72 1h3m12 0h3m67 0h3m29 0h3m-110 1h3m44 0h3m-141 1h3m94 0h3m30 1h3m-144 1h3m23 0h3m34 0h3m1 0h3m2 0h3m38 0h3m22 0h3m13 0h3m42 0h3m-185 1h3m43 0h3m49 0h3m35 0h3m-79 1h3m5 0h3m10 0h3m-37 1h3m9 0h3m26 0h3m-36 1h3m6 0h3m22 0h3m-2 0h3m11 0h3m-2 0h3m25 0h3m17 0h3m-62 1h3m1 0h3m43 0h3m-53 1h3m43 0h3m-1 0h3m-92 1h3m19 0h3m16 0h3m7 0h3m33 0h3m-6 1h3m-179 1h3m74 0h3m0 0h3m28 0h3m17 0h3m-12 1h3m72 0h3m-114 1h3m26 0h3m31 0h3m9 0h3m-101 1h3m48 0h3m-51 1h3m14 0h3m36 0h3m-52 1h3m35 0h3m87 0h3m8 0h3m-149 1h3m24 0h3m70 0h3m-176 1h3m38 0h3m17 0h3m21 0h3m3 0h3m43 0h3m-94 1h3m64 0h3m10 0h3m4 0h3m9 0h3m8 0h3m-99 1h3m25 0h3m13 1h3m18 0h3m11 0h3m6 1h3m-1 0h3m10 0h3m-112 1h3m19 0h3m9 0h3m18 0h3m7 0h3m30 0h3m-102 1h3m10 0h3m17 0h3m5 0h3m13 0h3m7 0h3m33 0h3m11 0h3m20 0h3m-179 1h3m33 0h3m40 0h3m23 0h3m14 0h3m7 0h3m38 0h3m15 0h3m-152 1h3m69 0h3m3 0h3m16 0h3m4 0h3m-67 1h3m10 0h3m16 0h3m6 0h3m5 0h3m26 0h3m-3 0h3m4 0h3m-106 1h3m17 0h3m36 0h3m10 0h3m-87 1h3m5 0h3m10 0h3m9 0h3m18 0h3m64 0h3m92 0h3m-229 1h3m56 0h3m14 0h3m3 0h3m-1 0h3m1 0h3m-2 0h3m37 0h3m-153 1h3m26 0h3m14 0h3m61 0h3m-3 0h3m-2 0h3m20 0h3m7 0h3m22 0h3m-111 1h3m27 0h3m14 2h3m34 0h3m12 0h3m-47 1h3m-2 0h3m17 0h3m15 0h3m-94 1h3m48 0h3m-92 1h3m26 0h3m3 0h3m93 0h3m-129 1h3m23 0h3m-106 1h3m116 0h3m6 0h3m17 0h3m-38 1h3m25 0h3m-2 0h3m-6 1h3m3 0h3m3 0h3m14 0h3m118 0h3m-155 1h3m3 0h3m22 0h3m24 0h3m-97 1h3m70 0h3m87 0h3m-137 1h3m15 0h3m17 0h3m4 0h3m28 0h3m-139 1h3m-53 1h3m41 0h3m7 0h3m4 0h3m20 0h3m59 0h3m-54 1h3m21 0h3m29 0h3m-37 1h3m-2 0h3m2 0h3m41 0h3m12 0h3m25 0h3m-91 1h3m0 0h3m-60 1h3m-2 0h3m74 0h3m-55 1h3m53 0h3m24 0h3m-171 1h3m106 0h3m-1 0h3m36 0h3m-1 0h3m31 0h3m-141 1h3m5 0h3m-1 0h3m24 0h3m-2 0h3m24 0h3m33 0h3m23 0h3m-106 1h3m22 0h3m22 0h3m9 0h3m15 0h3m-80 1h3m34 0h3m55 0h3m-137 1h3m25 0h3m0 0h3m47 0h3m2 0h3m28 0h3m-85 1h3m27 0h3m-2 0h3m11 0h3m-2 0h3m7 0h3m38 0h3m1 0h3m-70 1h3m19 0h3m3 0h3m29 0h3m-66 1h3m17 0h3m18 0h3m69 0h3m-152 1h3m0 0h3m10 0h3m78 0h3m-96 1h3m27 0h3m57 0h3m-86 1h3m32 0h3m-44 1h3m7 0h3m17 0h3m10 0h3m39 0h3m-66 1h3m56 0h3m-86 1h3m18 1h3m34 0h3m19 0h3m-85 1h3m131 0h3m-133 1h3m17 0h3m5 0h3m74 0h3m-151 1h3m27 0h3m16 0h3m14 0h3m38 0h3m-3 0h3m-76 1h3m7 0h3m20 0h3m11 0h3m46 0h3m-2 0h3m-84 1h3m13 0h3m42 0h3m5 0h3m-109 1h3m39 0h3m15 1h3m16 0h3m43 0h3m46 0h3m-188 1h3m124 0h3m-39 1h3m10 0h3m6 0h3m-135 1h3m29 0h3m42 0h3m42 0h3m3 0h3m14 1h3m-95 1h3m34 0h3m25 0h3m-53 1h3m88 0h3m77 0h3m-285 1h3m71 0h3m89 0h3m-44 1h3m12 0h3m96 0h3m-93 1h3m42 0h3m-3 0h3m-3 0h3m-2 0h3m30 0h3m18 0h3m-75 1h3m24 0h3m-103 1h3m2 0h3m18 0h3m42 0h3m-133 1h3m130 0h3m46 0h3m-169 1h3m-23 1h3m82 0h3m2 0h3m4 0h3m-13 1h3m17 0h3m66 0h3m-122 1h3m10 0h3m2 0h3m69 0h3m41 0h3m-183 1h3m49 0h3m13 0h3m12 0h3m63 0h3m8 0h3m-105 1h3m51 0h3m37 0h3m-2 0h3m-132 1h3m0 0h3m29 1h3m33 0h3m0 0h3m13 0h3m-49 1h3m13 0h3m77 0h3m-92 1h3m-22 1h3m29 0h3m54 0h3m-2 0h3m-116 1h3m22 0h3m33 0h3m49 0h3m17 0h3m-129 1h3m16 0h3m-2 0h3m43 0h3m-153 1h3m117 0h3m6 1h3m18 0h3m12 0h3m17 1h3m-131 1h3m61 0h3m32 0h3m-62 1h3m28 0h3m23 0h3m-164 1h3m124 0h3m83 0h3m45 0h3m-181 2h3m56 0h3m63 0h3m-140 1h3m28 0h3m-2 0h3m-2 0h3m47 0h3m7 0h3m46 0h3m-48 1h3m23 0h3m-66 2h3m50 0h3m-56 2h3m-28 1h3m14 0h3m41 0h3m26 0h3m52 0h3m-47 1h3m27 0h3m-164 1h3m14 0h3m23 0h3m-54 1h3m19 0h3m-2 1h3m20 1h3m39 1h3m-39 1h3m-63 1h3m99 0h3m17 1h3m-1 0h3m59 0h3m-34 1h3m-219 1h3m90 0h3m10 0h3m2 0h3m19 1h3m103 1h3m-179 1h3m72 0h3m54 0h3m61 0h3m-208 1h3m25 1h3m54 0h3m12 0h3m1 0h3m-3 0h3m19 0h3m-7 1h3m11 0h3m50 0h3m6 1h3m-141 1h3m29 0h3m14 0h3m14 0h3m-15 2h3m36 0h3m41 1h3m-128 2h3m30 0h3m3 0h3m20 0h3m-43 1h3m43 0h3m26 0h3m-118 1h3m39 0h3m-15 1h3m-11 2h3m1 0h3m0 0h3m-58 1h3m30 1h3m17 0h3m-10 1h3m-31 1h3m107 0h3m-101 2h3m54 0h3m-3 0h3m-45 1h3m29 0h3m4 0h3m23 0h3m-122 1h3m61 0h3m97 0h3m-82 2h3m63 1h3m-90 1h3m16 1h3m-135 1h3m58 0h3m95 0h3m-39 1h3m-53 1h3m22 1h3m120 1h3m-111 2h3m94 0h3m-170 1h3m72 0h3m39 0h3m-110 2h3m64 3h3m35 0h3m-85 2h3m17 0h3m31 0h3m-123 3h3m25 0h3m130 0h3m-141 1h3m163 0h3m-52 1h3m28 1h3m-50 1h3m6 0h3m-81 2h3m84 2h3m-25 2h3m0 1h3m34 5h3m7 0h3m-58 2h3m-25 4h3m38 4h3m57 0h3m-21 3h3m-94 5h3m75 1h3m-28 1h3m-57 6h3m6 0h3m47 7h3m-29 5h3m-42 1h3m5 8h3m71 1h3m-32 3h3m-13 19h3" stroke-opacity="0.15"/><path d="M1035 504h3m-46 3h3m118 4h3m-44 3h3m-18 4h3m29 2h3m-72 3h3m-14 2h3m49 1h3m8 2h3m-124 2h3m73 1h3m40 4h3m-103 2h3m61 1h3m-24 1h3m41 0h3m-78 7h3m2 0h3m81 0h3m-16 1h3m-55 3h3m22 2h3m0 0h3m27 0h3m-61 2h3m-3 2h3m35 1h3m-19 1h3m21 0h3m1 0h3m-21 1h3m33 0h3m-41 1h3m25 2h3m-11 2h3m-52 1h3m64 1h3m-19 1h3m41 0h3m-108 1h3m10 0h3m5 0h3m16 0h3m-40 1h3m0 0h3m2 0h3m2 0h3m39 0h3m10 0h3m42 0h3m-154 1h3m37 0h3m21 0h3m41 0h3m-24 2h3m14 0h3m-6 1h3m3 1h3m-44 1h3m61 1h3m-105 1h3m18 0h3m2 0h3m6 0h3m34 0h3m-101 1h3m82 0h3m13 0h3m-75 1h3m1 0h3m46 0h3m68 0h3m-42 1h3m-78 1h3m12 0h3m4 0h3m24 0h3m-2 0h3m0 0h3m18 0h3m-59 1h3m24 0h3m21 0h3m-27 1h3m-30 1h3m49 0h3m-51 2h3m24 1h3m14 0h3m14 0h3m-85 1h3m11 0h3m7 1h3m14 0h3m3 0h3m-13 1h3m-30 1h3m8 0h3m14 0h3m-51 1h3m37 0h3m27 0h3m45 0h3m-129 1h3m13 0h3m6 0h3m-1 0h3m6 0h3m9 0h3m56 0h3m-107 1h3m2 0h3m28 0h3m3 0h3m27 1h3m4 0h3m-78 1h3m73 0h3m3 0h3m56 0h3m-117 1h3m14 1h3m30 0h3m-48 1h3m2 0h3m14 0h3m5 0h3m10 0h3m-113 1h3m15 0h3m63 0h3m53 0h3m-160 1h3m37 0h3m39 0h3m14 0h3m-31 1h3m-1 0h3m1 0h3m33 0h3m2 0h3m-75 1h3m35 0h3m20 0h3m15 0h3m-2 0h3m-62 1h3m26 0h3m2 0h3m-84 1h3m26 0h3m32 0h3m8 1h3m-64 1h3m94 0h3m-152 1h3m51 0h3m22 0h3m22 0h3m-1 0h3m16 0h3m-28 1h3m6 0h3m38 0h3m3 0h3m7 0h3m-81 1h3m2 0h3m1 0h3m17 0h3m-28 1h3m1 0h3m1 0h3m-1 0h3m-3 0h3m0 0h3m-2 0h3m37 0h3m-57 1h3m12 0h3m-1 0h3m-1 0h3m13 0h3m8 0h3m8 0h3m-109 1h3m66 0h3m10 0h3m-39 1h3m25 0h3m24 0h3m-55 1h3m31 0h3m93 0h3m-160 1h3m15 0h3m10 0h3m9 0h3m-20 1h3m-2 0h3m27 0h3m6 0h3m19 0h3m3 0h3m-27 1h3m-71 1h3m19 0h3m8 0h3m14 0h3m12 0h3m4 0h3m-88 1h3m30 0h3m6 0h3m4 0h3m18 0h3m-3 0h3m23 0h3m16 0h3m-80 1h3m18 0h3m31 0h3m-86 1h3m17 0h3m8 0h3m9 0h3m13 0h3m-56 1h3m22 0h3m30 0h3m19 0h3m6 0h3m-122 1h3m-3 0h3m38 0h3m-57 1h3m33 0h3m5 0h3m24 0h3m0 0h3m11 1h3m17 0h3m-2 0h3m4 0h3m7 0h3m-70 1h3m11 0h3m37 0h3m-2 0h3m2 0h3m14 0h3m-120 1h3m23 0h3m12 0h3m1 0h3m53 0h3m-1 0h3m-90 1h3m24 0h3m0 0h3m3 0h3m48 0h3m-96 1h3m14 0h3m18 0h3m23 0h3m7 0h3m1 0h3m20 0h3m-84 1h3m6 0h3m41 0h3m-107 1h3m41 0h3m46 0h3m2 0h3m5 0h3m-57 1h3m-1 0h3m4 0h3m26 0h3m0 0h3m1 0h3m-59 1h3m23 0h3m19 0h3m1 0h3m-108 1h3m78 0h3m5 0h3m-1 0h3m0 0h3m-63 1h3m13 0h3m27 0h3m-1 0h3m10 0h3m16 0h3m1 0h3m0 0h3m33 0h3m-161 1h3m60 0h3m1 0h3m14 0h3m9 0h3m12 0h3m21 0h3m12 0h3m14 0h3m-135 1h3m46 0h3m29 0h3m10 0h3m-2 0h3m57 0h3m-154 1h3m30 0h3m35 0h3m-1 0h3m4 0h3m12 0h3m29 0h3m22 0h3m-167 1h3m19 0h3m4 0h3m4 0h3m-1 0h3m43 0h3m35 0h3m-125 1h3m22 0h3m40 0h3m2 0h3m-3 0h3m-1 0h3m-3 0h3m-68 1h3m16 0h3m9 0h3m-2 0h3m57 0h3m13 0h3m-119 1h3m30 0h3m7 0h3m13 0h3m0 0h3m10 0h3m23 0h3m-2 0h3m-107 1h3m15 0h3m22 0h3m14 0h3m-2 0h3m5 0h3m4 0h3m4 0h3m10 0h3m-72 1h3m13 0h3m6 0h3m-45 1h3m30 0h3m-3 0h3m23 0h3m4 0h3m-54 1h3m-3 0h3m-1 0h3m-3 0h3m44 0h3m2 0h3m9 0h3m3 0h3m-3 0h3m16 0h3m-117 1h3m20 0h3m3 0h3m13 0h3m27 0h3m8 0h3m43 0h3m-114 1h3m31 0h3m8 0h3m-1 0h3m-1 0h3m-3 0h3m12 0h3m0 0h3m2 0h3m14 0h3m34 0h3m-141 1h3m35 0h3m22 0h3m2 0h3m3 0h3m43 0h3m3 0h3m10 0h3m-86 1h3m40 0h3m10 0h3m-77 1h3m9 0h3m1 0h3m-2 0h3m25 0h3m-92 1h3m14 0h3m20 0h3m4 0h3m-1 0h3m44 0h3m15 0h3m-1 0h3m-65 1h3m9 0h3m-1 0h3m0 0h3m-18 1h3m7 0h3m11 0h3m-91 1h3m42 0h3m-1 0h3m23 0h3m16 0h3m-68 1h3m-1 0h3m-2 0h3m7 0h3m2 0h3m23 0h3m0 0h3m4 0h3m8 0h3m-102 1h3m18 0h3m38 0h3m-55 1h3m23 0h3m38 0h3m0 0h3m12 0h3m18 0h3m22 0h3m-114 1h3m11 0h3m13 0h3m25 0h3m1 0h3m2 0h3m-1 0h3m12 0h3m-56 1h3m2 0h3m2 0h3m5 0h3m8 0h3m30 0h3m4 0h3m-115 1h3m86 0h3m-2 0h3m8 0h3m24 0h3m-122 1h3m18 0h3m5 0h3m20 0h3m12 0h3m12 0h3m-3 0h3m24 0h3m-115 1h3m33 0h3m1 0h3m7 0h3m10 0h3m0 0h3m14 0h3m41 0h3m-121 1h3m23 0h3m11 0h3m17 0h3m7 0h3m2 0h3m-79 1h3m47 0h3m-3 0h3m14 0h3m12 0h3m20 0h3m1 0h3m-80 1h3m0 0h3m-29 1h3m2 0h3m14 0h3m3 0h3m20 0h3m-99 1h3m42 0h3m7 0h3m51 0h3m-96 1h3m19 0h3m15 0h3m-1 0h3m15 0h3m-1 0h3m-3 0h3m17 0h3m9 0h3m-118 1h3m40 0h3m30 0h3m24 0h3m18 0h3m47 0h3m-202 1h3m78 0h3m31 0h3m35 0h3m19 0h3m6 0h3m-133 1h3m14 0h3m3 0h3m23 0h3m-3 0h3m-2 0h3m10 0h3m-3 0h3m1 0h3m6 0h3m-57 1h3m19 0h3m-1 0h3m13 0h3m21 0h3m34 0h3m-104 1h3m13 0h3m2 0h3m-3 0h3m7 0h3m15 0h3m5 0h3m-1 0h3m6 0h3m3 0h3m-2 0h3m1 0h3m0 0h3m-83 1h3m23 0h3m7 0h3m9 0h3m41 0h3m41 0h3m-129 1h3m17 0h3m1 0h3m37 0h3m-85 1h3m15 0h3m-3 0h3m-1 0h3m17 0h3m2 0h3m-1 0h3m-2 0h3m21 0h3m-92 1h3m1 0h3m67 0h3m29 0h3m-66 1h3m0 0h3m14 0h3m-51 1h3m20 0h3m-3 0h3m-1 0h3m25 0h3m17 0h3m27 0h3m-163 1h3m34 0h3m17 0h3m13 0h3m8 0h3m1 0h3m32 0h3m27 0h3m29 0h3m-117 1h3m9 0h3m25 0h3m22 0h3m-2 0h3m-88 1h3m11 0h3m5 0h3m1 0h3m-2 0h3m15 0h3m30 0h3m1 0h3m1 0h3m-156 1h3m65 0h3m21 0h3m5 0h3m5 0h3m-2 0h3m-3 0h3m0 0h3m0 0h3m10 0h3m-2 0h3m31 0h3m1 0h3m-61 1h3m-3 0h3m12 0h3m26 0h3m13 0h3m-130 1h3m121 0h3m-2 0h3m-98 1h3m13 0h3m-1 0h3m6 0h3m1 0h3m4 0h3m29 0h3m51 0h3m-146 1h3m15 0h3m0 0h3m21 0h3m12 0h3m7 0h3m10 0h3m59 0h3m-146 1h3m-3 0h3m2 0h3m-3 0h3m32 0h3m15 0h3m2 0h3m13 0h3m3 0h3m40 0h3m-109 1h3m26 0h3m1 0h3m2 0h3m4 0h3m1 0h3m32 0h3m49 0h3m-171 1h3m55 0h3m9 0h3m13 0h3m3 0h3m19 0h3m16 0h3m-154 1h3m23 0h3m24 0h3m15 0h3m18 0h3m4 0h3m17 0h3m6 0h3m-96 1h3m7 0h3m7 0h3m12 0h3m3 0h3m-2 0h3m15 0h3m12 0h3m9 0h3m22 0h3m-123 1h3m-2 0h3m10 0h3m0 0h3m16 0h3m-2 0h3m6 0h3m-3 0h3m8 0h3m17 0h3m-3 0h3m-1 0h3m0 0h3m1 0h3m0 0h3m-85 1h3m10 0h3m17 0h3m-2 0h3m2 0h3m16 0h3m11 0h3m1 0h3m-3 0h3m10 0h3m3 0h3m13 0h3m-125 1h3m30 0h3m8 0h3m0 0h3m37 0h3m26 0h3m-117 1h3m46 0h3m-68 1h3m17 0h3m11 0h3m18 0h3m6 0h3m4 0h3m28 0h3m-2 0h3m-90 1h3m22 0h3m-2 0h3m8 0h3m16 0h3m27 0h3m27 0h3m-76 1h3m4 0h3m-3 0h3m3 0h3m8 0h3m16 0h3m0 0h3m34 0h3m-119 1h3m-1 0h3m23 0h3m20 0h3m0 0h3m-47 1h3m9 0h3m8 0h3m2 0h3m22 0h3m15 0h3m-84 1h3m3 0h3m0 0h3m4 0h3m14 0h3m4 0h3m2 0h3m7 0h3m8 0h3m-1 0h3m1 0h3m13 0h3m16 0h3m-110 1h3m4 0h3m1 0h3m15 0h3m29 0h3m34 0h3m-99 1h3m38 0h3m3 0h3m0 0h3m8 0h3m-15 1h3m0 0h3m4 0h3m13 0h3m-1 0h3m-3 0h3m-63 1h3m3 0h3m-16 1h3m1 0h3m34 0h3m9 0h3m34 0h3m-116 1h3m29 0h3m25 0h3m-80 1h3m16 0h3m18 0h3m11 0h3m26 0h3m16 0h3m-95 1h3m35 0h3m9 0h3m21 0h3m-69 1h3m9 0h3m29 0h3m19 0h3m21 0h3m2 0h3m-96 1h3m28 0h3m24 0h3m-54 1h3m23 0h3m40 0h3m8 0h3m1 0h3m10 0h3m-127 1h3m-2 0h3m4 0h3m26 0h3m17 0h3m3 0h3m11 0h3m-42 1h3m-1 0h3m21 0h3m18 0h3m31 0h3m-107 1h3m5 0h3m18 0h3m-2 0h3m34 0h3m14 0h3m-87 1h3m13 0h3m11 0h3m15 0h3m6 0h3m3 0h3m5 0h3m0 0h3m-28 1h3m16 0h3m29 0h3m3 0h3m-91 1h3m44 0h3m0 0h3m3 0h3m-10 1h3m0 0h3m16 0h3m-102 1h3m69 0h3m41 0h3m13 0h3m-100 1h3m8 0h3m8 0h3m-2 0h3m23 0h3m-101 1h3m4 0h3m52 0h3m31 0h3m29 0h3m-75 1h3m16 0h3m38 0h3m46 0h3m-151 1h3m13 0h3m3 0h3m1 0h3m-27 1h3m56 0h3m-45 1h3m3 0h3m-2 0h3m34 0h3m2 0h3m14 0h3m29 0h3m-107 1h3m4 0h3m5 0h3m33 0h3m19 0h3m7 0h3m0 0h3m31 0h3m-118 1h3m20 0h3m20 0h3m22 0h3m81 0h3m-162 1h3m23 0h3m49 0h3m-44 1h3m66 0h3m43 0h3m-151 1h3m4 0h3m29 0h3m14 0h3m-32 1h3m42 0h3m-65 1h3m2 0h3m17 0h3m4 0h3m3 0h3m34 0h3m-1 0h3m-91 1h3m55 0h3m7 0h3m-1 0h3m2 0h3m-50 1h3m-1 0h3m21 0h3m6 0h3m-49 1h3m50 0h3m34 0h3m-103 1h3m24 0h3m17 0h3m4 0h3m0 0h3m82 0h3m-177 1h3m21 0h3m16 0h3m2 0h3m9 0h3m21 0h3m-75 1h3m97 0h3m-90 1h3m48 0h3m24 0h3m-38 1h3m77 0h3m-112 2h3m11 0h3m50 0h3m2 0h3m-84 1h3m8 0h3m25 0h3m20 0h3m-77 1h3m14 0h3m32 0h3m-30 1h3m14 0h3m16 0h3m4 0h3m-62 1h3m60 0h3m28 0h3m-55 1h3m9 0h3m-19 1h3m7 0h3m-79 1h3m34 0h3m24 0h3m27 0h3m29 1h3m-123 1h3m0 0h3m34 0h3m20 1h3m25 0h3m-67 1h3m-2 0h3m12 0h3m46 0h3m12 0h3m12 0h3m-89 1h3m84 0h3m-69 1h3m16 0h3m-40 1h3m5 0h3m36 0h3m-58 1h3m18 0h3m-53 2h3m23 0h3m-9 1h3m43 1h3m13 0h3m-62 2h3m35 2h3m-16 1h3m11 0h3m37 0h3m-22 1h3m-41 1h3m52 0h3m-68 2h3m1 0h3m2 1h3m2 2h3m-18 1h3m36 1h3m11 2h3m-79 2h3m55 0h3m-45 3h3m-2 3h3m33 0h3m15 3h3m1 1h3m-76 1h3m83 0h3m2 1h3m-101 2h3m92 2h3m0 2h3m-62 3h3m3 8h3m-31 14h3m-21 8h3m54 6h3m26 16h3" stroke-opacity="0.2"/><path d="M991 1179h3m21 0h3m44 0h3m-109 1h3m36 0h3m3 0h3m5 0h3m37 0h3m12 0h3m-177 1h3m28 0h3m1 0h3m29 0h3m14 0h3m-2 0h3m34 0h3m29 0h3m3 0h3m-131 1h3m12 0h3m18 0h3m-3 0h3m2 0h3m0 0h3m3 0h3m2 0h3m2 0h3m4 0h3m17 0h3m-3 0h3m25 0h3m-1 0h3m9 0h3m15 0h3m12 0h3m-215 1h3m63 0h3m13 0h3m1 0h3m-1 0h3m28 0h3m5 0h3m1 0h3m-90 1h3m40 0h3m78 0h3m11 0h3m-148 1h3m108 0h3" stroke-opacity="0.22"/><path d="M944 251h3m242 3h3m-123 105h3m-331 54h3" stroke-opacity="0.3"/></g>
<line x1="28.9" y1="456.9" x2="28.9" y2="577.8000000000001" stroke="#858585" stroke-width="1.2"/>
<line x1="28.4" y1="577.2" x2="148.65" y2="577.2" stroke="#6a6a6a" stroke-width="1.1"/>
<path d="M25.4 576.4H28.9M25.4 554.5H28.9M25.4 532.7H28.9M25.4 510.8H28.9M25.4 488.9H28.9M25.4 467.0H28.9M28.9 577.2V580.7M50.6 577.2V580.7M72.4 577.2V580.7M94.2 577.2V580.7M115.9 577.2V580.7M137.7 577.2V580.7" stroke="#222" stroke-width="1.3" fill="none"/>
<path d="M26.9 569.8H28.9M26.9 566.0H28.9M26.9 563.2H28.9M26.9 561.1H28.9M26.9 559.4H28.9M26.9 557.9H28.9M26.9 556.6H28.9M26.9 555.5H28.9M26.9 547.9H28.9M26.9 544.1H28.9M26.9 541.4H28.9M26.9 539.2H28.9M26.9 537.5H28.9M26.9 536.0H28.9M26.9 534.8H28.9M26.9 533.7H28.9M26.9 526.1H28.9M26.9 522.2H28.9M26.9 519.5H28.9M26.9 517.4H28.9M26.9 515.6H28.9M26.9 514.2H28.9M26.9 512.9H28.9M26.9 511.8H28.9M26.9 504.2H28.9M26.9 500.3H28.9M26.9 497.6H28.9M26.9 495.5H28.9M26.9 493.8H28.9M26.9 492.3H28.9M26.9 491.0H28.9M26.9 489.9H28.9M26.9 482.3H28.9M26.9 478.5H28.9M26.9 475.7H28.9M26.9 473.6H28.9M26.9 471.9H28.9M26.9 470.4H28.9M26.9 469.1H28.9M26.9 468.0H28.9M26.9 460.4H28.9M35.4 577.2V579.2M39.3 577.2V579.2M42.0 577.2V579.2M44.1 577.2V579.2M45.8 577.2V579.2M47.3 577.2V579.2M48.5 577.2V579.2M49.7 577.2V579.2M57.2 577.2V579.2M61.0 577.2V579.2M63.7 577.2V579.2M65.9 577.2V579.2M67.6 577.2V579.2M69.0 577.2V579.2M70.3 577.2V579.2M71.4 577.2V579.2M78.9 577.2V579.2M82.8 577.2V579.2M85.5 577.2V579.2M87.6 577.2V579.2M89.3 577.2V579.2M90.8 577.2V579.2M92.0 577.2V579.2M93.2 577.2V579.2M100.7 577.2V579.2M104.5 577.2V579.2M107.2 577.2V579.2M109.4 577.2V579.2M111.1 577.2V579.2M112.5 577.2V579.2M113.8 577.2V579.2M114.9 577.2V579.2M122.4 577.2V579.2M126.3 577.2V579.2M129.0 577.2V579.2M131.1 577.2V579.2M132.8 577.2V579.2M134.3 577.2V579.2M135.5 577.2V579.2M136.7 577.2V579.2M144.2 577.2V579.2M148.0 577.2V579.2" stroke="#3a3a3a" stroke-width="0.85" fill="none"/>
<text x="16.5" y="579.4" font-size="4.8" fill="#333" letter-spacing="-0.2">10<tspan font-size="4.2" dy="-2.9" fill="#222">0</tspan></text>
<text x="30.9" y="588.1" font-size="4.8" fill="#333" letter-spacing="-0.2">10<tspan font-size="4.2" dy="-2.9" fill="#222">0</tspan></text>
<text x="16.5" y="557.5" font-size="4.8" fill="#333" letter-spacing="-0.2">10<tspan font-size="4.2" dy="-2.9" fill="#222">1</tspan></text>
<text x="52.6" y="588.1" font-size="4.8" fill="#333" letter-spacing="-0.2">10<tspan font-size="4.2" dy="-2.9" fill="#222">1</tspan></text>
<text x="16.5" y="535.7" font-size="4.8" fill="#333" letter-spacing="-0.2">10<tspan font-size="4.2" dy="-2.9" fill="#222">2</tspan></text>
<text x="74.4" y="588.1" font-size="4.8" fill="#333" letter-spacing="-0.2">10<tspan font-size="4.2" dy="-2.9" fill="#222">2</tspan></text>
<text x="16.5" y="513.8" font-size="4.8" fill="#333" letter-spacing="-0.2">10<tspan font-size="4.2" dy="-2.9" fill="#222">3</tspan></text>
<text x="96.2" y="588.1" font-size="4.8" fill="#333" letter-spacing="-0.2">10<tspan font-size="4.2" dy="-2.9" fill="#222">3</tspan></text>
<text x="16.5" y="491.9" font-size="4.8" fill="#333" letter-spacing="-0.2">10<tspan font-size="4.2" dy="-2.9" fill="#222">4</tspan></text>
<text x="117.9" y="588.1" font-size="4.8" fill="#333" letter-spacing="-0.2">10<tspan font-size="4.2" dy="-2.9" fill="#222">4</tspan></text>
<text x="16.5" y="470.0" font-size="4.8" fill="#333" letter-spacing="-0.2">10<tspan font-size="4.2" dy="-2.9" fill="#222">5</tspan></text>
<text x="139.7" y="588.1" font-size="4.8" fill="#333" letter-spacing="-0.2">10<tspan font-size="4.2" dy="-2.9" fill="#222">5</tspan></text>
<text x="86.9" y="599.7" font-size="5.1" fill="#222" text-anchor="middle">Comp-APC-A</text>
<text transform="translate(4.4,517.4) rotate(-90)" font-size="5.1" fill="#222" text-anchor="middle">Comp-PE-A</text>
<text x="84.9" y="555.0" font-size="5.1" fill="#111" text-anchor="middle">Comp-APC-A, Comp-PE-A subset</text>
<text x="84.9" y="563.0" font-size="5.1" fill="#111" text-anchor="middle">1.04</text>
<rect x="95.3" y="467.5" width="51.5" height="44.2" fill="none" stroke="#000" stroke-width="2"/>
<text x="186.9" y="439.2" font-size="10.2" font-weight="bold" stroke="#000" stroke-width="0.25" textLength="69.3" lengthAdjust="spacingAndGlyphs">BoLA-1*023:01-</text>
<text x="209.7" y="450.8" font-size="10.2" font-weight="bold" stroke="#000" stroke-width="0.25" textLength="15" lengthAdjust="spacingAndGlyphs">Tp9</text>
<text x="224.9" y="453.1" font-size="6.8" font-weight="bold" stroke="#000" stroke-width="0.15">A7</text>
<rect x="152.2" y="456.9" width="119.69999999999999" height="119.5" fill="#fff" stroke="#8a8a8a" stroke-width="1.1"/>
<g transform="translate(152.2,457.0) scale(0.1)" stroke="#5216aa" stroke-width="7.0" stroke-linecap="round" fill="none"><path d="M707 518h3m150 15h3m96 20h3m-180 12h3m181 7h3m70 18h3m-111 4h3m54 8h3m-79 10h3m-201 22h3m166 2h3m133 3h3m-198 12h3m197 18h3m-185 7h3m87 1h3m158 1h3m-214 10h3m40 3h3m-56 3h3m198 3h3m-137 18h3m-19 26h3m77 3h3m-142 11h3m50 2h3m140 2h3m-91 10h3m3 8h3m-11 33h3m167 2h3m-201 1h3m59 1h3m-74 6h3m79 5h3m-86 1h3m21 10h3m15 0h3m35 4h3m-8 9h3m-136 10h3m17 38h3m-204 8h3m398 1h3m-211 8h3m108 30h3m-15 6h3m52 88h3" stroke-opacity="0.14"/><path d="M1004 364h3m-18 117h3m-59 11h3m136 15h3m-94 3h3m36 5h3m-101 18h3m21 0h3m23 3h3m-11 3h3m20 3h3m-9 1h3m-52 2h3m36 0h3m36 0h3m52 1h3m-29 1h3m-34 1h3m6 2h3m15 3h3m30 1h3m-143 6h3m101 0h3m-17 7h3m-1 1h3m23 0h3m98 2h3m-99 1h3m20 1h3m-208 2h3m140 0h3m34 0h3m26 0h3m-64 1h3m-22 2h3m23 3h3m16 1h3m-68 1h3m61 2h3m-72 2h3m-49 1h3m36 0h3m102 0h3m2 0h3m-130 1h3m43 2h3m32 0h3m-151 1h3m174 0h3m11 0h3m-73 1h3m16 0h3m-86 5h3m91 0h3m-126 4h3m34 1h3m61 0h3m7 0h3m-84 1h3m116 0h3m3 1h3m-132 3h3m73 1h3m-2 1h3m-32 1h3m-20 1h3m84 0h3m-6 1h3m18 0h3m-2 1h3m-131 1h3m97 0h3m-122 1h3m42 1h3m26 0h3m92 0h3m-146 1h3m15 0h3m58 0h3m-111 1h3m46 0h3m82 0h3m-135 1h3m14 0h3m75 0h3m-56 2h3m69 0h3m-67 1h3m44 0h3m-117 1h3m6 0h3m125 1h3m16 0h3m-51 1h3m-70 2h3m38 0h3m54 0h3m-127 1h3m89 0h3m0 0h3m-76 2h3m9 0h3m0 0h3m105 1h3m-117 1h3m45 0h3m68 0h3m-107 1h3m26 0h3m39 0h3m-2 0h3m19 0h3m-26 1h3m13 0h3m-69 1h3m49 0h3m-154 1h3m105 0h3m6 0h3m16 0h3m-36 1h3m-7 1h3m-44 1h3m66 0h3m-1 0h3m9 1h3m78 0h3m-118 1h3m8 0h3m59 0h3m-154 1h3m59 0h3m2 1h3m-42 1h3m26 0h3m12 0h3m92 0h3m0 0h3m-65 1h3m-42 1h3m24 0h3m-14 1h3m17 1h3m-50 1h3m-16 1h3m33 0h3m25 0h3m37 0h3m18 0h3m-137 1h3m13 0h3m117 0h3m-88 1h3m8 0h3m7 0h3m11 0h3m74 0h3m-155 1h3m6 0h3m52 0h3m23 0h3m18 0h3m-79 1h3m-54 1h3m43 0h3m68 0h3m-78 1h3m88 0h3m-111 1h3m-2 0h3m21 0h3m31 0h3m-57 1h3m45 0h3m3 0h3m36 0h3m-3 0h3m-152 2h3m60 0h3m1 0h3m80 0h3m-122 1h3m46 0h3m-133 1h3m173 0h3m-179 1h3m143 0h3m61 0h3m-108 1h3m25 0h3m11 0h3m37 0h3m-83 1h3m81 0h3m-85 1h3m-70 1h3m116 0h3m44 0h3m9 0h3m-109 1h3m22 0h3m-82 1h3m97 0h3m28 0h3m-114 1h3m13 0h3m1 0h3m35 0h3m3 0h3m37 0h3m-120 1h3m22 0h3m15 0h3m24 0h3m15 0h3m41 0h3m-106 1h3m33 0h3m-20 1h3m-44 1h3m26 0h3m34 0h3m35 0h3m-82 1h3m4 0h3m66 0h3m-81 1h3m4 0h3m0 0h3m23 0h3m56 0h3m-142 1h3m32 0h3m3 0h3m52 0h3m61 0h3m-108 1h3m9 0h3m26 0h3m31 0h3m15 0h3m7 0h3m-175 1h3m98 0h3m-2 0h3m39 0h3m52 0h3m-207 1h3m52 0h3m-1 0h3m8 0h3m7 0h3m-1 0h3m5 0h3m5 0h3m7 0h3m8 0h3m-22 1h3m0 0h3m0 0h3m6 0h3m36 0h3m-67 1h3m0 0h3m-3 0h3m26 0h3m15 0h3m-122 1h3m2 0h3m20 0h3m48 0h3m64 0h3m-171 1h3m93 0h3m66 0h3m-176 1h3m58 0h3m14 0h3m20 0h3m99 0h3m-154 1h3m68 0h3m-3 1h3m19 0h3m61 0h3m-70 1h3m-29 1h3m7 0h3m22 0h3m15 0h3m28 0h3m-139 1h3m1 0h3m14 0h3m18 0h3m39 0h3m43 0h3m-161 1h3m44 0h3m22 0h3m31 0h3m9 0h3m-1 0h3m-76 1h3m163 0h3m-156 1h3m-1 0h3m44 0h3m-106 1h3m114 0h3m2 0h3m-135 1h3m37 0h3m33 0h3m54 0h3m0 0h3m5 0h3m-153 1h3m17 0h3m87 0h3m-2 0h3m45 0h3m39 0h3m-162 1h3m111 0h3m-97 1h3m139 0h3m-207 1h3m53 0h3m51 0h3m22 0h3m-87 1h3m12 0h3m47 0h3m18 0h3m-37 1h3m-30 1h3m-40 1h3m9 0h3m51 0h3m-106 1h3m17 0h3m17 0h3m78 0h3m-73 1h3m83 0h3m-126 1h3m29 0h3m-2 0h3m9 0h3m34 0h3m7 0h3m1 0h3m-94 1h3m-56 1h3m69 0h3m-30 1h3m137 0h3m-143 1h3m17 0h3m2 0h3m0 0h3m0 0h3m12 0h3m6 0h3m36 0h3m28 0h3m23 0h3m-155 1h3m7 0h3m34 0h3m5 0h3m18 0h3m5 0h3m36 0h3m-126 1h3m13 0h3m26 0h3m13 0h3m-2 0h3m74 0h3m-108 1h3m80 0h3m-61 1h3m0 0h3m16 0h3m92 0h3m-165 1h3m29 0h3m-1 0h3m28 0h3m23 0h3m7 0h3m0 0h3m-92 1h3m11 0h3m0 0h3m-2 0h3m6 0h3m12 0h3m60 0h3m-130 1h3m3 0h3m-3 0h3m30 0h3m14 0h3m18 0h3m-3 0h3m1 0h3m0 0h3m-100 1h3m75 0h3m6 0h3m0 0h3m-68 1h3m14 0h3m9 0h3m43 0h3m34 0h3m-117 1h3m55 0h3m47 0h3m-156 1h3m41 0h3m51 0h3m0 0h3m76 0h3m-155 1h3m38 0h3m59 0h3m18 0h3m-134 1h3m55 0h3m4 0h3m41 0h3m-109 1h3m35 0h3m18 0h3m2 0h3m26 0h3m8 0h3m20 0h3m10 0h3m-109 1h3m13 0h3m52 0h3m0 0h3m28 0h3m-2 0h3m-135 1h3m15 0h3m65 0h3m-1 0h3m10 0h3m1 0h3m-3 0h3m1 0h3m51 0h3m-180 1h3m14 0h3m5 0h3m28 0h3m21 0h3m2 0h3m6 1h3m3 0h3m3 0h3m-2 0h3m17 0h3m-122 1h3m16 0h3m5 0h3m16 0h3m30 0h3m11 1h3m45 0h3m26 0h3m40 0h3m-173 1h3m34 0h3m4 0h3m109 0h3m-179 1h3m58 0h3m8 0h3m-51 1h3m29 0h3m10 0h3m10 0h3m16 0h3m37 0h3m6 1h3m-198 1h3m21 0h3m36 0h3m-2 0h3m9 0h3m15 0h3m1 0h3m3 0h3m16 0h3m3 2h3m-119 1h3m29 0h3m59 0h3m3 0h3m-103 1h3m90 0h3m6 0h3m45 0h3m14 0h3m21 0h3m-163 1h3m116 0h3m17 0h3m-239 1h3m92 0h3m48 0h3m78 0h3m-192 1h3m126 0h3m50 0h3m-95 1h3m28 0h3m-81 1h3m27 0h3m14 0h3m11 0h3m77 0h3m-149 1h3m87 0h3m1 0h3m12 0h3m3 0h3m19 0h3m6 0h3m28 0h3m-210 1h3m70 0h3m20 0h3m42 0h3m13 0h3m2 0h3m32 0h3m4 0h3m-183 1h3m11 0h3m63 0h3m2 0h3m0 0h3m-43 1h3m3 0h3m24 0h3m2 0h3m6 0h3m-67 1h3m37 0h3m20 0h3m-103 1h3m19 0h3m33 0h3m121 0h3m30 0h3m-187 1h3m46 0h3m60 0h3m-92 1h3m26 0h3m62 0h3m-96 1h3m15 0h3m66 2h3m-87 1h3m64 0h3m-42 1h3m26 0h3m0 0h3m17 0h3m64 0h3m-168 1h3m36 0h3m34 0h3m18 0h3m-2 0h3m96 0h3m-196 1h3m22 0h3m20 0h3m-1 0h3m-29 1h3m161 0h3m-255 2h3m93 0h3m5 0h3m-26 1h3m79 0h3m-88 1h3m21 0h3m-39 1h3m7 0h3m33 0h3m1 0h3m30 0h3m15 0h3m37 0h3m-103 1h3m11 0h3m-3 0h3m40 0h3m-18 1h3m21 0h3m-60 1h3m-79 1h3m23 0h3m35 0h3m28 0h3m27 0h3m10 0h3m-117 1h3m65 0h3m-157 1h3m89 0h3m2 0h3m44 0h3m-6 1h3m60 0h3m15 0h3m-71 1h3m0 0h3m24 0h3m-49 1h3m-72 1h3m60 0h3m10 0h3m1 0h3m-106 1h3m50 0h3m20 0h3m-57 1h3m12 0h3m7 0h3m9 0h3m50 0h3m5 0h3m7 0h3m19 0h3m-47 1h3m-35 2h3m10 0h3m4 0h3m20 0h3m0 0h3m-132 1h3m102 0h3m5 0h3m93 0h3m11 0h3m-111 1h3m102 0h3m-217 1h3m60 0h3m25 0h3m4 0h3m2 0h3m0 0h3m-39 2h3m28 0h3m-47 1h3m10 0h3m14 0h3m25 0h3m17 0h3m47 0h3m-115 1h3m-31 1h3m33 2h3m-29 1h3m8 2h3m31 0h3m-66 1h3m-38 1h3m96 0h3m-35 1h3m-19 1h3m33 0h3m21 0h3m-99 1h3m0 0h3m21 0h3m13 0h3m8 0h3m14 0h3m-82 1h3m99 0h3m56 0h3m-77 1h3m18 0h3m59 0h3m-117 1h3m58 0h3m30 0h3m-127 1h3m78 0h3m12 0h3m-43 1h3m-145 2h3m131 0h3m1 0h3m82 0h3m-83 3h3m7 0h3m-40 1h3m7 0h3m-81 1h3m67 0h3m119 0h3m-134 1h3m9 1h3m7 0h3m45 0h3m-150 1h3m127 0h3m23 0h3m-158 1h3m30 0h3m17 0h3m51 0h3m59 1h3m-14 1h3m-158 1h3m110 0h3m-43 1h3m70 0h3m-90 1h3m156 0h3m-200 1h3m37 0h3m76 0h3m-134 2h3m46 0h3m15 0h3m7 0h3m30 2h3m28 0h3m-106 1h3m43 0h3m-22 2h3m9 0h3m31 0h3m47 1h3m63 0h3m-271 1h3m63 0h3m72 0h3m99 1h3m-89 2h3m55 0h3m-34 1h3m-161 2h3m97 0h3m0 0h3m-18 1h3m18 0h3m59 0h3m18 0h3m-64 1h3m-46 1h3m-20 2h3m24 0h3m23 0h3m-26 1h3m-40 2h3m-21 1h3m16 1h3m46 0h3m10 0h3m-23 1h3m87 2h3m-198 1h3m150 1h3m24 0h3m-1 0h3m0 1h3m-140 1h3m35 1h3m78 0h3m3 2h3m-68 1h3m20 0h3m39 0h3m24 0h3m-66 1h3m-4 3h3m-86 1h3m48 0h3m42 0h3m2 1h3m30 2h3m-100 1h3m-3 0h3m26 0h3m9 1h3m10 0h3m53 0h3m-79 1h3m-37 1h3m7 4h3m-12 4h3m8 0h3m5 6h3m-60 2h3m134 2h3m-172 2h3m40 0h3m5 2h3m27 0h3m13 0h3m65 4h3m-52 1h3m-1 0h3m8 2h3m-19 2h3m-137 2h3m107 0h3m25 0h3m-80 7h3m70 1h3m12 1h3m-1 2h3m2 4h3m89 7h3m-154 4h3m4 7h3m46 4h3m-40 8h3m63 2h3m-22 16h3m-148 12h3m93 33h3m-70 9h3" stroke-opacity="0.15"/><path d="M1030 479h3m-8 11h3m84 3h3m-111 12h3m50 3h3m45 0h3m-48 5h3m-83 4h3m59 4h3m17 3h3m-80 5h3m32 0h3m20 3h3m86 2h3m-45 1h3m-41 4h3m-29 1h3m-14 1h3m36 1h3m-2 0h3m4 2h3m13 0h3m21 1h3m-14 1h3m-56 5h3m13 1h3m6 0h3m-33 1h3m46 1h3m-39 1h3m8 0h3m23 0h3m-113 1h3m58 0h3m21 0h3m-57 2h3m27 0h3m-1 1h3m8 1h3m23 0h3m26 0h3m-121 1h3m-2 0h3m67 0h3m5 0h3m23 0h3m-60 1h3m-2 0h3m8 0h3m-18 1h3m-15 1h3m-59 1h3m63 0h3m24 0h3m-14 1h3m89 0h3m-163 1h3m36 0h3m-58 1h3m47 0h3m76 0h3m-67 1h3m-22 1h3m10 1h3m25 0h3m13 0h3m17 0h3m-4 2h3m-65 1h3m31 0h3m3 0h3m-70 1h3m22 0h3m69 0h3m-91 1h3m14 0h3m7 0h3m6 1h3m4 1h3m-62 1h3m32 0h3m32 0h3m10 0h3m3 0h3m-147 1h3m37 0h3m27 0h3m13 0h3m47 0h3m-58 1h3m5 0h3m17 0h3m-22 1h3m4 1h3m-1 0h3m-58 1h3m10 0h3m8 0h3m14 0h3m15 0h3m-42 1h3m34 0h3m7 0h3m47 0h3m-55 1h3m64 0h3m-74 1h3m64 0h3m-140 1h3m18 0h3m18 0h3m11 0h3m-28 1h3m15 0h3m-35 1h3m30 0h3m2 0h3m3 0h3m4 0h3m9 0h3m-1 0h3m2 0h3m-10 1h3m-28 1h3m59 0h3m-127 1h3m43 0h3m9 0h3m14 0h3m-1 0h3m14 1h3m53 0h3m-135 1h3m21 0h3m2 0h3m23 0h3m20 0h3m-91 1h3m29 0h3m17 0h3m49 0h3m-3 0h3m9 0h3m-161 1h3m47 0h3m65 0h3m0 0h3m2 0h3m-89 1h3m31 0h3m5 0h3m2 0h3m21 0h3m5 0h3m15 0h3m-89 1h3m17 0h3m26 0h3m44 0h3m-38 1h3m-3 0h3m11 0h3m0 0h3m4 0h3m27 0h3m-135 1h3m98 0h3m-68 1h3m90 0h3m-61 1h3m-2 0h3m29 0h3m-37 1h3m22 0h3m-1 0h3m-41 1h3m-2 0h3m8 0h3m-2 0h3m7 0h3m22 0h3m-54 1h3m9 0h3m-3 0h3m0 0h3m1 0h3m26 0h3m1 0h3m-101 1h3m35 0h3m13 0h3m29 0h3m0 0h3m-152 1h3m11 0h3m94 0h3m17 0h3m20 0h3m-2 0h3m14 0h3m-115 1h3m37 0h3m23 0h3m18 0h3m7 0h3m-2 0h3m0 0h3m-96 1h3m51 0h3m13 0h3m-65 1h3m10 0h3m12 0h3m3 0h3m7 1h3m-2 0h3m-2 0h3m4 0h3m-66 1h3m10 0h3m4 0h3m41 0h3m-52 1h3m20 0h3m-1 0h3m5 0h3m37 0h3m7 0h3m39 0h3m-159 1h3m54 0h3m26 0h3m33 0h3m-107 1h3m1 0h3m16 0h3m36 0h3m7 0h3m8 0h3m8 0h3m3 0h3m-126 1h3m34 0h3m18 0h3m18 0h3m-1 0h3m15 0h3m1 0h3m18 0h3m-95 1h3m35 0h3m13 0h3m5 0h3m-85 1h3m49 0h3m13 0h3m2 0h3m31 0h3m-82 1h3m39 0h3m16 0h3m-1 0h3m-156 1h3m75 0h3m15 0h3m11 0h3m22 0h3m9 0h3m2 0h3m11 0h3m15 0h3m-73 1h3m-3 0h3m-47 1h3m24 0h3m-2 0h3m3 0h3m0 0h3m1 0h3m13 0h3m13 0h3m35 0h3m-57 1h3m-65 1h3m18 0h3m45 0h3m2 0h3m-3 0h3m0 0h3m14 0h3m-114 1h3m54 0h3m4 0h3m2 0h3m4 0h3m9 0h3m0 0h3m8 0h3m15 0h3m6 0h3m-117 1h3m6 0h3m24 0h3m16 0h3m26 0h3m25 0h3m-131 1h3m58 0h3m3 0h3m20 0h3m4 0h3m-41 1h3m38 0h3m18 0h3m3 0h3m-64 1h3m21 0h3m11 0h3m-48 1h3m1 0h3m44 0h3m2 0h3m-1 0h3m-88 1h3m32 0h3m6 0h3m3 0h3m6 0h3m46 0h3m-71 1h3m6 0h3m27 0h3m-2 0h3m48 0h3m-135 1h3m59 0h3m22 0h3m6 0h3m2 0h3m1 0h3m-46 1h3m38 0h3m-139 1h3m39 0h3m17 0h3m60 0h3m8 0h3m-146 1h3m50 0h3m27 0h3m9 0h3m0 0h3m-46 1h3m38 0h3m-3 0h3m10 0h3m18 0h3m11 0h3m5 0h3m-1 0h3m-56 1h3m12 0h3m13 0h3m-2 0h3m7 0h3m-60 1h3m15 0h3m6 0h3m0 0h3m-72 1h3m1 0h3m3 0h3m4 0h3m8 0h3m-1 0h3m25 0h3m8 0h3m43 0h3m-148 1h3m12 0h3m5 0h3m-1 0h3m4 0h3m-3 0h3m30 0h3m56 0h3m16 0h3m-134 1h3m11 0h3m40 0h3m-2 0h3m22 0h3m-2 0h3m14 0h3m0 0h3m23 0h3m-132 1h3m20 0h3m42 0h3m11 0h3m2 0h3m21 0h3m51 0h3m-152 1h3m10 0h3m15 0h3m4 0h3m14 0h3m48 0h3m2 0h3m6 0h3m-121 1h3m12 0h3m4 0h3m19 0h3m20 0h3m13 0h3m1 0h3m-116 1h3m66 0h3m58 0h3m-99 1h3m2 0h3m-1 0h3m-2 0h3m5 0h3m-2 0h3m-1 0h3m20 0h3m8 0h3m-92 1h3m25 0h3m4 0h3m-2 0h3m14 0h3m19 0h3m49 0h3m-101 1h3m54 0h3m-103 1h3m17 0h3m-2 0h3m0 0h3m63 0h3m24 0h3m0 0h3m2 0h3m-2 0h3m37 0h3m-121 1h3m6 0h3m9 0h3m25 0h3m17 0h3m7 0h3m-1 0h3m-70 1h3m5 0h3m-3 0h3m-3 0h3m33 0h3m-73 1h3m14 0h3m15 0h3m1 0h3m11 0h3m3 0h3m33 0h3m-99 1h3m3 0h3m12 0h3m-1 0h3m7 0h3m7 0h3m11 0h3m41 0h3m22 0h3m14 0h3m-167 1h3m7 0h3m19 0h3m21 0h3m52 0h3m22 0h3m-128 1h3m24 0h3m5 0h3m9 0h3m2 0h3m3 0h3m-2 0h3m7 0h3m-2 0h3m-101 1h3m40 0h3m4 0h3m26 0h3m3 0h3m40 0h3m-102 1h3m6 0h3m-1 0h3m8 0h3m32 0h3m-2 0h3m22 0h3m21 0h3m-80 1h3m6 0h3m10 0h3m55 0h3m-131 1h3m-1 0h3m15 0h3m17 0h3m17 0h3m-1 0h3m4 0h3m27 0h3m1 0h3m48 0h3m-121 1h3m1 0h3m-1 0h3m11 0h3m14 0h3m34 0h3m0 0h3m-64 1h3m-3 0h3m0 0h3m22 0h3m2 0h3m5 0h3m4 0h3m-1 0h3m15 0h3m-69 1h3m-1 0h3m5 0h3m13 0h3m22 0h3m7 0h3m19 0h3m1 0h3m-120 1h3m9 0h3m1 0h3m7 0h3m-2 0h3m11 0h3m25 0h3m-2 0h3m21 0h3m-103 1h3m13 0h3m-3 0h3m7 0h3m24 0h3m0 0h3m34 0h3m-88 1h3m7 0h3m7 0h3m6 0h3m5 0h3m4 0h3m4 0h3m4 0h3m0 0h3m14 0h3m3 0h3m-1 0h3m16 0h3m13 0h3m-120 1h3m0 0h3m19 0h3m0 0h3m13 0h3m-1 0h3m2 0h3m-3 0h3m-2 0h3m6 0h3m-1 0h3m-69 1h3m3 0h3m9 0h3m-3 0h3m12 0h3m30 0h3m-2 0h3m12 0h3m4 0h3m-117 1h3m19 0h3m-2 0h3m9 0h3m2 0h3m0 0h3m3 0h3m-2 0h3m13 0h3m5 0h3m0 0h3m11 0h3m6 0h3m-1 0h3m-53 1h3m9 0h3m25 0h3m43 0h3m33 0h3m-157 1h3m25 0h3m9 0h3m-68 1h3m22 0h3m-2 0h3m7 0h3m2 0h3m68 0h3m-78 1h3m32 0h3m13 0h3m-52 1h3m17 0h3m-1 0h3m-1 0h3m21 0h3m6 0h3m-3 0h3m-1 0h3m0 0h3m66 0h3m-145 1h3m40 0h3m9 0h3m8 0h3m15 0h3m-76 1h3m3 0h3m1 0h3m12 0h3m48 0h3m31 0h3m-141 1h3m42 0h3m11 0h3m-68 1h3m18 0h3m36 0h3m14 0h3m5 0h3m13 0h3m-35 1h3m-2 0h3m4 0h3m1 0h3m13 0h3m8 0h3m10 0h3m2 0h3m-93 1h3m14 0h3m-2 0h3m12 0h3m7 0h3m-70 1h3m1 0h3m9 0h3m5 0h3m12 1h3m0 0h3m-2 0h3m63 0h3m9 0h3m-164 1h3m35 0h3m27 0h3m-1 0h3m8 0h3m13 0h3m30 0h3m-128 1h3m49 0h3m1 0h3m38 0h3m62 0h3m-122 1h3m11 0h3m4 0h3m2 0h3m5 0h3m61 0h3m14 0h3m15 0h3m-167 1h3m-2 0h3m27 0h3m4 0h3m-2 0h3m12 0h3m-3 0h3m6 0h3m-2 0h3m-2 0h3m14 0h3m1 0h3m30 0h3m28 0h3m-140 1h3m34 0h3m26 0h3m2 0h3m-3 0h3m7 0h3m40 0h3m-146 1h3m31 0h3m38 0h3m5 0h3m8 0h3m12 0h3m2 0h3m-45 1h3m17 0h3m11 0h3m2 0h3m19 0h3m-125 1h3m27 0h3m-2 0h3m-1 0h3m8 0h3m19 0h3m-2 0h3m0 0h3m-1 0h3m-1 0h3m-1 0h3m-3 0h3m48 0h3m-104 1h3m16 0h3m-3 0h3m38 0h3m20 0h3m-80 1h3m4 0h3m21 0h3m-1 0h3m22 0h3m-1 0h3m3 0h3m-120 1h3m83 0h3m-3 0h3m31 0h3m3 0h3m5 0h3m-89 1h3m17 0h3m-3 0h3m4 0h3m7 0h3m-2 0h3m16 0h3m14 0h3m-119 1h3m15 0h3m20 0h3m69 0h3m-2 0h3m64 0h3m-151 1h3m14 0h3m16 0h3m65 0h3m-2 0h3m-94 1h3m2 0h3m-1 0h3m1 0h3m4 0h3m3 0h3m49 0h3m18 0h3m-144 1h3m10 0h3m25 0h3m29 0h3m6 0h3m-62 1h3m16 0h3m-2 0h3m13 0h3m1 0h3m-1 0h3m7 0h3m29 0h3m-1 0h3m0 0h3m-80 1h3m10 0h3m20 0h3m0 0h3m0 0h3m5 0h3m9 0h3m5 0h3m12 0h3m-97 1h3m29 0h3m22 0h3m5 0h3m-46 1h3m26 0h3m4 0h3m2 0h3m1 0h3m-13 1h3m14 0h3m19 0h3m2 0h3m7 0h3m-148 1h3m35 0h3m3 0h3m69 0h3m-68 1h3m16 0h3m15 0h3m14 0h3m25 0h3m-115 1h3m-1 0h3m24 0h3m39 0h3m21 0h3m-91 1h3m56 0h3m10 0h3m-84 1h3m5 0h3m8 0h3m0 0h3m1 0h3m26 0h3m16 0h3m31 0h3m-68 1h3m0 0h3m3 0h3m1 0h3m3 0h3m2 0h3m6 0h3m-114 1h3m24 0h3m33 0h3m18 0h3m31 0h3m41 0h3m-101 1h3m1 0h3m9 0h3m20 0h3m-58 1h3m-1 0h3m36 0h3m10 0h3m19 0h3m-15 1h3m1 0h3m7 0h3m-85 1h3m72 0h3m22 0h3m10 0h3m-162 1h3m29 0h3m13 0h3m17 0h3m-2 0h3m17 0h3m14 0h3m32 0h3m1 0h3m8 0h3m28 0h3m-91 1h3m8 0h3m4 0h3m35 0h3m50 0h3m-155 1h3m11 0h3m63 0h3m4 0h3m60 0h3m-133 1h3m-2 0h3m76 0h3m-105 1h3m32 0h3m2 0h3m-1 0h3m2 0h3m17 0h3m3 0h3m-1 0h3m-20 1h3m-22 1h3m8 0h3m-33 1h3m28 0h3m16 0h3m-120 1h3m60 0h3m27 0h3m-110 1h3m75 0h3m23 0h3m50 0h3m-107 1h3m20 0h3m40 0h3m57 0h3m-114 1h3m20 0h3m62 0h3m-120 1h3m45 0h3m11 0h3m8 0h3m33 0h3m2 0h3m9 0h3m-89 1h3m51 0h3m9 0h3m-103 1h3m23 0h3m48 0h3m9 0h3m8 0h3m-53 1h3m24 0h3m26 0h3m-76 1h3m10 0h3m31 0h3m-58 1h3m-35 1h3m100 0h3m-60 1h3m23 0h3m-19 1h3m6 0h3m-34 1h3m26 1h3m15 1h3m1 0h3m13 0h3m-86 1h3m34 0h3m44 0h3m-3 0h3m-39 1h3m-1 0h3m0 0h3m14 0h3m4 0h3m-153 1h3m120 0h3m-43 2h3m37 0h3m-47 1h3m24 0h3m31 0h3m-58 1h3m111 0h3m0 1h3m-183 1h3m62 0h3m86 0h3m-56 1h3m-39 1h3m57 0h3m9 0h3m39 0h3m-144 1h3m70 0h3m27 1h3m-60 1h3m93 1h3m-94 1h3m42 0h3m-112 2h3m12 0h3m76 0h3m-40 1h3m22 2h3m-13 1h3m-1 0h3m22 0h3m-7 2h3m28 0h3m4 0h3m7 0h3m-137 1h3m46 0h3m22 0h3m25 0h3m-71 1h3m25 1h3m1 0h3m69 0h3m-23 1h3m-56 1h3m5 0h3m23 0h3m-78 1h3m-2 0h3m10 0h3m1 0h3m23 0h3m6 0h3m10 2h3m-63 1h3m-12 1h3m52 2h3m40 0h3m-44 1h3m-111 1h3m65 2h3m55 0h3m14 1h3m-38 1h3m-80 4h3m50 1h3m55 16h3m-79 7h3m15 14h3m37 1h3m-101 5h3m92 0h3m6 47h3" stroke-opacity="0.2"/><path d="M1026 1179h3m22 0h3m-135 1h3m36 0h3m18 0h3m-3 0h3m2 0h3m59 0h3m2 0h3m-1 0h3m-195 1h3m67 0h3m14 0h3m10 0h3m0 0h3m15 0h3m8 0h3m14 0h3m2 0h3m7 0h3m7 0h3m2 0h3m7 0h3m-157 1h3m15 0h3m12 0h3m-1 0h3m3 0h3m16 0h3m22 0h3m12 0h3m4 0h3m-2 0h3m29 0h3m-3 0h3m-1 0h3m9 0h3m-106 1h3m17 0h3m7 0h3m1 0h3m79 0h3m-1 0h3m-2 0h3m19 0h3m41 0h3m-258 1h3m78 0h3m15 0h3m29 0h3m7 0h3m12 0h3m17 0h3m14 0h3m2 0h3m11 0h3m49 0h3m-155 1h3m4 0h3" stroke-opacity="0.22"/><path d="M922 373h3m-15 27h3m7 11h3m45 3h3m135 17h3" stroke-opacity="0.3"/></g>
<line x1="152.2" y1="456.4" x2="152.2" y2="577.0" stroke="#858585" stroke-width="1.2"/>
<line x1="151.7" y1="576.4" x2="271.9" y2="576.4" stroke="#6a6a6a" stroke-width="1.1"/>
<path d="M148.7 575.6H152.2M148.7 553.7H152.2M148.7 531.9H152.2M148.7 510.0H152.2M148.7 488.1H152.2M148.7 466.2H152.2M152.2 576.4V579.9M173.9 576.4V579.9M195.7 576.4V579.9M217.4 576.4V579.9M239.2 576.4V579.9M260.9 576.4V579.9" stroke="#222" stroke-width="1.3" fill="none"/>
<path d="M150.2 569.0H152.2M150.2 565.2H152.2M150.2 562.4H152.2M150.2 560.3H152.2M150.2 558.6H152.2M150.2 557.1H152.2M150.2 555.8H152.2M150.2 554.7H152.2M150.2 547.1H152.2M150.2 543.3H152.2M150.2 540.6H152.2M150.2 538.4H152.2M150.2 536.7H152.2M150.2 535.2H152.2M150.2 534.0H152.2M150.2 532.9H152.2M150.2 525.3H152.2M150.2 521.4H152.2M150.2 518.7H152.2M150.2 516.6H152.2M150.2 514.8H152.2M150.2 513.4H152.2M150.2 512.1H152.2M150.2 511.0H152.2M150.2 503.4H152.2M150.2 499.5H152.2M150.2 496.8H152.2M150.2 494.7H152.2M150.2 493.0H152.2M150.2 491.5H152.2M150.2 490.2H152.2M150.2 489.1H152.2M150.2 481.5H152.2M150.2 477.7H152.2M150.2 474.9H152.2M150.2 472.8H152.2M150.2 471.1H152.2M150.2 469.6H152.2M150.2 468.3H152.2M150.2 467.2H152.2M150.2 459.6H152.2M158.7 576.4V578.4M162.6 576.4V578.4M165.3 576.4V578.4M167.4 576.4V578.4M169.1 576.4V578.4M170.6 576.4V578.4M171.8 576.4V578.4M173.0 576.4V578.4M180.5 576.4V578.4M184.3 576.4V578.4M187.0 576.4V578.4M189.2 576.4V578.4M190.9 576.4V578.4M192.3 576.4V578.4M193.6 576.4V578.4M194.7 576.4V578.4M202.2 576.4V578.4M206.1 576.4V578.4M208.8 576.4V578.4M210.9 576.4V578.4M212.6 576.4V578.4M214.1 576.4V578.4M215.3 576.4V578.4M216.5 576.4V578.4M224.0 576.4V578.4M227.8 576.4V578.4M230.5 576.4V578.4M232.7 576.4V578.4M234.4 576.4V578.4M235.8 576.4V578.4M237.1 576.4V578.4M238.2 576.4V578.4M245.7 576.4V578.4M249.6 576.4V578.4M252.3 576.4V578.4M254.4 576.4V578.4M256.1 576.4V578.4M257.6 576.4V578.4M258.8 576.4V578.4M260.0 576.4V578.4M267.5 576.4V578.4M271.3 576.4V578.4" stroke="#3a3a3a" stroke-width="0.85" fill="none"/>
<text x="154.2" y="587.3" font-size="4.8" fill="#333" letter-spacing="-0.2">10<tspan font-size="4.2" dy="-2.9" fill="#222">0</tspan></text>
<text x="175.9" y="587.3" font-size="4.8" fill="#333" letter-spacing="-0.2">10<tspan font-size="4.2" dy="-2.9" fill="#222">1</tspan></text>
<text x="197.7" y="587.3" font-size="4.8" fill="#333" letter-spacing="-0.2">10<tspan font-size="4.2" dy="-2.9" fill="#222">2</tspan></text>
<text x="219.4" y="587.3" font-size="4.8" fill="#333" letter-spacing="-0.2">10<tspan font-size="4.2" dy="-2.9" fill="#222">3</tspan></text>
<text x="241.2" y="587.3" font-size="4.8" fill="#333" letter-spacing="-0.2">10<tspan font-size="4.2" dy="-2.9" fill="#222">4</tspan></text>
<text x="262.9" y="587.3" font-size="4.8" fill="#333" letter-spacing="-0.2">10<tspan font-size="4.2" dy="-2.9" fill="#222">5</tspan></text>
<text x="210.2" y="598.9" font-size="5.1" fill="#222" text-anchor="middle">Comp-APC-A</text>
<text x="208.2" y="554.5" font-size="5.1" fill="#111" text-anchor="middle">Comp-APC-A, Comp-PE-A subset</text>
<text x="208.2" y="562.5" font-size="5.1" fill="#111" text-anchor="middle">1.81</text>
<rect x="218.6" y="467.0" width="51.5" height="44.2" fill="none" stroke="#000" stroke-width="2"/>
<text x="315.8" y="439.2" font-size="10.2" font-weight="bold" stroke="#000" stroke-width="0.25" textLength="69.3" lengthAdjust="spacingAndGlyphs">BoLA-1*023:01-</text>
<text x="338.6" y="450.8" font-size="10.2" font-weight="bold" stroke="#000" stroke-width="0.25" textLength="15" lengthAdjust="spacingAndGlyphs">Tp9</text>
<text x="353.8" y="453.1" font-size="6.8" font-weight="bold" stroke="#000" stroke-width="0.15">A8</text>
<rect x="275.7" y="456.9" width="119.69999999999999" height="119.5" fill="#fff" stroke="#8a8a8a" stroke-width="1.1"/>
<g transform="translate(275.7,457.0) scale(0.1)" stroke="#5216aa" stroke-width="7.0" stroke-linecap="round" fill="none"><path d="M779 268h3m249 64h3m154 14h3m-176 138h3m-69 31h3m97 39h3m30 5h3m-116 1h3m-76 25h3m4 13h3m62 3h3m-29 38h3m41 10h3m76 3h3m-249 1h3m346 23h3m-200 10h3m189 7h3m-97 20h3m85 5h3m-137 6h3m-58 8h3m-135 1h3m141 6h3m-113 7h3m-101 22h3m309 4h3m-126 19h3m97 7h3m-15 2h3m-13 5h3m-60 7h3m-75 2h3m181 10h3m-174 12h3m66 6h3m-203 16h3m73 1h3m27 14h3m-65 4h3m171 14h3m-85 1h3m-4 48h3m-32 22h3m64 20h3m2 14h3m-185 19h3m319 4h3" stroke-opacity="0.14"/><path d="M966 428h3m86 4h3m-45 4h3m-18 4h3m3 14h3m19 13h3m-26 18h3m63 6h3m-22 3h3m-4 17h3m7 1h3m-33 1h3m25 2h3m-8 2h3m-112 3h3m73 1h3m5 1h3m30 1h3m-145 6h3m66 1h3m-15 2h3m5 3h3m33 5h3m58 0h3m6 1h3m28 0h3m-54 1h3m-1 0h3m-57 8h3m9 1h3m-6 3h3m35 0h3m41 0h3m-89 1h3m55 1h3m3 1h3m-55 1h3m-35 1h3m-24 2h3m61 1h3m32 2h3m-72 1h3m5 1h3m-41 1h3m31 2h3m14 1h3m19 2h3m-104 2h3m19 1h3m88 0h3m-43 1h3m-28 1h3m104 1h3m-70 1h3m26 1h3m-89 2h3m-26 1h3m131 1h3m-125 1h3m77 0h3m-3 0h3m34 0h3m-83 1h3m-14 1h3m36 1h3m-54 1h3m30 0h3m25 0h3m-82 1h3m81 1h3m-42 1h3m46 0h3m-69 2h3m133 0h3m-131 1h3m12 0h3m29 1h3m24 1h3m51 0h3m-173 4h3m137 0h3m-52 1h3m-33 1h3m12 1h3m-84 1h3m36 0h3m6 0h3m-30 1h3m54 0h3m-34 1h3m18 0h3m55 0h3m-29 1h3m-82 1h3m13 0h3m-1 0h3m16 0h3m41 0h3m-166 2h3m110 0h3m7 1h3m50 0h3m2 1h3m-2 0h3m-95 1h3m3 0h3m45 0h3m-47 1h3m71 0h3m-15 2h3m-141 1h3m71 0h3m87 0h3m4 0h3m-133 1h3m63 0h3m20 1h3m0 0h3m81 1h3m-147 1h3m27 0h3m52 0h3m-55 2h3m31 0h3m-95 1h3m0 0h3m33 1h3m31 0h3m105 0h3m-217 4h3m42 0h3m49 0h3m49 0h3m-126 1h3m44 0h3m27 0h3m-2 0h3m-103 1h3m117 1h3m-98 1h3m34 0h3m-11 1h3m-36 1h3m61 0h3m35 0h3m-17 1h3m-97 1h3m90 0h3m-68 3h3m17 0h3m7 0h3m34 0h3m35 0h3m-124 1h3m75 0h3m16 0h3m-68 1h3m44 1h3m-92 1h3m55 1h3m-21 1h3m80 0h3m-43 1h3m-30 1h3m16 0h3m20 0h3m-21 1h3m11 0h3m-63 1h3m-2 0h3m45 0h3m12 0h3m-70 1h3m-46 1h3m66 0h3m38 0h3m-65 1h3m6 0h3m0 0h3m22 0h3m73 0h3m-128 1h3m33 0h3m6 0h3m47 0h3m-87 1h3m49 0h3m-38 1h3m3 0h3m28 0h3m-34 1h3m28 0h3m-66 1h3m-1 0h3m4 0h3m-1 0h3m35 0h3m-49 1h3m3 0h3m1 0h3m13 0h3m22 1h3m24 0h3m39 0h3m-124 1h3m10 0h3m0 0h3m3 0h3m36 0h3m2 0h3m-30 1h3m3 0h3m37 0h3m-102 1h3m8 0h3m30 0h3m9 0h3m39 0h3m-78 1h3m45 0h3m21 0h3m-36 1h3m5 0h3m12 1h3m-99 1h3m51 1h3m7 0h3m1 0h3m28 0h3m-22 1h3m-75 2h3m85 0h3m33 0h3m-69 1h3m-2 1h3m5 0h3m3 0h3m-56 1h3m50 0h3m-36 1h3m92 0h3m-90 1h3m-2 0h3m34 0h3m-20 1h3m4 0h3m2 0h3m-68 1h3m37 0h3m-75 1h3m27 0h3m58 0h3m24 0h3m-75 1h3m52 0h3m29 0h3m-146 1h3m101 0h3m21 0h3m-25 1h3m-2 0h3m-51 1h3m8 0h3m10 0h3m2 0h3m-62 1h3m74 0h3m0 0h3m-69 1h3m35 0h3m0 0h3m13 0h3m44 0h3m-186 1h3m60 0h3m44 0h3m16 0h3m24 0h3m-31 1h3m23 0h3m-16 1h3m-30 2h3m30 0h3m34 0h3m-101 1h3m28 0h3m2 1h3m18 0h3m16 0h3m-61 1h3m58 0h3m19 2h3m-96 1h3m23 1h3m12 0h3m2 0h3m6 0h3m-54 1h3m48 0h3m-97 1h3m36 0h3m1 1h3m-1 0h3m29 0h3m58 0h3m35 0h3m-164 1h3m56 0h3m5 0h3m-1 0h3m-9 1h3m33 0h3m26 0h3m-94 1h3m-2 0h3m6 0h3m7 0h3m41 0h3m-2 0h3m-23 1h3m4 0h3m-87 1h3m26 0h3m-7 1h3m100 0h3m-152 1h3m3 0h3m10 0h3m-2 0h3m37 0h3m19 0h3m-1 0h3m15 0h3m-45 1h3m24 1h3m7 0h3m36 0h3m-103 1h3m19 0h3m-2 0h3m26 0h3m-1 0h3m-60 1h3m126 0h3m-123 1h3m51 0h3m3 0h3m-107 1h3m27 0h3m40 0h3m-2 0h3m-2 0h3m-61 1h3m37 0h3m2 0h3m33 0h3m4 0h3m-128 1h3m10 0h3m15 0h3m10 0h3m3 0h3m35 0h3m38 0h3m24 0h3m-41 1h3m-62 1h3m99 0h3m-146 1h3m59 0h3m22 0h3m-3 0h3m8 0h3m23 0h3m-57 1h3m53 0h3m-101 1h3m69 0h3m6 0h3m33 0h3m11 0h3m-109 1h3m11 0h3m3 0h3m-2 0h3m35 0h3m30 0h3m-95 1h3m11 0h3m23 0h3m-56 1h3m15 0h3m-1 0h3m110 0h3m-184 1h3m32 0h3m12 0h3m7 0h3m-1 0h3m-1 0h3m88 0h3m-151 1h3m72 0h3m11 0h3m0 0h3m74 0h3m-130 1h3m57 0h3m18 0h3m19 0h3m-54 1h3m-104 1h3m5 0h3m11 0h3m37 0h3m4 0h3m0 0h3m31 0h3m-70 1h3m5 0h3m16 0h3m55 0h3m-120 1h3m18 0h3m22 0h3m0 0h3m76 0h3m-150 1h3m155 0h3m-109 1h3m1 0h3m33 0h3m-14 1h3m6 0h3m37 0h3m-72 1h3m-2 0h3m22 0h3m0 0h3m14 0h3m-92 1h3m44 0h3m69 0h3m12 0h3m-97 1h3m40 0h3m-116 1h3m60 0h3m7 0h3m52 0h3m0 0h3m-48 1h3m1 0h3m17 1h3m-2 0h3m19 0h3m-2 0h3m-2 0h3m-66 1h3m4 0h3m17 0h3m22 0h3m44 0h3m-120 3h3m58 0h3m20 0h3m10 0h3m13 0h3m-44 1h3m-51 1h3m12 0h3m11 0h3m2 0h3m-82 1h3m41 1h3m44 0h3m67 0h3m-166 1h3m53 0h3m1 0h3m40 0h3m17 0h3m-116 1h3m44 0h3m14 0h3m22 0h3m12 0h3m-150 1h3m101 0h3m108 0h3m-128 1h3m61 0h3m-118 1h3m2 0h3m0 0h3m25 0h3m3 0h3m14 0h3m0 0h3m17 0h3m18 0h3m4 0h3m-50 1h3m-5 1h3m47 0h3m0 0h3m-96 1h3m19 0h3m42 0h3m36 0h3m-104 1h3m46 0h3m-62 1h3m40 0h3m16 1h3m20 0h3m43 0h3m-144 1h3m111 0h3m18 0h3m-58 1h3m5 0h3m-3 0h3m-68 1h3m90 0h3m40 0h3m4 0h3m-216 1h3m91 0h3m5 0h3m4 0h3m-2 0h3m91 0h3m-173 1h3m58 0h3m11 0h3m94 0h3m-217 1h3m114 0h3m-3 0h3m14 0h3m2 0h3m1 0h3m-89 1h3m4 0h3m20 0h3m-1 1h3m38 0h3m11 0h3m65 0h3m-159 1h3m11 0h3m38 0h3m-2 0h3m-3 1h3m24 0h3m-59 1h3m13 0h3m13 0h3m29 0h3m7 0h3m5 0h3m21 0h3m43 0h3m-153 1h3m60 1h3m11 0h3m-12 1h3m-60 1h3m-148 1h3m67 0h3m35 0h3m2 0h3m23 0h3m10 0h3m47 0h3m-85 1h3m42 0h3m22 0h3m-70 1h3m-2 0h3m49 0h3m26 0h3m7 0h3m0 0h3m-117 1h3m42 1h3m81 0h3m-86 1h3m12 0h3m-1 0h3m30 0h3m-107 1h3m17 1h3m23 0h3m15 0h3m28 0h3m18 0h3m-2 0h3m5 0h3m-87 1h3m63 1h3m-62 1h3m3 0h3m-1 1h3m31 0h3m10 0h3m-37 1h3m36 0h3m29 0h3m-131 1h3m-1 0h3m0 0h3m44 0h3m51 0h3m-68 1h3m78 0h3m-117 3h3m18 0h3m24 0h3m22 0h3m-112 1h3m83 0h3m-28 1h3m23 0h3m121 0h3m-88 1h3m-12 1h3m-65 1h3m15 0h3m58 0h3m-156 1h3m50 0h3m-2 0h3m36 0h3m4 0h3m35 0h3m-41 1h3m38 0h3m-42 1h3m38 0h3m-121 1h3m68 0h3m17 0h3m-67 2h3m42 0h3m-69 2h3m26 0h3m-3 0h3m31 0h3m0 0h3m3 0h3m92 0h3m-117 1h3m101 0h3m-151 1h3m17 0h3m12 0h3m45 0h3m30 0h3m-78 2h3m24 1h3m38 0h3m0 1h3m-94 1h3m2 0h3m47 0h3m11 0h3m22 0h3m-108 1h3m85 0h3m-55 1h3m38 1h3m36 0h3m-122 1h3m103 0h3m-89 2h3m-43 1h3m40 0h3m104 0h3m-1 0h3m-105 1h3m22 0h3m4 0h3m-60 1h3m68 0h3m-60 1h3m28 0h3m7 0h3m-2 0h3m18 0h3m0 0h3m-2 1h3m4 1h3m22 1h3m-120 1h3m132 0h3m-116 1h3m77 0h3m25 0h3m-98 2h3m7 0h3m-28 1h3m7 0h3m23 0h3m27 0h3m2 0h3m-59 1h3m11 0h3m50 0h3m-75 1h3m46 1h3m29 0h3m-91 1h3m-1 0h3m84 0h3m-8 1h3m-172 1h3m94 0h3m-10 2h3m65 0h3m-122 1h3m25 0h3m56 0h3m16 0h3m40 0h3m37 0h3m-169 1h3m10 0h3m12 1h3m31 0h3m32 0h3m24 1h3m-113 1h3m74 0h3m-2 0h3m-117 1h3m61 2h3m-2 1h3m41 0h3m-100 1h3m32 0h3m25 0h3m-63 2h3m18 0h3m14 0h3m61 0h3m1 0h3m-75 2h3m-3 0h3m39 0h3m-6 1h3m-27 1h3m19 0h3m-56 1h3m22 1h3m16 2h3m-34 2h3m133 0h3m-104 1h3m0 1h3m14 0h3m8 0h3m-37 1h3m6 0h3m-11 1h3m0 0h3m-34 1h3m95 1h3m-114 1h3m79 1h3m-92 1h3m23 2h3m18 2h3m78 0h3m-44 1h3m18 1h3m-5 1h3m16 0h3m-53 1h3m-50 1h3m52 3h3m-26 2h3m-91 1h3m57 0h3m5 0h3m-65 1h3m94 3h3m-14 1h3m5 0h3m-36 1h3m5 0h3m-12 2h3m9 1h3m36 0h3m-71 2h3m7 0h3m4 0h3m34 0h3m36 0h3m-37 1h3m-47 1h3m-4 2h3m49 1h3m66 2h3m-43 3h3m-89 4h3m32 3h3m-4 1h3m35 1h3m-57 4h3m-8 4h3m-77 2h3m146 0h3m-110 1h3m38 0h3m14 0h3m38 1h3m-75 5h3m7 0h3m-22 9h3m68 0h3m-82 1h3m11 1h3m18 0h3m59 2h3m-40 1h3m-17 2h3m-11 2h3m-20 10h3m8 3h3m-35 2h3m51 1h3m25 8h3m-124 20h3m121 1h3m-111 6h3m24 1h3m32 0h3m-1 51h3" stroke-opacity="0.15"/><path d="M1092 478h3m-26 2h3m-18 4h3m45 5h3m-39 11h3m-43 4h3m48 0h3m11 8h3m-48 2h3m-66 3h3m86 4h3m39 1h3m-72 5h3m-13 1h3m4 0h3m0 0h3m19 0h3m16 1h3m-45 3h3m25 0h3m13 0h3m13 1h3m-71 3h3m52 0h3m13 0h3m-68 4h3m-19 1h3m-30 1h3m27 0h3m-2 0h3m-9 2h3m12 0h3m35 0h3m35 0h3m-70 3h3m29 0h3m-46 1h3m22 0h3m-9 2h3m-4 1h3m-21 2h3m47 0h3m-78 1h3m72 0h3m-75 1h3m34 0h3m21 0h3m19 0h3m-48 1h3m34 1h3m-46 2h3m2 0h3m21 0h3m-73 1h3m-1 0h3m79 1h3m-53 1h3m-24 2h3m8 0h3m66 0h3m-102 1h3m32 0h3m30 0h3m-39 1h3m14 0h3m10 1h3m12 0h3m25 0h3m-60 2h3m3 0h3m6 0h3m16 0h3m-67 1h3m-12 1h3m18 2h3m3 0h3m47 0h3m-56 1h3m-24 1h3m41 0h3m56 1h3m-25 1h3m-48 1h3m16 0h3m-96 1h3m-1 0h3m72 0h3m36 0h3m-68 1h3m33 0h3m15 0h3m-43 1h3m53 1h3m-25 1h3m21 0h3m-22 1h3m-17 1h3m-2 0h3m-68 1h3m15 0h3m11 0h3m-1 0h3m10 0h3m2 0h3m-19 1h3m10 0h3m42 0h3m-123 1h3m28 0h3m8 0h3m6 0h3m28 0h3m22 0h3m-83 1h3m0 0h3m20 0h3m24 0h3m-77 2h3m51 0h3m9 0h3m4 0h3m-70 1h3m45 0h3m7 0h3m41 0h3m-102 1h3m27 0h3m17 0h3m4 0h3m1 0h3m-3 0h3m5 0h3m1 0h3m17 0h3m8 0h3m-99 1h3m59 0h3m13 0h3m-100 1h3m43 0h3m35 0h3m19 0h3m15 0h3m-73 1h3m9 0h3m3 0h3m13 0h3m-1 0h3m-60 1h3m51 0h3m-1 0h3m7 0h3m-20 1h3m16 0h3m-48 1h3m3 0h3m35 1h3m21 0h3m11 0h3m-160 1h3m90 0h3m1 0h3m71 0h3m-132 1h3m6 0h3m49 0h3m5 0h3m15 0h3m-139 1h3m108 0h3m-69 1h3m1 0h3m-1 0h3m35 0h3m22 0h3m45 0h3m-83 1h3m29 0h3m-2 0h3m12 0h3m-49 1h3m5 0h3m8 0h3m69 0h3m-96 1h3m5 0h3m16 0h3m17 0h3m-78 1h3m17 0h3m14 0h3m35 0h3m-75 1h3m73 0h3m-67 1h3m61 0h3m-59 1h3m3 0h3m23 0h3m-66 1h3m17 0h3m7 0h3m15 0h3m17 0h3m-2 0h3m-73 1h3m8 0h3m10 0h3m19 0h3m12 0h3m14 0h3m-77 1h3m38 0h3m5 0h3m-3 0h3m8 0h3m-1 0h3m3 0h3m-56 1h3m4 0h3m40 0h3m10 0h3m52 0h3m-140 1h3m54 0h3m20 0h3m-55 1h3m20 0h3m-2 0h3m-2 0h3m-1 0h3m1 0h3m-2 0h3m39 0h3m-70 1h3m6 0h3m4 0h3m62 0h3m-105 1h3m28 0h3m14 0h3m38 0h3m-78 1h3m-1 0h3m2 0h3m11 0h3m53 0h3m-103 1h3m28 0h3m-17 1h3m6 0h3m23 0h3m4 0h3m31 0h3m0 0h3m-2 0h3m8 0h3m-81 1h3m3 0h3m6 0h3m0 1h3m-3 0h3m10 0h3m1 0h3m-36 1h3m-3 0h3m4 0h3m27 0h3m15 0h3m-54 1h3m0 0h3m7 0h3m5 0h3m6 0h3m26 0h3m-53 1h3m6 0h3m1 0h3m34 0h3m-39 1h3m0 0h3m14 0h3m-1 0h3m-1 0h3m18 0h3m-138 1h3m39 0h3m22 0h3m1 0h3m14 0h3m-45 1h3m20 0h3m-3 0h3m11 0h3m9 0h3m10 0h3m6 0h3m-91 1h3m10 0h3m-2 0h3m-59 1h3m53 0h3m-2 0h3m1 0h3m9 0h3m9 0h3m12 0h3m5 0h3m-41 1h3m33 0h3m18 0h3m1 0h3m-72 1h3m6 0h3m4 0h3m23 0h3m15 0h3m22 0h3m-151 1h3m59 0h3m20 0h3m8 0h3m0 0h3m0 0h3m2 0h3m29 0h3m-80 1h3m0 0h3m4 0h3m44 0h3m-59 1h3m21 0h3m28 0h3m4 0h3m-99 1h3m73 0h3m1 0h3m-48 1h3m-1 0h3m2 0h3m3 0h3m8 0h3m-48 1h3m-1 0h3m1 0h3m4 0h3m2 0h3m11 0h3m2 0h3m15 0h3m11 0h3m14 0h3m-102 1h3m51 0h3m14 0h3m3 0h3m3 0h3m24 0h3m-77 1h3m1 0h3m9 0h3m19 0h3m1 0h3m8 0h3m-53 1h3m16 0h3m-79 1h3m31 0h3m23 0h3m7 0h3m9 0h3m1 0h3m-43 1h3m16 0h3m-1 0h3m5 0h3m-1 0h3m12 0h3m7 0h3m21 0h3m-80 1h3m-1 0h3m1 0h3m15 0h3m22 0h3m-108 1h3m19 0h3m35 0h3m39 0h3m1 0h3m2 0h3m-3 0h3m12 0h3m14 0h3m-111 1h3m13 0h3m26 0h3m-2 0h3m13 0h3m-2 0h3m-3 0h3m2 0h3m1 0h3m6 0h3m-76 1h3m20 0h3m2 0h3m-2 0h3m32 0h3m8 0h3m17 0h3m-87 1h3m3 0h3m8 0h3m-2 0h3m23 0h3m-73 1h3m-2 0h3m50 0h3m1 0h3m35 0h3m-108 1h3m31 0h3m0 0h3m51 0h3m-2 0h3m-64 1h3m-1 0h3m0 0h3m8 0h3m5 0h3m-2 0h3m2 0h3m16 0h3m44 0h3m-111 1h3m25 0h3m7 0h3m6 0h3m0 0h3m5 0h3m11 0h3m27 0h3m-103 1h3m4 0h3m10 0h3m16 0h3m-3 0h3m26 0h3m-2 0h3m-40 1h3m2 0h3m22 0h3m6 0h3m-2 0h3m0 0h3m1 0h3m-87 1h3m24 0h3m8 0h3m-3 0h3m21 0h3m6 0h3m20 0h3m9 0h3m3 0h3m-116 1h3m29 0h3m23 0h3m76 0h3m-125 1h3m1 0h3m7 0h3m14 0h3m43 0h3m-3 0h3m-78 1h3m-2 0h3m27 0h3m-37 1h3m3 0h3m9 0h3m18 0h3m2 0h3m-1 0h3m0 0h3m2 0h3m-1 0h3m-58 1h3m14 0h3m33 0h3m1 0h3m2 0h3m20 0h3m-91 1h3m-3 0h3m1 0h3m16 0h3m1 0h3m7 0h3m3 0h3m1 0h3m1 0h3m0 0h3m7 0h3m-70 1h3m35 0h3m11 0h3m24 0h3m-87 1h3m17 0h3m14 0h3m19 0h3m4 0h3m1 0h3m-2 0h3m-58 1h3m7 0h3m1 0h3m7 0h3m-3 0h3m-3 0h3m3 0h3m1 0h3m5 0h3m0 0h3m-1 0h3m-3 0h3m-3 0h3m2 0h3m-3 0h3m-2 0h3m-71 1h3m19 0h3m87 0h3m-100 1h3m24 0h3m21 0h3m-40 1h3m9 0h3m-2 0h3m22 0h3m-51 1h3m0 0h3m6 0h3m2 0h3m19 0h3m0 0h3m16 0h3m-100 1h3m2 0h3m12 0h3m25 0h3m10 0h3m8 0h3m25 0h3m-86 1h3m13 0h3m-2 0h3m0 0h3m5 0h3m4 0h3m9 0h3m5 0h3m6 0h3m7 0h3m-113 1h3m35 0h3m31 0h3m11 0h3m6 0h3m3 0h3m29 0h3m-115 1h3m19 0h3m6 0h3m59 0h3m-48 1h3m10 0h3m2 0h3m0 0h3m43 0h3m1 0h3m-106 1h3m6 0h3m2 0h3m21 0h3m8 0h3m12 0h3m14 0h3m-29 1h3m-85 1h3m1 0h3m34 0h3m32 0h3m-57 1h3m-2 0h3m8 0h3m31 0h3m3 0h3m3 0h3m16 0h3m-48 1h3m3 0h3m-1 0h3m-1 0h3m9 0h3m10 0h3m18 0h3m-63 1h3m-2 0h3m41 0h3m-42 1h3m8 0h3m-1 0h3m1 0h3m29 0h3m-24 1h3m-1 0h3m11 0h3m10 0h3m-85 1h3m16 0h3m-2 0h3m9 0h3m-2 0h3m8 0h3m19 0h3m6 0h3m-1 0h3m-3 0h3m8 0h3m-99 1h3m-2 0h3m21 0h3m14 0h3m9 0h3m7 0h3m-1 0h3m4 0h3m-3 0h3m-89 1h3m11 0h3m23 0h3m-1 0h3m2 0h3m-3 0h3m-1 0h3m2 0h3m34 0h3m1 0h3m18 0h3m-99 1h3m4 1h3m13 0h3m5 0h3m20 0h3m10 0h3m-1 1h3m1 0h3m-138 1h3m33 0h3m28 0h3m7 0h3m47 0h3m10 0h3m-89 1h3m29 0h3m-2 0h3m-2 0h3m-26 1h3m3 0h3m4 0h3m-1 0h3m16 0h3m-2 0h3m-2 0h3m18 0h3m11 0h3m-83 1h3m15 0h3m-1 0h3m9 0h3m15 0h3m10 0h3m-61 1h3m3 0h3m1 0h3m49 0h3m-76 1h3m11 0h3m10 0h3m1 0h3m37 0h3m-57 1h3m2 0h3m7 0h3m14 0h3m55 0h3m-96 1h3m39 0h3m26 0h3m-94 1h3m7 0h3m27 0h3m3 0h3m8 0h3m1 0h3m18 0h3m-113 1h3m1 0h3m39 0h3m26 0h3m9 0h3m4 0h3m-2 0h3m-1 0h3m36 0h3m-83 1h3m7 0h3m65 0h3m-75 1h3m-3 0h3m8 0h3m36 0h3m4 0h3m-132 1h3m40 0h3m25 0h3m8 0h3m-3 0h3m1 0h3m33 0h3m-1 0h3m-16 1h3m28 0h3m-64 1h3m11 0h3m0 0h3m-40 1h3m25 0h3m17 0h3m12 0h3m11 0h3m-76 1h3m8 0h3m0 0h3m12 0h3m1 0h3m6 0h3m-2 0h3m4 0h3m1 0h3m0 0h3m26 0h3m-121 1h3m47 0h3m4 0h3m4 0h3m34 0h3m-97 1h3m6 0h3m12 0h3m63 0h3m-97 1h3m0 0h3m15 0h3m21 0h3m46 0h3m-40 1h3m0 0h3m-3 0h3m-35 1h3m40 0h3m39 0h3m-117 1h3m26 0h3m25 0h3m2 0h3m10 0h3m7 0h3m4 0h3m-102 1h3m14 0h3m34 0h3m15 0h3m4 0h3m-51 1h3m21 0h3m6 0h3m-51 1h3m10 0h3m-1 0h3m18 0h3m35 0h3m-1 0h3m-101 1h3m0 0h3m36 0h3m21 0h3m-116 1h3m87 0h3m12 0h3m12 0h3m4 0h3m-2 0h3m1 0h3m6 0h3m-43 1h3m6 0h3m22 0h3m10 0h3m-99 1h3m6 0h3m34 0h3m5 0h3m29 0h3m2 0h3m-3 0h3m-49 1h3m0 0h3m-1 0h3m0 0h3m6 0h3m24 0h3m-43 1h3m3 0h3m7 0h3m1 0h3m1 0h3m-65 1h3m32 0h3m19 0h3m-10 1h3m8 0h3m-4 1h3m15 0h3m23 0h3m-77 1h3m-70 2h3m70 0h3m23 0h3m38 0h3m-74 1h3m-41 1h3m39 0h3m2 0h3m-1 0h3m1 0h3m18 0h3m4 0h3m70 0h3m-114 1h3m0 0h3m6 0h3m-49 1h3m-1 0h3m3 0h3m21 0h3m2 0h3m60 0h3m-137 1h3m69 0h3m12 0h3m-39 1h3m81 1h3m-113 1h3m40 0h3m17 0h3m61 0h3m-117 1h3m48 0h3m-69 1h3m35 0h3m0 0h3m30 0h3m4 0h3m-94 1h3m9 0h3m12 0h3m1 0h3m61 0h3m3 0h3m-48 1h3m-2 1h3m4 0h3m11 0h3m-99 1h3m79 0h3m-59 1h3m14 0h3m46 0h3m16 0h3m7 0h3m-72 1h3m39 0h3m-2 0h3m22 0h3m-74 1h3m54 0h3m32 0h3m-79 1h3m42 0h3m-72 1h3m24 0h3m10 0h3m0 0h3m22 0h3m-87 1h3m-1 0h3m101 0h3m-133 1h3m64 0h3m0 0h3m9 0h3m34 0h3m2 0h3m-92 1h3m38 0h3m5 0h3m57 0h3m-81 1h3m-2 0h3m8 0h3m20 0h3m-2 0h3m4 0h3m-54 1h3m13 0h3m46 0h3m-102 1h3m4 0h3m29 0h3m1 0h3m19 0h3m-11 1h3m14 0h3m1 0h3m7 0h3m-81 1h3m16 0h3m21 0h3m15 0h3m10 0h3m-85 2h3m81 0h3m-52 1h3m-2 0h3m25 0h3m60 0h3m-62 1h3m44 0h3m-112 1h3m21 0h3m18 0h3m0 0h3m-27 2h3m42 0h3m-66 1h3m21 1h3m37 0h3m30 0h3m-91 1h3m50 0h3m27 1h3m-96 1h3m-29 1h3m24 0h3m31 0h3m-53 1h3m13 0h3m48 0h3m-2 0h3m-43 1h3m2 0h3m16 0h3m20 1h3m-19 1h3m-52 1h3m19 0h3m10 0h3m-2 1h3m6 0h3m-30 1h3m26 0h3m8 0h3m5 0h3m-52 1h3m80 0h3m-3 0h3m27 0h3m-131 2h3m20 1h3m64 1h3m-82 1h3m43 0h3m-33 1h3m37 1h3m-45 1h3m29 0h3m13 0h3m-60 2h3m19 0h3m28 0h3m-42 1h3m51 1h3m-45 1h3m53 1h3m-31 5h3m-5 1h3m-43 1h3m-3 0h3m12 0h3m-44 1h3m15 0h3m43 0h3m-63 1h3m19 0h3m23 0h3m19 0h3m-34 1h3m-27 1h3m30 0h3m-47 1h3m18 1h3m-42 1h3m68 0h3m26 1h3m-46 1h3m1 0h3m-8 1h3m-22 1h3m61 2h3m-76 3h3m13 0h3m29 0h3m-39 1h3m-29 2h3m28 4h3m30 0h3m-11 1h3m-76 13h3m7 3h3m15 9h3m20 6h3m-2 7h3m-34 2h3m39 0h3m-6 4h3m-27 4h3" stroke-opacity="0.2"/><path d="M934 1178h3m86 0h3m-90 1h3m209 0h3m-298 1h3m39 0h3m31 0h3m-2 0h3m1 0h3m40 0h3m-2 0h3m4 0h3m15 0h3m37 0h3m-106 1h3m7 0h3m19 0h3m-2 0h3m13 0h3m15 0h3m3 0h3m0 0h3m-3 0h3m4 0h3m15 0h3m12 0h3m48 0h3m73 0h3m-243 1h3m6 0h3m8 0h3m3 0h3m3 0h3m4 0h3m4 0h3m50 0h3m-2 0h3m6 0h3m-156 1h3m9 0h3m46 0h3m0 0h3m6 0h3m2 0h3m2 0h3m2 0h3m16 0h3m2 0h3m10 0h3m-1 0h3m7 0h3m3 0h3m0 0h3m11 0h3m16 0h3m24 0h3m-218 1h3m17 0h3m101 0h3m-32 1h3" stroke-opacity="0.22"/><path d="M1054 199h3m-142 205h3m11 8h3m102 105h3" stroke-opacity="0.3"/></g>
<line x1="275.7" y1="456.4" x2="275.7" y2="577.0" stroke="#858585" stroke-width="1.2"/>
<line x1="275.2" y1="576.4" x2="395.4" y2="576.4" stroke="#6a6a6a" stroke-width="1.1"/>
<path d="M272.2 575.6H275.7M272.2 553.7H275.7M272.2 531.9H275.7M272.2 510.0H275.7M272.2 488.1H275.7M272.2 466.2H275.7M275.7 576.4V579.9M297.4 576.4V579.9M319.2 576.4V579.9M340.9 576.4V579.9M362.7 576.4V579.9M384.4 576.4V579.9" stroke="#222" stroke-width="1.3" fill="none"/>
<path d="M273.7 569.0H275.7M273.7 565.2H275.7M273.7 562.4H275.7M273.7 560.3H275.7M273.7 558.6H275.7M273.7 557.1H275.7M273.7 555.8H275.7M273.7 554.7H275.7M273.7 547.1H275.7M273.7 543.3H275.7M273.7 540.6H275.7M273.7 538.4H275.7M273.7 536.7H275.7M273.7 535.2H275.7M273.7 534.0H275.7M273.7 532.9H275.7M273.7 525.3H275.7M273.7 521.4H275.7M273.7 518.7H275.7M273.7 516.6H275.7M273.7 514.8H275.7M273.7 513.4H275.7M273.7 512.1H275.7M273.7 511.0H275.7M273.7 503.4H275.7M273.7 499.5H275.7M273.7 496.8H275.7M273.7 494.7H275.7M273.7 493.0H275.7M273.7 491.5H275.7M273.7 490.2H275.7M273.7 489.1H275.7M273.7 481.5H275.7M273.7 477.7H275.7M273.7 474.9H275.7M273.7 472.8H275.7M273.7 471.1H275.7M273.7 469.6H275.7M273.7 468.3H275.7M273.7 467.2H275.7M273.7 459.6H275.7M282.2 576.4V578.4M286.1 576.4V578.4M288.8 576.4V578.4M290.9 576.4V578.4M292.6 576.4V578.4M294.1 576.4V578.4M295.3 576.4V578.4M296.5 576.4V578.4M304.0 576.4V578.4M307.8 576.4V578.4M310.5 576.4V578.4M312.7 576.4V578.4M314.4 576.4V578.4M315.8 576.4V578.4M317.1 576.4V578.4M318.2 576.4V578.4M325.7 576.4V578.4M329.6 576.4V578.4M332.3 576.4V578.4M334.4 576.4V578.4M336.1 576.4V578.4M337.6 576.4V578.4M338.8 576.4V578.4M340.0 576.4V578.4M347.5 576.4V578.4M351.3 576.4V578.4M354.0 576.4V578.4M356.2 576.4V578.4M357.9 576.4V578.4M359.3 576.4V578.4M360.6 576.4V578.4M361.7 576.4V578.4M369.2 576.4V578.4M373.1 576.4V578.4M375.8 576.4V578.4M377.9 576.4V578.4M379.6 576.4V578.4M381.1 576.4V578.4M382.3 576.4V578.4M383.5 576.4V578.4M391.0 576.4V578.4M394.8 576.4V578.4" stroke="#3a3a3a" stroke-width="0.85" fill="none"/>
<text x="277.7" y="587.3" font-size="4.8" fill="#333" letter-spacing="-0.2">10<tspan font-size="4.2" dy="-2.9" fill="#222">0</tspan></text>
<text x="299.4" y="587.3" font-size="4.8" fill="#333" letter-spacing="-0.2">10<tspan font-size="4.2" dy="-2.9" fill="#222">1</tspan></text>
<text x="321.2" y="587.3" font-size="4.8" fill="#333" letter-spacing="-0.2">10<tspan font-size="4.2" dy="-2.9" fill="#222">2</tspan></text>
<text x="342.9" y="587.3" font-size="4.8" fill="#333" letter-spacing="-0.2">10<tspan font-size="4.2" dy="-2.9" fill="#222">3</tspan></text>
<text x="364.7" y="587.3" font-size="4.8" fill="#333" letter-spacing="-0.2">10<tspan font-size="4.2" dy="-2.9" fill="#222">4</tspan></text>
<text x="386.4" y="587.3" font-size="4.8" fill="#333" letter-spacing="-0.2">10<tspan font-size="4.2" dy="-2.9" fill="#222">5</tspan></text>
<text x="333.7" y="598.9" font-size="5.1" fill="#222" text-anchor="middle">Comp-APC-A</text>
<text x="331.7" y="554.5" font-size="5.1" fill="#111" text-anchor="middle">Comp-APC-A, Comp-PE-A subset</text>
<text x="331.7" y="562.5" font-size="5.1" fill="#111" text-anchor="middle">1.04</text>
<rect x="342.1" y="467.0" width="51.5" height="44.2" fill="none" stroke="#000" stroke-width="2"/>
<text x="433.7" y="439.2" font-size="10.2" font-weight="bold" stroke="#000" stroke-width="0.25" textLength="69.3" lengthAdjust="spacingAndGlyphs">BoLA-1*023:01-</text>
<text x="456.5" y="450.8" font-size="10.2" font-weight="bold" stroke="#000" stroke-width="0.25" textLength="15" lengthAdjust="spacingAndGlyphs">Tp9</text>
<text x="471.7" y="453.1" font-size="6.8" font-weight="bold" stroke="#000" stroke-width="0.15">A9</text>
<rect x="400.0" y="456.9" width="119.39999999999998" height="119.5" fill="#fff" stroke="#8a8a8a" stroke-width="1.1"/>
<g transform="translate(400.0,457.0) scale(0.1)" stroke="#5216aa" stroke-width="7.0" stroke-linecap="round" fill="none"><path d="M846 199h3m285 69h3m-198 11h3m-21 34h3m39 31h3m112 10h3m-324 8h3m133 3h3m87 1h3m-111 11h3m-193 34h3m200 10h3m-30 1h3m129 3h3m-179 4h3m166 0h3m-3 3h3m-208 13h3m86 10h3m226 26h3m-116 9h3m134 3h3m-234 4h3m23 1h3m86 1h3m114 1h3m1 3h3m-112 1h3m7 5h3m7 4h3m3 1h3m-115 1h3m-15 6h3m59 3h3m11 2h3m-109 2h3m69 1h3m31 1h3m-22 3h3m87 5h3m-91 1h3m-325 1h3m261 1h3m-164 1h3m297 2h3m-22 1h3m-384 1h3m317 8h3m-1 1h3m36 0h3m-27 1h3m-182 1h3m140 1h3m-228 1h3m274 2h3m-88 3h3m54 0h3m108 2h3m-197 1h3m112 2h3m-33 1h3m117 1h3m-148 1h3m137 0h3m-16 1h3m13 1h3m-179 1h3m6 0h3m61 0h3m-167 3h3m231 0h3m-92 2h3m24 0h3m116 2h3m-170 1h3m77 0h3m-18 2h3m1 0h3m34 0h3m26 2h3m-169 2h3m57 0h3m12 0h3m99 1h3m-79 1h3m43 0h3m-153 2h3m91 0h3m-97 1h3m124 0h3m9 0h3m-106 1h3m103 0h3m42 3h3m-88 1h3m-55 1h3m102 0h3m-99 1h3m16 1h3m-89 1h3m143 3h3m23 1h3m-112 2h3m125 0h3m-109 1h3m48 0h3m-55 1h3m-42 2h3m87 0h3m-110 1h3m107 0h3m20 0h3m75 0h3m-147 3h3m15 0h3m-11 1h3m33 0h3m-543 1h3m472 1h3m38 0h3m-41 1h3m-33 1h3m54 1h3m10 0h3m-128 1h3m87 1h3m59 0h3m-11 1h3m-125 1h3m86 0h3m-58 2h3m18 0h3m-29 1h3m-48 2h3m79 0h3m115 0h3m-100 1h3m62 0h3m-81 2h3m-43 1h3m84 1h3m-43 1h3m51 0h3m-2 1h3m-43 1h3m23 0h3m-87 1h3m64 0h3m1 0h3m-101 2h3m39 0h3m-13 1h3m-48 1h3m163 1h3m-11 1h3m-73 1h3m5 0h3m-84 1h3m63 1h3m4 0h3m49 0h3m-125 1h3m50 0h3m18 0h3m-140 2h3m64 0h3m5 0h3m12 0h3m-24 1h3m35 0h3m43 0h3m22 1h3m-373 2h3m285 0h3m-27 1h3m21 0h3m15 0h3m68 0h3m-104 1h3m34 0h3m14 1h3m-64 2h3m152 0h3m-164 2h3m67 0h3m20 0h3m18 0h3m-15 1h3m-92 1h3m-9 2h3m27 0h3m-2 0h3m74 1h3m-130 2h3m64 0h3m60 1h3m-253 1h3m175 0h3m6 1h3m-66 1h3m66 1h3m16 3h3m-85 1h3m74 2h3m-96 1h3m47 0h3m103 0h3m-240 1h3m54 0h3m86 0h3m-101 1h3m114 0h3m5 1h3m147 0h3m-288 2h3m172 0h3m-150 1h3m29 0h3m78 0h3m-41 1h3m-28 2h3m22 0h3m-9 1h3m47 1h3m-120 2h3m147 2h3m-51 1h3m47 0h3m-173 1h3m149 1h3m-49 3h3m55 0h3m-132 3h3m34 0h3m67 0h3m-101 5h3m91 0h3m-75 1h3m40 0h3m-24 1h3m-39 1h3m36 0h3m31 0h3m-25 1h3m121 0h3m-128 4h3m-6 1h3m33 0h3m7 0h3m87 0h3m-163 2h3m25 0h3m37 4h3m-134 1h3m33 0h3m68 0h3m60 0h3m-178 2h3m-20 1h3m72 0h3m51 0h3m13 0h3m22 0h3m-46 1h3m-6 1h3m13 0h3m32 0h3m-1 0h3m-80 1h3m2 0h3m-108 2h3m77 1h3m46 3h3m3 0h3m22 1h3m-9 1h3m17 0h3m-87 2h3m41 0h3m-119 3h3m125 0h3m-51 2h3m65 0h3m-83 1h3m63 0h3m6 2h3m-91 1h3m-26 3h3m122 3h3m-143 1h3m32 0h3m41 1h3m-11 1h3m60 0h3m10 1h3m-49 2h3m-27 1h3m26 1h3m-86 1h3m-2 1h3m61 1h3m-142 1h3m82 0h3m100 2h3m-53 1h3m-1 4h3m-99 3h3m47 0h3m44 0h3m20 3h3m-96 2h3m132 3h3m46 0h3m-19 1h3m-120 1h3m48 1h3m-130 3h3m87 0h3m2 2h3m31 1h3m-8 2h3m-44 2h3m45 4h3m-280 2h3m15 2h3m200 0h3m4 0h3m48 0h3m-119 1h3m1 0h3m-19 1h3m3 3h3m101 6h3m-417 2h3m378 9h3m13 8h3m-103 4h3m126 0h3m-29 12h3m16 8h3m-55 25h3m170 27h3m-239 24h3m-168 25h3" stroke-opacity="0.15"/><path d="M1032 291h3m73 2h3m-136 5h3m-24 13h3m-27 4h3m58 0h3m-73 2h3m-32 5h3m26 0h3m32 4h3m55 1h3m-98 1h3m137 2h3m-38 3h3m5 0h3m30 1h3m-137 1h3m63 1h3m-3 2h3m12 2h3m17 0h3m-73 4h3m-16 1h3m30 0h3m-8 9h3m108 0h3m-56 1h3m-246 1h3m71 1h3m100 0h3m23 1h3m-59 2h3m81 0h3m6 0h3m-38 2h3m-71 1h3m29 0h3m-88 2h3m28 0h3m38 1h3m21 0h3m46 0h3m-89 1h3m87 0h3m6 0h3m-89 1h3m37 2h3m7 1h3m98 1h3m-153 1h3m24 0h3m-46 1h3m21 0h3m17 1h3m14 3h3m11 0h3m-19 1h3m1 0h3m-37 2h3m43 2h3m-142 1h3m-2 0h3m54 1h3m39 0h3m3 1h3m-13 1h3m-146 2h3m125 1h3m59 2h3m-106 1h3m36 1h3m114 0h3m-148 1h3m78 0h3m-121 1h3m99 0h3m3 1h3m1 1h3m14 0h3m-140 1h3m33 0h3m120 0h3m-66 2h3m29 0h3m27 0h3m-118 1h3m74 0h3m0 0h3m-68 2h3m2 0h3m83 0h3m37 0h3m-124 1h3m64 0h3m20 1h3m13 0h3m-39 1h3m-76 1h3m37 0h3m31 0h3m77 0h3m-175 3h3m-22 2h3m56 0h3m-48 1h3m70 0h3m-48 1h3m80 0h3m-1 0h3m-82 1h3m54 0h3m-42 1h3m19 1h3m50 0h3m24 0h3m-138 1h3m19 0h3m74 0h3m-94 1h3m-19 1h3m37 0h3m38 0h3m92 0h3m-82 1h3m-173 1h3m128 0h3m16 0h3m-55 2h3m20 1h3m-33 1h3m-16 1h3m107 0h3m-33 2h3m-136 1h3m25 0h3m20 0h3m43 0h3m8 0h3m-22 1h3m12 0h3m29 0h3m36 0h3m8 0h3m-155 1h3m5 0h3m70 1h3m44 0h3m-74 1h3m41 1h3m-60 1h3m20 0h3m60 0h3m-106 1h3m84 0h3m-121 1h3m1 0h3m86 0h3m-106 1h3m82 0h3m60 0h3m7 2h3m-3 0h3m70 0h3m-130 1h3m-42 1h3m33 0h3m37 1h3m-155 1h3m48 0h3m10 0h3m65 0h3m-60 1h3m5 0h3m8 0h3m73 0h3m-2 0h3m-67 1h3m-23 1h3m133 1h3m-103 1h3m4 0h3m2 0h3m8 0h3m-182 1h3m101 0h3m35 0h3m-13 1h3m53 0h3m39 0h3m-139 1h3m17 0h3m-35 1h3m73 0h3m-25 1h3m-13 1h3m-5 1h3m-65 2h3m-76 1h3m131 0h3m6 0h3m35 1h3m-73 2h3m16 0h3m31 0h3m6 0h3m-17 1h3m35 0h3m-72 1h3m26 0h3m-76 1h3m1 2h3m141 0h3m-221 1h3m143 0h3m-31 1h3m-20 1h3m12 0h3m17 0h3m-67 1h3m-2 0h3m17 1h3m-35 1h3m33 0h3m0 1h3m31 0h3m-63 2h3m1 2h3m30 0h3m46 0h3m-103 1h3m52 0h3m25 0h3m14 0h3m-94 1h3m-2 0h3m123 2h3m-95 1h3m54 0h3m-95 1h3m113 0h3m-15 4h3m-66 1h3m32 0h3m-97 1h3m6 0h3m71 0h3m-92 2h3m17 0h3m119 0h3m-104 2h3m2 0h3m0 0h3m17 0h3m14 0h3m3 0h3m-82 1h3m-29 3h3m114 0h3m16 0h3m-87 1h3m7 0h3m98 0h3m-85 1h3m35 0h3m-129 2h3m120 1h3m-37 1h3m25 0h3m-151 1h3m60 1h3m66 0h3m31 1h3m-126 1h3m51 0h3m53 0h3m-83 1h3m28 0h3m71 0h3m58 0h3m6 0h3m-163 1h3m58 0h3m10 0h3m-85 2h3m76 0h3m-52 1h3m55 0h3m-86 1h3m179 0h3m-73 2h3m-64 2h3m-1 0h3m43 0h3m-170 2h3m165 0h3m-74 1h3m101 0h3m-32 1h3m55 0h3m-192 1h3m83 0h3m11 0h3m19 3h3m-146 1h3m162 0h3m-65 2h3m11 2h3m11 1h3m-22 2h3m86 1h3m-39 5h3m-87 1h3m30 0h3m23 3h3m-74 1h3m75 6h3m-58 2h3m-53 7h3m34 1h3m145 0h3m-197 1h3m116 1h3m-78 2h3m77 2h3m-111 5h3m9 0h3m13 3h3m-35 2h3m48 4h3m-29 17h3m8 0h3m48 17h3" stroke-opacity="0.16"/><path d="M1050 172h3m61 27h3m-33 14h3m67 5h3m-93 2h3m-55 4h3m119 0h3m-122 8h3m-22 2h3m135 2h3m-9 1h3m-58 3h3m45 1h3m-54 1h3m68 0h3m-112 4h3m26 2h3m-84 1h3m2 1h3m77 0h3m-69 1h3m6 1h3m6 1h3m-14 4h3m42 3h3m0 2h3m7 0h3m-105 3h3m65 0h3m5 0h3m-24 1h3m43 0h3m-65 2h3m61 0h3m-23 2h3m-13 1h3m-1 0h3m0 0h3m-78 1h3m27 0h3m23 0h3m47 0h3m39 1h3m-44 1h3m-58 2h3m26 0h3m17 1h3m12 0h3m-64 1h3m23 0h3m18 0h3m-95 1h3m40 0h3m94 0h3m-145 1h3m150 0h3m-128 1h3m5 0h3m101 0h3m-86 1h3m60 1h3m-129 1h3m47 1h3m-59 1h3m82 0h3m-33 1h3m28 0h3m-33 1h3m41 0h3m7 0h3m-28 1h3m-81 1h3m39 0h3m83 0h3m-67 1h3m-69 1h3m68 0h3m-112 1h3m50 0h3m54 0h3m89 0h3m-136 2h3m11 0h3m35 0h3m-56 1h3m61 0h3m13 0h3m67 0h3m-103 1h3m26 0h3m4 0h3m-58 1h3m-16 1h3m10 0h3m28 0h3m12 0h3m-28 2h3m46 0h3m-17 1h3m6 0h3m-132 1h3m9 0h3m28 0h3m-2 0h3m23 0h3m35 0h3m0 0h3m43 0h3m-170 1h3m43 0h3m42 0h3m20 0h3m-74 1h3m106 0h3m-121 2h3m24 0h3m-31 1h3m6 0h3m52 0h3m32 0h3m-105 1h3m63 1h3m41 0h3m11 0h3m-111 1h3m13 0h3m60 1h3m-2 0h3m-131 1h3m153 0h3m30 0h3m-143 1h3m29 0h3m9 0h3m-34 1h3m6 0h3m12 0h3m4 1h3m26 0h3m-60 1h3m37 0h3m45 0h3m0 0h3m17 0h3m-174 1h3m18 0h3m103 0h3m16 0h3m-116 1h3m10 0h3m-46 1h3m12 0h3m61 0h3m4 0h3m-102 2h3m56 0h3m2 0h3m5 0h3m32 0h3m29 0h3m-85 1h3m5 0h3m4 0h3m-69 1h3m112 0h3m-8 1h3m-105 1h3m64 0h3m-43 1h3m10 0h3m10 0h3m2 0h3m55 2h3m-104 1h3m21 0h3m2 0h3m10 0h3m16 0h3m8 0h3m14 0h3m-53 1h3m9 0h3m43 0h3m-145 1h3m102 0h3m17 0h3m14 0h3m-84 1h3m6 0h3m62 0h3m27 0h3m27 0h3m-118 1h3m36 0h3m23 0h3m17 0h3m-12 1h3m-110 1h3m106 0h3m65 0h3m-197 1h3m19 0h3m3 1h3m65 0h3m34 0h3m-154 1h3m79 0h3m11 0h3m-1 0h3m-30 1h3m20 0h3m-78 1h3m26 0h3m0 0h3m14 0h3m-1 0h3m5 0h3m9 0h3m87 0h3m-122 1h3m-2 0h3m33 0h3m33 0h3m-3 0h3m10 0h3m-91 1h3m2 1h3m-1 0h3m9 0h3m87 0h3m-137 1h3m21 0h3m-59 1h3m73 0h3m23 0h3m-139 1h3m86 0h3m-2 0h3m57 0h3m11 0h3m2 0h3m17 0h3m-123 1h3m-24 1h3m7 0h3m6 0h3m3 0h3m5 0h3m2 0h3m24 0h3m25 0h3m64 0h3m-145 1h3m35 0h3m75 0h3m-91 1h3m12 0h3m17 0h3m3 0h3m-2 0h3m9 0h3m-154 1h3m18 0h3m116 0h3m2 0h3m1 0h3m-2 0h3m55 0h3m-157 2h3m6 0h3m13 0h3m1 0h3m19 0h3m26 0h3m-129 1h3m109 0h3m-3 0h3m74 0h3m-159 1h3m85 0h3m-2 0h3m17 0h3m-77 1h3m20 0h3m-63 1h3m25 0h3m18 0h3m59 0h3m-116 1h3m59 0h3m1 0h3m31 0h3m8 0h3m3 0h3m-2 0h3m12 0h3m-62 1h3m28 0h3m1 0h3m-96 1h3m9 0h3m35 0h3m25 0h3m6 0h3m70 0h3m-161 1h3m8 0h3m34 0h3m-3 0h3m1 0h3m10 0h3m8 0h3m38 0h3m-122 1h3m14 0h3m14 0h3m3 0h3m54 0h3m25 0h3m-134 1h3m47 0h3m17 0h3m53 0h3m-84 1h3m52 0h3m-108 1h3m22 0h3m55 0h3m1 0h3m24 0h3m-100 1h3m12 0h3m40 0h3m7 0h3m7 0h3m-37 1h3m47 0h3m20 0h3m-1 0h3m33 0h3m-1 0h3m-161 1h3m73 0h3m91 0h3m-1 0h3m-169 1h3m43 0h3m38 0h3m2 0h3m25 0h3m-86 1h3m5 0h3m-2 0h3m4 0h3m33 0h3m-131 1h3m21 0h3m22 0h3m14 0h3m96 0h3m3 0h3m-198 1h3m87 0h3m11 0h3m12 0h3m4 0h3m30 0h3m-35 1h3m15 0h3m1 0h3m-128 1h3m125 0h3m-105 1h3m52 0h3m8 0h3m-65 1h3m15 0h3m53 0h3m4 0h3m-127 1h3m101 0h3m52 0h3m-172 1h3m9 0h3m6 0h3m64 0h3m34 0h3m-78 2h3m61 0h3m-115 1h3m75 0h3m60 0h3m30 0h3m-125 1h3m50 0h3m14 0h3m29 0h3m-120 1h3m33 0h3m11 0h3m12 0h3m-50 1h3m41 0h3m-61 1h3m33 0h3m14 0h3m3 0h3m5 0h3m6 0h3m28 0h3m1 0h3m6 0h3m-134 1h3m5 0h3m5 0h3m-31 1h3m26 0h3m24 0h3m26 0h3m1 0h3m4 0h3m-55 1h3m1 0h3m2 0h3m15 0h3m1 0h3m32 0h3m-116 1h3m58 0h3m7 0h3m59 0h3m8 0h3m-3 0h3m-68 1h3m29 0h3m-9 1h3m19 0h3m36 0h3m-163 1h3m58 0h3m5 0h3m-69 1h3m35 0h3m25 0h3m-2 0h3m51 0h3m15 0h3m21 0h3m-145 1h3m63 0h3m13 0h3m9 0h3m-114 1h3m12 0h3m19 0h3m23 0h3m1 0h3m12 0h3m-102 1h3m70 0h3m85 0h3m-138 1h3m55 0h3m8 0h3m-24 1h3m23 0h3m10 0h3m-68 1h3m-59 1h3m7 0h3m57 0h3m8 0h3m37 0h3m-109 1h3m54 0h3m-14 1h3m5 0h3m37 0h3m12 0h3m22 0h3m17 0h3m-158 1h3m54 0h3m4 0h3m7 0h3m15 0h3m-55 1h3m14 0h3m23 0h3m20 0h3m-124 1h3m4 0h3m57 0h3m9 0h3m12 0h3m27 0h3m-148 1h3m87 0h3m24 0h3m-140 1h3m41 0h3m89 0h3m32 0h3m-91 1h3m36 0h3m7 0h3m-2 0h3m53 0h3m-131 1h3m27 0h3m-26 2h3m44 0h3m18 0h3m33 0h3m22 0h3m-2 0h3m-141 1h3m58 0h3m34 0h3m12 0h3m-61 1h3m61 0h3m-81 1h3m19 0h3m49 0h3m21 0h3m-113 1h3m101 0h3m-129 1h3m135 0h3m-104 2h3m149 0h3m-199 1h3m28 0h3m48 0h3m-2 0h3m23 0h3m-106 1h3m37 0h3m71 0h3m12 0h3m-142 1h3m30 0h3m4 0h3m48 0h3m11 0h3m19 0h3m-117 1h3m64 0h3m107 1h3m-145 1h3m13 0h3m4 0h3m19 0h3m2 0h3m-67 1h3m21 0h3m4 0h3m-1 0h3m4 0h3m21 0h3m-77 1h3m38 0h3m-86 1h3m70 0h3m58 0h3m-115 1h3m23 0h3m26 0h3m42 0h3m11 0h3m-100 1h3m9 0h3m11 0h3m1 0h3m11 1h3m82 0h3m-91 1h3m28 0h3m54 0h3m-152 1h3m76 0h3m18 0h3m45 0h3m-138 1h3m46 0h3m-33 1h3m90 0h3m-68 1h3m31 0h3m-61 1h3m87 0h3m-98 1h3m16 0h3m48 0h3m-167 2h3m48 0h3m69 0h3m52 0h3m-86 1h3m-17 1h3m31 0h3m30 0h3m4 0h3m-25 1h3m-104 1h3m53 0h3m39 1h3m-43 1h3m100 0h3m-26 1h3m-73 1h3m10 0h3m25 2h3m88 0h3m-157 2h3m36 1h3m14 0h3m-18 1h3m3 0h3m41 1h3m20 3h3m-99 1h3m62 0h3m-59 2h3m27 1h3m94 0h3m-111 1h3m82 0h3m27 0h3m-67 1h3m-79 1h3m5 0h3m94 1h3m-117 1h3m49 1h3m-56 1h3m28 2h3m19 0h3m-11 3h3m-144 2h3m134 3h3m25 1h3m-123 2h3m34 1h3m20 4h3m4 1h3m32 2h3m-53 2h3m43 1h3m21 2h3m-86 2h3m46 3h3m-34 10h3m-1 0h3m18 1h3m-11 4h3m-44 2h3m65 3h3m29 3h3m-81 17h3m71 7h3m-93 3h3m30 0h3" stroke-opacity="0.19"/><path d="M845 1180h3m16 0h3m80 0h3m2 0h3m23 0h3m0 0h3m105 0h3m-132 1h3m4 0h3m0 0h3m6 0h3m2 0h3m1 0h3m0 0h3m26 0h3m1 0h3m5 0h3m5 0h3m12 0h3m25 0h3m1 0h3m5 0h3m-226 1h3m17 0h3m65 0h3m0 0h3m0 0h3m3 0h3m24 0h3m12 0h3m0 0h3m1 0h3m3 0h3m1 0h3m6 0h3m8 0h3m2 0h3m1 0h3m-160 1h3m3 0h3m26 0h3m0 0h3m11 0h3m2 0h3m10 0h3m2 0h3m28 0h3m7 0h3m40 0h3m-210 1h3m41 0h3m44 0h3m28 0h3m55 0h3m26 0h3m23 0h3m-242 1h3m76 0h3" stroke-opacity="0.22"/><path d="M1120 226h3m8 3h3m-11 1h3m10 3h3m-21 4h3m18 0h3m-69 6h3m25 4h3m0 0h3m12 0h3m9 1h3m-42 1h3m1 0h3m-37 2h3m41 1h3m-43 3h3m44 0h3m-60 1h3m30 0h3m11 0h3m0 0h3m-1 0h3m71 0h3m-68 1h3m17 1h3m-54 2h3m10 0h3m70 0h3m-87 1h3m1 0h3m13 1h3m1 0h3m3 0h3m16 0h3m-34 1h3m-38 1h3m4 0h3m19 0h3m30 0h3m-65 1h3m0 0h3m30 0h3m-54 1h3m60 0h3m-3 1h3m-60 1h3m9 0h3m31 0h3m-39 1h3m7 0h3m-2 0h3m-2 0h3m13 0h3m12 0h3m-40 1h3m-1 0h3m3 0h3m11 1h3m2 0h3m9 0h3m-45 2h3m18 1h3m-22 1h3m-2 0h3m10 0h3m17 0h3m39 0h3m-113 1h3m25 0h3m1 0h3m4 0h3m48 0h3m-72 1h3m15 0h3m5 0h3m34 0h3m-88 1h3m21 0h3m3 0h3m35 0h3m-45 1h3m11 0h3m0 0h3m0 0h3m3 0h3m18 0h3m2 0h3m-73 1h3m13 0h3m2 0h3m-1 0h3m5 0h3m6 0h3m-2 0h3m-1 0h3m21 0h3m14 0h3m-96 1h3m9 0h3m25 0h3m7 0h3m0 0h3m15 0h3m22 0h3m-74 1h3m2 0h3m2 0h3m9 0h3m6 0h3m-86 1h3m27 0h3m8 0h3m1 0h3m5 0h3m13 0h3m-1 0h3m-2 0h3m-1 0h3m-3 0h3m1 0h3m2 0h3m18 0h3m-2 0h3m18 0h3m-101 1h3m23 0h3m0 0h3m12 0h3m6 0h3m15 0h3m-2 0h3m-85 1h3m17 0h3m21 0h3m12 0h3m6 0h3m-63 1h3m19 0h3m12 0h3m12 0h3m18 0h3m-58 1h3m17 0h3m-2 0h3m6 0h3m6 0h3m15 0h3m-2 0h3m36 0h3m-128 1h3m5 0h3m3 0h3m17 0h3m-3 0h3m2 0h3m2 0h3m1 0h3m12 0h3m-49 1h3m20 0h3m18 0h3m12 0h3m-59 1h3m3 0h3m6 0h3m20 0h3m-2 0h3m-65 1h3m16 0h3m0 0h3m17 0h3m-3 0h3m-1 0h3m6 0h3m3 0h3m-2 0h3m13 0h3m-77 1h3m5 0h3m9 0h3m-2 0h3m4 0h3m-1 0h3m-3 0h3m2 0h3m2 0h3m1 0h3m4 0h3m-1 0h3m2 0h3m6 0h3m3 0h3m7 0h3m-96 1h3m0 0h3m22 0h3m-2 0h3m5 0h3m7 0h3m2 0h3m-2 0h3m8 0h3m-2 0h3m-1 0h3m0 0h3m2 0h3m17 0h3m-72 1h3m8 0h3m8 0h3m1 0h3m4 0h3m3 0h3m-1 0h3m-1 0h3m-2 0h3m-60 1h3m18 0h3m-1 0h3m2 0h3m-1 0h3m2 0h3m-2 0h3m5 0h3m3 0h3m4 0h3m17 0h3m18 0h3m10 0h3m-107 1h3m-2 0h3m15 0h3m11 0h3m6 0h3m-2 0h3m-1 0h3m14 0h3m1 0h3m11 0h3m-119 1h3m39 0h3m-2 0h3m3 0h3m9 0h3m-3 0h3m14 0h3m-2 0h3m-1 0h3m21 0h3m4 0h3m-89 1h3m3 0h3m-1 0h3m4 0h3m5 0h3m4 0h3m3 0h3m-2 0h3m8 0h3m8 0h3m-2 0h3m2 0h3m14 0h3m-85 1h3m8 0h3m9 0h3m1 0h3m1 0h3m26 0h3m3 0h3m7 0h3m-73 1h3m15 0h3m0 0h3m-2 0h3m0 0h3m6 0h3m1 0h3m-1 0h3m11 0h3m-2 0h3m-3 0h3m8 0h3m-83 1h3m-2 0h3m9 0h3m2 0h3m1 0h3m8 0h3m9 0h3m0 0h3m9 0h3m8 0h3m1 0h3m-1 0h3m-72 1h3m4 0h3m0 0h3m4 0h3m1 0h3m-1 0h3m5 0h3m-2 0h3m-2 0h3m-2 0h3m6 0h3m1 0h3m-2 0h3m-1 0h3m1 0h3m1 0h3m22 0h3m-69 1h3m4 0h3m0 0h3m8 0h3m7 0h3m-1 0h3m5 0h3m-2 0h3m14 0h3m-84 1h3m9 0h3m19 0h3m5 0h3m-1 0h3m-3 0h3m13 0h3m10 0h3m-81 1h3m16 0h3m-2 0h3m11 0h3m-3 0h3m-2 0h3m1 0h3m3 0h3m0 0h3m-2 0h3m-1 0h3m-2 0h3m5 0h3m2 0h3m11 0h3m16 0h3m-94 1h3m2 0h3m2 0h3m0 0h3m3 0h3m3 0h3m6 0h3m16 0h3m0 0h3m2 0h3m-1 0h3m-1 0h3m2 0h3m-107 1h3m53 0h3m8 0h3m1 0h3m-1 0h3m9 0h3m-84 1h3m20 0h3m9 0h3m0 0h3m12 0h3m4 0h3m4 0h3m-1 0h3m5 0h3m-2 0h3m4 0h3m9 0h3m-2 0h3m-75 1h3m3 0h3m8 0h3m-3 0h3m1 0h3m0 0h3m-2 0h3m-1 0h3m0 0h3m4 0h3m-3 0h3m3 0h3m-3 0h3m11 0h3m7 0h3m9 0h3m-3 0h3m-109 1h3m11 0h3m9 0h3m12 0h3m5 0h3m0 0h3m13 0h3m3 0h3m-2 0h3m-2 0h3m9 0h3m6 0h3m-2 0h3m4 0h3m3 0h3m-96 1h3m-1 0h3m15 0h3m30 0h3m11 0h3m2 0h3m6 0h3m0 0h3m-2 0h3m8 0h3m-98 1h3m20 0h3m0 0h3m7 0h3m-3 0h3m-1 0h3m2 0h3m2 0h3m1 0h3m8 0h3m-1 0h3m4 0h3m11 0h3m28 0h3m-93 1h3m6 0h3m-1 0h3m6 0h3m-2 0h3m-1 0h3m6 0h3m-3 0h3m6 0h3m0 0h3m16 0h3m2 0h3m-78 1h3m5 0h3m3 0h3m-2 0h3m-3 0h3m-2 0h3m-2 0h3m1 0h3m2 0h3m5 0h3m7 0h3m8 0h3m-80 1h3m16 0h3m9 0h3m3 0h3m-1 0h3m-1 0h3m-3 0h3m-2 0h3m-2 0h3m2 0h3m14 0h3m1 0h3m-2 0h3m5 0h3m15 0h3m-66 1h3m-1 0h3m5 0h3m-2 0h3m-1 0h3m4 0h3m0 0h3m4 0h3m7 0h3m3 0h3m10 0h3m-125 1h3m42 0h3m10 0h3m0 0h3m2 0h3m-1 0h3m26 0h3m2 0h3m5 0h3m8 0h3m-61 1h3m6 0h3m7 0h3m2 0h3m-1 0h3m9 0h3m18 0h3m-122 1h3m14 0h3m4 0h3m17 0h3m-1 0h3m-1 0h3m-1 0h3m12 0h3m-2 0h3m-3 0h3m3 0h3m6 0h3m12 0h3m12 0h3m2 0h3m-75 1h3m0 0h3m2 0h3m6 0h3m-3 0h3m2 0h3m14 0h3m13 0h3m15 0h3m1 0h3m-120 1h3m10 0h3m9 0h3m-3 0h3m0 0h3m19 0h3m6 0h3m2 0h3m4 0h3m2 0h3m-1 0h3m-74 1h3m1 0h3m12 0h3m9 0h3m3 0h3m8 0h3m0 0h3m10 0h3m6 0h3m2 0h3m17 0h3m-76 1h3m6 0h3m-2 0h3m5 0h3m7 0h3m-2 0h3m5 0h3m-1 0h3m4 0h3m3 0h3m9 0h3m2 0h3m7 0h3m3 0h3m-88 1h3m12 0h3m0 0h3m0 0h3m8 0h3m12 0h3m10 0h3m-3 0h3m-75 1h3m9 0h3m18 0h3m19 0h3m0 0h3m-70 1h3m23 0h3m9 0h3m5 0h3m-2 0h3m13 0h3m2 0h3m0 0h3m0 0h3m11 0h3m-72 1h3m-1 0h3m0 0h3m8 0h3m16 0h3m-3 0h3m7 0h3m3 0h3m-1 0h3m-1 0h3m-83 1h3m14 0h3m0 0h3m-1 0h3m0 0h3m12 0h3m7 0h3m14 0h3m25 0h3m11 0h3m-81 1h3m-2 0h3m-3 0h3m14 0h3m0 0h3m11 0h3m0 0h3m-2 0h3m14 0h3m1 0h3m-123 1h3m45 0h3m13 0h3m1 0h3m0 0h3m5 0h3m-1 0h3m18 0h3m6 0h3m9 0h3m-69 1h3m5 0h3m1 0h3m14 0h3m0 0h3m-3 0h3m11 0h3m0 0h3m-1 0h3m-29 1h3m0 0h3m5 0h3m8 0h3m15 0h3m-81 1h3m16 0h3m0 0h3m14 0h3m5 0h3m1 0h3m8 0h3m9 0h3m-1 0h3m-91 1h3m-2 0h3m28 0h3m3 0h3m-2 0h3m-1 0h3m-2 0h3m25 0h3m0 0h3m1 0h3m21 0h3m-63 1h3m5 0h3m16 0h3m9 0h3m9 0h3m0 0h3m-65 1h3m-1 0h3m5 0h3m9 0h3m15 0h3m-65 1h3m10 0h3m6 0h3m0 0h3m60 0h3m-106 1h3m3 0h3m12 0h3m10 0h3m4 0h3m11 0h3m-1 0h3m25 0h3m-76 1h3m14 0h3m8 0h3m-3 0h3m1 0h3m7 0h3m6 0h3m9 0h3m36 0h3m-135 1h3m38 0h3m31 0h3m42 0h3m-108 1h3m15 0h3m15 0h3m1 0h3m1 0h3m3 0h3m17 0h3m-81 1h3m22 0h3m24 0h3m14 0h3m-3 0h3m-1 0h3m7 0h3m-68 1h3m30 0h3m1 0h3m-2 0h3m4 0h3m2 0h3m-3 0h3m5 0h3m6 0h3m-83 1h3m-2 0h3m43 0h3m12 0h3m-3 0h3m-2 0h3m9 0h3m-62 1h3m29 0h3m3 0h3m24 0h3m-89 1h3m5 0h3m22 0h3m20 0h3m20 0h3m-84 1h3m19 0h3m2 0h3m17 0h3m10 0h3m-34 1h3m9 0h3m1 0h3m-20 1h3m0 0h3m31 0h3m-67 1h3m46 0h3m23 0h3m2 0h3m-60 1h3m9 0h3m-2 0h3m9 0h3m10 0h3m44 0h3m-74 1h3m31 0h3m10 0h3m1 0h3m-60 1h3m53 0h3m-30 1h3m-8 1h3m-31 1h3m51 0h3m-1 0h3m-59 1h3m14 0h3m20 0h3m-17 2h3m-5 1h3m-1 0h3m0 0h3m-3 0h3m-35 1h3m-41 1h3m3 0h3m29 0h3m2 0h3m1 0h3m15 0h3m24 0h3m-34 1h3m-51 1h3m9 1h3m6 0h3m4 0h3m19 3h3m-12 1h3m-13 1h3m-2 0h3m2 0h3m4 0h3m-57 1h3m35 1h3m17 0h3m2 0h3m-26 3h3m-1 0h3m16 1h3m-25 5h3m-38 5h3m-20 1h3m52 0h3m-40 2h3m45 4h3m10 4h3" stroke-opacity="0.25"/></g>
<line x1="400.0" y1="456.4" x2="400.0" y2="577.0" stroke="#858585" stroke-width="1.2"/>
<line x1="399.5" y1="576.4" x2="519.4" y2="576.4" stroke="#6a6a6a" stroke-width="1.1"/>
<path d="M396.5 575.6H400.0M396.5 553.7H400.0M396.5 531.9H400.0M396.5 510.0H400.0M396.5 488.1H400.0M396.5 466.2H400.0M400.0 576.4V579.9M421.8 576.4V579.9M443.5 576.4V579.9M465.2 576.4V579.9M487.0 576.4V579.9M508.8 576.4V579.9" stroke="#222" stroke-width="1.3" fill="none"/>
<path d="M398.0 569.0H400.0M398.0 565.2H400.0M398.0 562.4H400.0M398.0 560.3H400.0M398.0 558.6H400.0M398.0 557.1H400.0M398.0 555.8H400.0M398.0 554.7H400.0M398.0 547.1H400.0M398.0 543.3H400.0M398.0 540.6H400.0M398.0 538.4H400.0M398.0 536.7H400.0M398.0 535.2H400.0M398.0 534.0H400.0M398.0 532.9H400.0M398.0 525.3H400.0M398.0 521.4H400.0M398.0 518.7H400.0M398.0 516.6H400.0M398.0 514.8H400.0M398.0 513.4H400.0M398.0 512.1H400.0M398.0 511.0H400.0M398.0 503.4H400.0M398.0 499.5H400.0M398.0 496.8H400.0M398.0 494.7H400.0M398.0 493.0H400.0M398.0 491.5H400.0M398.0 490.2H400.0M398.0 489.1H400.0M398.0 481.5H400.0M398.0 477.7H400.0M398.0 474.9H400.0M398.0 472.8H400.0M398.0 471.1H400.0M398.0 469.6H400.0M398.0 468.3H400.0M398.0 467.2H400.0M398.0 459.6H400.0M406.5 576.4V578.4M410.4 576.4V578.4M413.1 576.4V578.4M415.2 576.4V578.4M416.9 576.4V578.4M418.4 576.4V578.4M419.6 576.4V578.4M420.8 576.4V578.4M428.3 576.4V578.4M432.1 576.4V578.4M434.8 576.4V578.4M437.0 576.4V578.4M438.7 576.4V578.4M440.1 576.4V578.4M441.4 576.4V578.4M442.5 576.4V578.4M450.0 576.4V578.4M453.9 576.4V578.4M456.6 576.4V578.4M458.7 576.4V578.4M460.4 576.4V578.4M461.9 576.4V578.4M463.1 576.4V578.4M464.3 576.4V578.4M471.8 576.4V578.4M475.6 576.4V578.4M478.3 576.4V578.4M480.5 576.4V578.4M482.2 576.4V578.4M483.6 576.4V578.4M484.9 576.4V578.4M486.0 576.4V578.4M493.5 576.4V578.4M497.4 576.4V578.4M500.1 576.4V578.4M502.2 576.4V578.4M503.9 576.4V578.4M505.4 576.4V578.4M506.6 576.4V578.4M507.8 576.4V578.4M515.3 576.4V578.4M519.1 576.4V578.4" stroke="#3a3a3a" stroke-width="0.85" fill="none"/>
<text x="402.0" y="587.3" font-size="4.8" fill="#333" letter-spacing="-0.2">10<tspan font-size="4.2" dy="-2.9" fill="#222">0</tspan></text>
<text x="423.8" y="587.3" font-size="4.8" fill="#333" letter-spacing="-0.2">10<tspan font-size="4.2" dy="-2.9" fill="#222">1</tspan></text>
<text x="445.5" y="587.3" font-size="4.8" fill="#333" letter-spacing="-0.2">10<tspan font-size="4.2" dy="-2.9" fill="#222">2</tspan></text>
<text x="467.2" y="587.3" font-size="4.8" fill="#333" letter-spacing="-0.2">10<tspan font-size="4.2" dy="-2.9" fill="#222">3</tspan></text>
<text x="489.0" y="587.3" font-size="4.8" fill="#333" letter-spacing="-0.2">10<tspan font-size="4.2" dy="-2.9" fill="#222">4</tspan></text>
<text x="510.8" y="587.3" font-size="4.8" fill="#333" letter-spacing="-0.2">10<tspan font-size="4.2" dy="-2.9" fill="#222">5</tspan></text>
<text x="458.0" y="598.9" font-size="5.1" fill="#222" text-anchor="middle">Comp-APC-A</text>
<text x="456.0" y="554.5" font-size="5.1" fill="#111" text-anchor="middle">Comp-APC-A, Comp-PE-A subset</text>
<text x="456.0" y="562.5" font-size="5.1" fill="#111" text-anchor="middle">79.3</text>
<rect x="466.4" y="467.0" width="51.5" height="44.2" fill="none" stroke="#000" stroke-width="2"/>
<line x1="58.2" y1="624.9" x2="511.5" y2="624.9" stroke="#000" stroke-width="2.5"/>
<path d="M506.3 621.2L512.8 624.9L506.3 628.6" fill="none" stroke="#000" stroke-width="2.3" stroke-linecap="round" stroke-linejoin="miter"/>
<text x="249.6" y="644.6" font-size="13.3" font-weight="bold"><tspan textLength="25.3" lengthAdjust="spacingAndGlyphs">CD8</tspan><tspan font-size="9.6" dx="0.3" dy="-3.7">+</tspan></text>
</svg></body></html>
